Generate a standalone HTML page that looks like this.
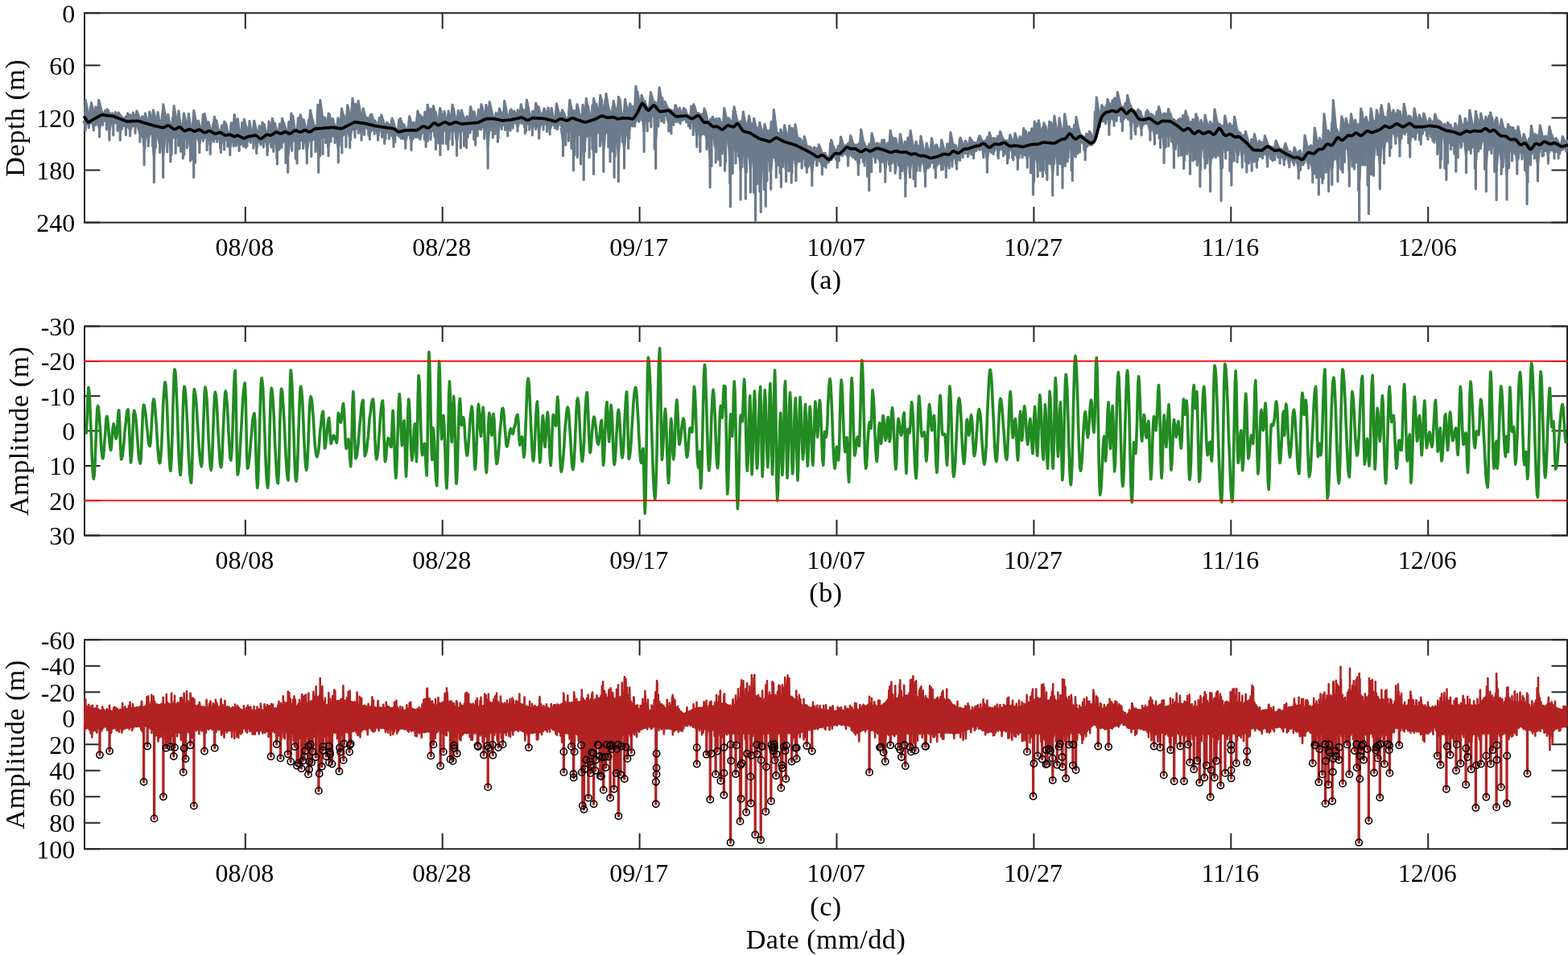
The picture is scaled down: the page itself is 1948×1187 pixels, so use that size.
<!DOCTYPE html>
<html lang="en">
<head>
<meta charset="utf-8">
<title>Depth and amplitude time series</title>
<style>
html,body{margin:0;padding:0;background:#fff;}
body{width:1948px;height:1187px;overflow:hidden;}
svg{display:block;}
svg text{font-family:"Liberation Serif","DejaVu Serif",serif;font-size:32px;fill:#000;}
svg text.L{font-size:34.2px;letter-spacing:0.5px;}
</style>
</head>
<body>
<svg width="1948" height="1187" viewBox="0 0 1948 1187">
<rect width="1948" height="1187" fill="#fff"/>
<g id="panel-a">
<rect x="105.0" y="16.2" width="1842.0" height="260.4" fill="none" stroke="#262626" stroke-width="2"/>
<path d="M304.8 276.6v-19.5M304.8 16.2v19.5M549.7 276.6v-19.5M549.7 16.2v19.5M794.6 276.6v-19.5M794.6 16.2v19.5M1039.5 276.6v-19.5M1039.5 16.2v19.5M1284.4 276.6v-19.5M1284.4 16.2v19.5M1529.3 276.6v-19.5M1529.3 16.2v19.5M1774.2 276.6v-19.5M1774.2 16.2v19.5M105.0 16.2h19.5M1947.0 16.2h-19.5M105.0 81.3h19.5M1947.0 81.3h-19.5M105.0 146.4h19.5M1947.0 146.4h-19.5M105.0 211.5h19.5M1947.0 211.5h-19.5M105.0 276.6h19.5M1947.0 276.6h-19.5" stroke="#262626" stroke-width="2" fill="none"/>
<path d="M105 142.4L106.2 143.3L107.4 145.4L108.6 147.4L109.8 147.3L111 147.6L112.2 147L113.4 145.6L114.6 144.6L115.8 144.6L117 144.8L118.2 143.7L119.4 143.7L120.6 143.3L121.8 142.1L123 141.3L124.2 140.7L125.4 140.1L126.6 138.8L127.8 139L129 140L130.2 140.2L131.4 139.7L132.6 139.7L133.8 139.7L135 141.3L136.2 140.1L137.4 140.2L138.6 141.7L139.8 140.8L141 142L142.2 141.2L143.4 142.9L144.6 143.4L145.8 142.8L147 143.6L148.2 144.6L149.4 145.1L150.6 145.6L151.8 145.9L153 145.2L154.2 146.7L155.4 147.2L156.6 146.7L157.8 148.1L159 148L160.2 147.1L161.4 147.8L162.6 148.1L163.8 147.8L165 147.6L166.2 146.7L167.4 147.2L168.6 147.8L169.8 146.6L171 147.6L172.2 146.9L173.4 148.1L174.6 147.4L175.8 148.5L177 149.4L178.2 149.5L179.4 149.8L180.6 149.7L181.8 150.6L183 151.2L184.2 150.8L185.4 151.1L186.6 151L187.8 152.7L189 152.3L190.2 153L191.4 152.6L192.6 153.1L193.8 152.4L195 153L196.2 154L197.4 154.4L198.6 153.6L199.8 154.8L201 154.3L202.2 154.7L203.4 154.9L204.6 153.4L205.8 152.9L207 152.4L208.2 152.6L209.4 151.8L210.6 153.2L211.8 153.1L213 154.1L214.2 154.9L215.4 156.3L216.6 155.6L217.8 156L219 155.6L220.2 155.6L221.4 155.7L222.6 155.4L223.8 155L225 155.5L226.2 156.5L227.4 157.8L228.6 158.6L229.8 159.1L231 157.8L232.2 158.2L233.4 158L234.6 157.9L235.8 156.9L237 157.1L238.2 158L239.4 159.1L240.6 158.5L241.8 158.9L243 159.3L244.2 158.7L245.4 158.7L246.6 157.8L247.8 158L249 157.5L250.2 159.6L251.4 159L252.6 160L253.8 161.2L255 161.5L256.2 160.6L257.4 159.7L258.6 160.4L259.8 159.4L261 159.7L262.2 160L263.4 160.8L264.6 161.6L265.8 162.9L267 162.4L268.2 163.1L269.4 162.1L270.6 162L271.8 162L273 160.9L274.2 161.1L275.4 163L276.6 163L277.8 164.1L279 163.9L280.2 164.1L281.4 164.4L282.6 164.1L283.8 164L285 164.4L286.2 163.3L287.4 164.5L288.6 165.3L289.8 165L291 166.6L292.2 165.5L293.4 165.2L294.6 164.4L295.8 164.5L297 165.7L298.2 166.5L299.4 166.4L300.6 166.4L301.8 166.8L303 167.3L304.2 168.1L305.4 167.6L306.6 166.6L307.8 165.9L309 166.5L310.2 165.6L311.4 166.4L312.6 165.1L313.8 165.6L315 165.4L316.2 165.1L317.4 164.5L318.6 165.8L319.8 166.4L321 166.9L322.2 167.9L323.4 167.8L324.6 168.8L325.8 168.3L327 166.6L328.2 166.4L329.4 166.1L330.6 164.3L331.8 163.7L333 164.7L334.2 164.3L335.4 165.1L336.6 165.3L337.8 164.7L339 163.8L340.2 162.7L341.4 162.2L342.6 161.3L343.8 161.6L345 161.4L346.2 161.6L347.4 162L348.6 162.3L349.8 161.8L351 162.2L352.2 161.9L353.4 160.4L354.6 161.1L355.8 161.4L357 161L358.2 161.5L359.4 162.5L360.6 162.9L361.8 161.2L363 160.2L364.2 160.2L365.4 159.6L366.6 159.5L367.8 159.6L369 159.3L370.2 159.6L371.4 160.5L372.6 159.8L373.8 159.5L375 160.4L376.2 159.3L377.4 159.1L378.6 158.3L379.8 158.1L381 158.4L382.2 159.6L383.4 159.2L384.6 160.1L385.8 159L387 157.8L388.2 157.4L389.4 156.8L390.6 156.2L391.8 155.1L393 156.1L394.2 155.3L395.4 155.1L396.6 154.9L397.8 155.1L399 154.9L400.2 155L401.4 155.5L402.6 155.9L403.8 154.9L405 155.5L406.2 154.8L407.4 154.8L408.6 154.9L409.8 154.2L411 154.6L412.2 154.2L413.4 154.9L414.6 155.5L415.8 156L417 155.6L418.2 155.8L419.4 155.4L420.6 154.9L421.8 154.9L423 155.2L424.2 155.4L425.4 155.8L426.6 155.1L427.8 154.5L429 153.2L430.2 152.2L431.4 152.2L432.6 151.9L433.8 150.9L435 150.9L436.2 150.4L437.4 149.9L438.6 149.5L439.8 148.7L441 147.8L442.2 147.5L443.4 149.1L444.6 148.7L445.8 148.1L447 148.9L448.2 148.9L449.4 148.7L450.6 149.5L451.8 149.7L453 150.5L454.2 150.3L455.4 150.7L456.6 151L457.8 151.1L459 151.1L460.2 151.1L461.4 151.8L462.6 153L463.8 152.3L465 153.2L466.2 153L467.4 153.3L468.6 153.2L469.8 154.2L471 153.4L472.2 154.9L473.4 154.7L474.6 154.4L475.8 154.7L477 155.6L478.2 155.1L479.4 155.5L480.6 155.9L481.8 155.3L483 156.5L484.2 155.6L485.4 155.9L486.6 156.6L487.8 156.2L489 156.6L490.2 157.8L491.4 157.9L492.6 159.1L493.8 160.3L495 161.1L496.2 160.2L497.4 159.8L498.6 159.4L499.8 160L501 160L502.2 158.8L503.4 159.3L504.6 159.1L505.8 159L507 158.5L508.2 158.1L509.4 158.1L510.6 158.2L511.8 158.9L513 158L514.2 159L515.4 158.7L516.6 158.6L517.8 158.7L519 157.2L520.2 156.4L521.4 156.7L522.6 155L523.8 155.6L525 154.1L526.2 153L527.4 153.6L528.6 154.3L529.8 155.3L531 154.6L532.2 155.7L533.4 154.8L534.6 153.1L535.8 152.8L537 151.4L538.2 150.6L539.4 149.1L540.6 150.1L541.8 150.3L543 150.6L544.2 151.2L545.4 151L546.6 150.5L547.8 149.9L549 150L550.2 149.1L551.4 149.2L552.6 148.4L553.8 149.2L555 149.9L556.2 150.2L557.4 150.9L558.6 151.2L559.8 150.1L561 150.8L562.2 149.7L563.4 150.2L564.6 149.6L565.8 149.1L567 148.8L568.2 149.7L569.4 150.1L570.6 150.2L571.8 149.7L573 150.9L574.2 149.9L575.4 150.4L576.6 150.4L577.8 151L579 149.8L580.2 150.2L581.4 150.5L582.6 149.8L583.8 150.7L585 150L586.2 149.3L587.4 150L588.6 149.6L589.8 148.7L591 148.9L592.2 149.3L593.4 149.3L594.6 149.1L595.8 147.4L597 148L598.2 146.6L599.4 146.4L600.6 145.2L601.8 144.9L603 144.5L604.2 143.9L605.4 144L606.6 144.4L607.8 145L609 144.8L610.2 145.1L611.4 144.6L612.6 144.7L613.8 145.1L615 144.7L616.2 144.4L617.4 145.9L618.6 145.1L619.8 145.5L621 146.6L622.2 145.6L623.4 146.2L624.6 146.7L625.8 146.7L627 146.5L628.2 146.6L629.4 145.7L630.6 145.3L631.8 145.5L633 145.2L634.2 146.1L635.4 145.2L636.6 145.7L637.8 144.4L639 145.3L640.2 145L641.4 144.4L642.6 143.3L643.8 143.7L645 143.1L646.2 143.4L647.4 143.2L648.6 143.3L649.8 142.9L651 143.9L652.2 145.4L653.4 145.3L654.6 146.1L655.8 145.6L657 144.7L658.2 145.3L659.4 143.7L660.6 144.1L661.8 144.1L663 142.8L664.2 143.3L665.4 144.1L666.6 143.5L667.8 144.4L669 143.7L670.2 144.1L671.4 144.1L672.6 144.5L673.8 144.6L675 144L676.2 144.1L677.4 143.9L678.6 144.3L679.8 145.6L681 145.7L682.2 146L683.4 145.4L684.6 146.1L685.8 147.2L687 146.1L688.2 146.9L689.4 147.1L690.6 147.5L691.8 146.4L693 146.7L694.2 146.2L695.4 144.9L696.6 144.7L697.8 144.8L699 144.9L700.2 145.2L701.4 145.1L702.6 146.1L703.8 146.1L705 146L706.2 145.8L707.4 144.7L708.6 144.7L709.8 143.9L711 143.5L712.2 144L713.4 144.5L714.6 144.2L715.8 144.5L717 144.8L718.2 145.3L719.4 146.3L720.6 146.1L721.8 147L723 146.6L724.2 147.3L725.4 147.7L726.6 146.9L727.8 147.2L729 147.3L730.2 147.2L731.4 146.3L732.6 146.6L733.8 146.2L735 144.6L736.2 145.3L737.4 144.8L738.6 143.5L739.8 143.7L741 142.9L742.2 143.2L743.4 142.3L744.6 140.8L745.8 141L747 140.8L748.2 139.8L749.4 140.2L750.6 141.1L751.8 140.9L753 142.3L754.2 142.5L755.4 142.7L756.6 141.6L757.8 141.3L759 141.6L760.2 141.6L761.4 141.9L762.6 142.5L763.8 142.2L765 143.4L766.2 143.2L767.4 143.9L768.6 143.1L769.8 143.9L771 142.8L772.2 143.6L773.4 143.7L774.6 143.1L775.8 143L777 142.8L778.2 143.3L779.4 143.5L780.6 142.5L781.8 143.3L783 143.4L784.2 142.2L785.4 143L786.6 143L787.8 141.7L789 140.1L790.2 138.9L791.4 136.5L792.6 135L793.8 132.7L795 130.2L796.2 128.3L797.4 126.4L798.6 126.2L799.8 127L801 129.3L802.2 130.7L803.4 131.7L804.6 132.9L805.8 133.1L807 132.8L808.2 132L809.4 130.4L810.6 129.6L811.8 128.8L813 128.2L814.2 129.1L815.4 131.4L816.6 132.8L817.8 133.2L819 135L820.2 135.8L821.4 135.6L822.6 135.5L823.8 134.4L825 135.4L826.2 134.9L827.4 133.9L828.6 134.5L829.8 133.6L831 134.5L832.2 136L833.4 135.7L834.6 137.4L835.8 138.2L837 139.8L838.2 139.6L839.4 141.3L840.6 141.3L841.8 141.4L843 141.5L844.2 140.5L845.4 141.9L846.6 140.9L847.8 141.3L849 140.4L850.2 140.3L851.4 141L852.6 141.2L853.8 141.9L855 142.5L856.2 143.1L857.4 143.5L858.6 144L859.8 143.1L861 142.9L862.2 143.1L863.4 142.1L864.6 142.2L865.8 141.8L867 140.9L868.2 140.6L869.4 142.6L870.6 143.2L871.8 144.9L873 146.1L874.2 148.4L875.4 149.6L876.6 149.1L877.8 148.7L879 148.8L880.2 150.2L881.4 150.4L882.6 151.7L883.8 152.3L885 153.1L886.2 153.9L887.4 154.7L888.6 154.3L889.8 154L891 153.6L892.2 155.1L893.4 155.9L894.6 156.9L895.8 156.8L897 156.8L898.2 157L899.4 156.7L900.6 155.1L901.8 153.8L903 153.1L904.2 152.9L905.4 153.7L906.6 153.6L907.8 153.9L909 153.9L910.2 154.5L911.4 154.6L912.6 153.9L913.8 152.9L915 150.8L916.2 150L917.4 152L918.6 154.1L919.8 155.7L921 156.5L922.2 158.4L923.4 160.1L924.6 159.3L925.8 160.6L927 161.1L928.2 160.8L929.4 161.6L930.6 161L931.8 161.9L933 162.9L934.2 163.8L935.4 163.6L936.6 164.2L937.8 166.1L939 166.5L940.2 166.2L941.4 168L942.6 168L943.8 169.6L945 169.4L946.2 169.6L947.4 169.8L948.6 170L949.8 169.7L951 170.9L952.2 171.3L953.4 171.1L954.6 171.1L955.8 172.7L957 171.8L958.2 171.5L959.4 170.3L960.6 170.5L961.8 169.7L963 168.8L964.2 169L965.4 169.2L966.6 169.8L967.8 169.3L969 170.8L970.2 170.3L971.4 171.8L972.6 171.5L973.8 172.2L975 172.7L976.2 173.6L977.4 173.2L978.6 174L979.8 174.1L981 174.3L982.2 175.8L983.4 175.4L984.6 176.5L985.8 176.3L987 176.1L988.2 176.9L989.4 177.4L990.6 177.6L991.8 179.5L993 180L994.2 180.3L995.4 179.9L996.6 181.5L997.8 181.7L999 182.6L1000.2 182.6L1001.4 183.9L1002.6 184L1003.8 184.1L1005 185.1L1006.2 185.6L1007.4 187.3L1008.6 186.9L1009.8 188.3L1011 189.2L1012.2 189.6L1013.4 190.2L1014.6 191.5L1015.8 191.8L1017 191.9L1018.2 190.3L1019.4 191.1L1020.6 190.1L1021.8 190.3L1023 190.5L1024.2 190.9L1025.4 192.8L1026.6 192.7L1027.8 194.1L1029 194L1030.2 195.1L1031.4 193.4L1032.6 193.2L1033.8 191.8L1035 190.1L1036.2 188.9L1037.4 188.5L1038.6 186.9L1039.8 187.6L1041 187.2L1042.2 187.8L1043.4 186.9L1044.6 185.8L1045.8 184.8L1047 184.1L1048.2 182.7L1049.4 182.1L1050.6 181.3L1051.8 179.9L1053 179.9L1054.2 180.6L1055.4 180.5L1056.6 182.3L1057.8 181.4L1059 181.3L1060.2 181.3L1061.4 182.1L1062.6 182.1L1063.8 183.2L1065 183.2L1066.2 183.6L1067.4 184.7L1068.6 185.1L1069.8 186.1L1071 185.1L1072.2 184.7L1073.4 183.2L1074.6 183.2L1075.8 182.1L1077 183.6L1078.2 182.8L1079.4 183.7L1080.6 184.1L1081.8 184.1L1083 183.3L1084.2 183.3L1085.4 183.4L1086.6 182L1087.8 181.5L1089 181.5L1090.2 181.1L1091.4 181.5L1092.6 181.6L1093.8 182L1095 181.8L1096.2 182.8L1097.4 182.7L1098.6 183L1099.8 183.9L1101 184.8L1102.2 184.6L1103.4 184.5L1104.6 184.7L1105.8 185.3L1107 185.3L1108.2 185.1L1109.4 185.6L1110.6 185L1111.8 184.1L1113 185L1114.2 185.6L1115.4 184.7L1116.6 185.7L1117.8 185L1119 185.6L1120.2 185.5L1121.4 186.2L1122.6 186.6L1123.8 185.1L1125 186.4L1126.2 186.4L1127.4 186.5L1128.6 187.7L1129.8 187.9L1131 187.3L1132.2 188.7L1133.4 188.4L1134.6 188.3L1135.8 187.6L1137 187.5L1138.2 188.6L1139.4 188.4L1140.6 189.8L1141.8 189.1L1143 190.2L1144.2 189.4L1145.4 189.9L1146.6 190.7L1147.8 191L1149 190.7L1150.2 191.1L1151.4 191.4L1152.6 192L1153.8 192.6L1155 192.9L1156.2 193.2L1157.4 192.5L1158.6 191.9L1159.8 191.9L1161 192.1L1162.2 191.9L1163.4 191.6L1164.6 191.5L1165.8 190.6L1167 190.5L1168.2 189.3L1169.4 189.6L1170.6 188.6L1171.8 188.5L1173 188.9L1174.2 189L1175.4 188.6L1176.6 188.2L1177.8 187.9L1179 189.3L1180.2 188.3L1181.4 187.1L1182.6 185.6L1183.8 184.1L1185 184.3L1186.2 185L1187.4 185.7L1188.6 187.1L1189.8 187.1L1191 186.8L1192.2 186.1L1193.4 185.5L1194.6 183.8L1195.8 183.9L1197 182.5L1198.2 182.4L1199.4 181.4L1200.6 182.3L1201.8 182.3L1203 180.8L1204.2 181.9L1205.4 180.7L1206.6 180.9L1207.8 180.1L1209 179.9L1210.2 179.5L1211.4 178.5L1212.6 177.9L1213.8 178.3L1215 178.4L1216.2 177.7L1217.4 176.9L1218.6 176.2L1219.8 175.4L1221 175.5L1222.2 174.6L1223.4 176.1L1224.6 177.4L1225.8 177.4L1227 179.1L1228.2 180.1L1229.4 180.1L1230.6 178.9L1231.8 179.1L1233 178.3L1234.2 177.5L1235.4 176.5L1236.6 175.6L1237.8 175.2L1239 176.1L1240.2 176.4L1241.4 175.9L1242.6 176L1243.8 175.4L1245 175L1246.2 175.1L1247.4 174.8L1248.6 174.5L1249.8 175.7L1251 176.2L1252.2 176.8L1253.4 177.2L1254.6 178.9L1255.8 177.6L1257 178.1L1258.2 178.3L1259.4 178.2L1260.6 177.7L1261.8 178.1L1263 177.9L1264.2 178.8L1265.4 178.6L1266.6 178L1267.8 178L1269 179L1270.2 179.5L1271.4 178.4L1272.6 178.9L1273.8 177.9L1275 178.6L1276.2 178.3L1277.4 177.1L1278.6 176.6L1279.8 175.8L1281 175.9L1282.2 175.5L1283.4 175.5L1284.6 175L1285.8 175.1L1287 175.1L1288.2 175.4L1289.4 175.7L1290.6 174.5L1291.8 175L1293 173.7L1294.2 174.2L1295.4 173.5L1296.6 173L1297.8 173.5L1299 173L1300.2 173.7L1301.4 173.2L1302.6 173.3L1303.8 173L1305 173.3L1306.2 173.5L1307.4 173.9L1308.6 173.8L1309.8 173.8L1311 173.4L1312.2 172.1L1313.4 171.8L1314.6 170.6L1315.8 170.4L1317 169.2L1318.2 169.2L1319.4 169.6L1320.6 169L1321.8 169.6L1323 168.9L1324.2 168.1L1325.4 166.7L1326.6 165.1L1327.8 164.4L1329 162.7L1330.2 164.4L1331.4 166L1332.6 166.4L1333.8 168L1335 168.3L1336.2 169.1L1337.4 168.4L1338.6 168.6L1339.8 167.2L1341 166.3L1342.2 165.6L1343.4 166.7L1344.6 167.1L1345.8 168.9L1347 169.1L1348.2 170.6L1349.4 170.9L1350.6 171.9L1351.8 172.6L1353 172.9L1354.2 173.4L1355.4 172.6L1356.6 171.7L1357.8 170.9L1359 169.6L1360.2 168.3L1361.4 165.1L1362.6 162.2L1363.8 157.9L1365 154.1L1366.2 149.8L1367.4 145.1L1368.6 143.1L1369.8 141.9L1371 140.4L1372.2 138L1373.4 136.5L1374.6 136.6L1375.8 135.6L1377 135.4L1378.2 135.3L1379.4 135.8L1380.6 134L1381.8 133.8L1383 134.5L1384.2 134.9L1385.4 135.3L1386.6 135.7L1387.8 135.1L1389 134.7L1390.2 133.9L1391.4 132.4L1392.6 132.8L1393.8 132.6L1395 132.8L1396.2 134L1397.4 135.3L1398.6 137.8L1399.8 137.4L1401 136.5L1402.2 135.1L1403.4 134.7L1404.6 134.4L1405.8 133.3L1407 135.5L1408.2 135.4L1409.4 137L1410.6 138.1L1411.8 140.9L1413 141.4L1414.2 143L1415.4 144.8L1416.6 145.5L1417.8 145.4L1419 145.2L1420.2 145.1L1421.4 145.8L1422.6 145.7L1423.8 145.3L1425 144.2L1426.2 144.8L1427.4 144.4L1428.6 144.6L1429.8 145.5L1431 146.2L1432.2 146.4L1433.4 147.1L1434.6 148.9L1435.8 149.2L1437 149.6L1438.2 150.2L1439.4 149.1L1440.6 149.2L1441.8 147.8L1443 147.8L1444.2 147.4L1445.4 147.1L1446.6 147.3L1447.8 148.1L1449 147.6L1450.2 146.8L1451.4 147.9L1452.6 146.8L1453.8 147.9L1455 148.8L1456.2 148.4L1457.4 150.3L1458.6 150L1459.8 150.6L1461 152.2L1462.2 153.1L1463.4 154.3L1464.6 154.8L1465.8 155.8L1467 157L1468.2 157.2L1469.4 157.8L1470.6 157.9L1471.8 158.7L1473 158L1474.2 156.6L1475.4 157.2L1476.6 156.5L1477.8 157L1479 158.6L1480.2 159.2L1481.4 161.3L1482.6 161.2L1483.8 162.1L1485 162.7L1486.2 161.8L1487.4 160.9L1488.6 160.2L1489.8 160.1L1491 160.8L1492.2 162.2L1493.4 162.8L1494.6 162.5L1495.8 162.6L1497 162.5L1498.2 161.2L1499.4 161.6L1500.6 161.1L1501.8 160L1503 160.4L1504.2 161.1L1505.4 162.3L1506.6 163.3L1507.8 163.2L1509 163L1510.2 161.2L1511.4 161.1L1512.6 159.3L1513.8 157.7L1515 156.3L1516.2 158.5L1517.4 159.7L1518.6 160.7L1519.8 163.2L1521 164.2L1522.2 164.2L1523.4 164.8L1524.6 164L1525.8 163.7L1527 164.3L1528.2 163.8L1529.4 163.9L1530.6 164.8L1531.8 165.9L1533 166.4L1534.2 167.5L1535.4 166.5L1536.6 166.2L1537.8 166.5L1539 166.4L1540.2 167.1L1541.4 168L1542.6 169.8L1543.8 171L1545 171.5L1546.2 172L1547.4 172.7L1548.6 175.2L1549.8 176.3L1551 176.3L1552.2 178.6L1553.4 178.9L1554.6 180.3L1555.8 181.3L1557 182.3L1558.2 182.7L1559.4 183.1L1560.6 183L1561.8 183.5L1563 184.1L1564.2 183L1565.4 183.2L1566.6 183.2L1567.8 183.5L1569 183L1570.2 181.5L1571.4 181.2L1572.6 179.6L1573.8 178.7L1575 178.3L1576.2 179.9L1577.4 180.3L1578.6 181.7L1579.8 181.6L1581 181.9L1582.2 183.4L1583.4 184L1584.6 184.5L1585.8 183.9L1587 182.8L1588.2 183.4L1589.4 183.7L1590.6 183.3L1591.8 184.7L1593 184.9L1594.2 185.8L1595.4 186L1596.6 187.2L1597.8 187.9L1599 188.2L1600.2 189.7L1601.4 190.1L1602.6 190L1603.8 190.5L1605 191.2L1606.2 192.2L1607.4 192.6L1608.6 192L1609.8 193.1L1611 192L1612.2 193L1613.4 192.9L1614.6 193.8L1615.8 194L1617 195.5L1618.2 195.3L1619.4 193.4L1620.6 192.5L1621.8 190.5L1623 188.3L1624.2 187.6L1625.4 186.9L1626.6 187.4L1627.8 187.4L1629 187.1L1630.2 187.3L1631.4 187.5L1632.6 186.4L1633.8 186L1635 184.8L1636.2 183.6L1637.4 183.1L1638.6 182.1L1639.8 181.1L1641 181.6L1642.2 180.3L1643.4 180.6L1644.6 178.9L1645.8 177.5L1647 176.3L1648.2 175.4L1649.4 175.3L1650.6 175.1L1651.8 175.6L1653 176.2L1654.2 175.2L1655.4 174.8L1656.6 173.7L1657.8 172.6L1659 171.4L1660.2 168.8L1661.4 168L1662.6 167.2L1663.8 167.7L1665 169.2L1666.2 169.4L1667.4 169.1L1668.6 168.7L1669.8 168.1L1671 168.1L1672.2 166.9L1673.4 166.6L1674.6 164.6L1675.8 165.1L1677 164.9L1678.2 164.7L1679.4 164.8L1680.6 164.1L1681.8 163.6L1683 163.2L1684.2 161.6L1685.4 161.5L1686.6 162.9L1687.8 163.1L1689 163.9L1690.2 164.8L1691.4 163.5L1692.6 163.6L1693.8 163L1695 161.2L1696.2 161.1L1697.4 159.7L1698.6 158.7L1699.8 159.6L1701 159.3L1702.2 159.4L1703.4 160.4L1704.6 160.5L1705.8 159.9L1707 158.9L1708.2 159.7L1709.4 159.4L1710.6 158.7L1711.8 158.1L1713 157L1714.2 157.6L1715.4 156.1L1716.6 155.1L1717.8 155.3L1719 154.5L1720.2 154.1L1721.4 154.1L1722.6 153.7L1723.8 154.7L1725 154.7L1726.2 154.6L1727.4 155.3L1728.6 154.8L1729.8 153.9L1731 152.6L1732.2 152.5L1733.4 151.9L1734.6 151.2L1735.8 151.3L1737 151.7L1738.2 152.2L1739.4 152.9L1740.6 152.6L1741.8 153.6L1743 153.5L1744.2 153.4L1745.4 152.8L1746.6 152.6L1747.8 151.9L1749 151.2L1750.2 150.2L1751.4 150.8L1752.6 151.3L1753.8 151.4L1755 153L1756.2 152.9L1757.4 153.9L1758.6 154L1759.8 154.5L1761 153.8L1762.2 153.7L1763.4 155L1764.6 153.7L1765.8 154.3L1767 153.8L1768.2 153.6L1769.4 153.4L1770.6 154.5L1771.8 153.5L1773 153.5L1774.2 153.5L1775.4 153.1L1776.6 153.7L1777.8 152.8L1779 153.9L1780.2 153.6L1781.4 153.7L1782.6 154.7L1783.8 153.8L1785 154.9L1786.2 154.7L1787.4 154.8L1788.6 155.2L1789.8 155.5L1791 156.1L1792.2 157.7L1793.4 158.1L1794.6 158.8L1795.8 158.6L1797 159.3L1798.2 158.7L1799.4 159.3L1800.6 159.1L1801.8 159.9L1803 159.7L1804.2 160.1L1805.4 160.7L1806.6 161.3L1807.8 160.7L1809 162.4L1810.2 162.6L1811.4 162.2L1812.6 162.4L1813.8 163.3L1815 162.7L1816.2 163.1L1817.4 162L1818.6 161.8L1819.8 159.8L1821 160.2L1822.2 159.3L1823.4 160.3L1824.6 160.3L1825.8 160.2L1827 160.5L1828.2 160.4L1829.4 160.2L1830.6 159.2L1831.8 158.8L1833 158.7L1834.2 159.8L1835.4 159.7L1836.6 160L1837.8 158.8L1839 160.1L1840.2 158.7L1841.4 158L1842.6 158.7L1843.8 158L1845 157.3L1846.2 157.3L1847.4 157.6L1848.6 159.1L1849.8 159.5L1851 160.2L1852.2 159.6L1853.4 159.6L1854.6 158.3L1855.8 158.5L1857 158.5L1858.2 160.4L1859.4 161.4L1860.6 161.7L1861.8 163.6L1863 164L1864.2 164.9L1865.4 166L1866.6 165.2L1867.8 166.4L1869 165.6L1870.2 166.3L1871.4 166.1L1872.6 167.4L1873.8 167.6L1875 168.9L1876.2 170.4L1877.4 170.1L1878.6 169.8L1879.8 170L1881 170.4L1882.2 170.7L1883.4 170.4L1884.6 172.6L1885.8 173.2L1887 174.2L1888.2 175.9L1889.4 177.3L1890.6 176.9L1891.8 176.1L1893 175.2L1894.2 174.6L1895.4 175.2L1896.6 176.2L1897.8 178.3L1899 179.7L1900.2 180.5L1901.4 181.2L1902.6 180.2L1903.8 179.9L1905 178.9L1906.2 177.3L1907.4 175.6L1908.6 175L1909.8 176.3L1911 176.9L1912.2 176.2L1913.4 176.3L1914.6 175.7L1915.8 174.5L1917 174.3L1918.2 173.7L1919.4 173.1L1920.6 173.5L1921.8 174.4L1923 174.5L1924.2 174.7L1925.4 175.6L1926.6 175.4L1927.8 175.6L1929 174.7L1930.2 175.3L1931.4 174.9L1932.6 175.1L1933.8 176.3L1935 176.1L1936.2 176.1L1937.4 177.8L1938.6 178L1939.8 178.8L1941 178.6L1942.2 178.4L1943.4 177.3L1944.6 177.9L1945.8 177.2L1947 177.9L1947 185.2L1945.8 185.5L1944.6 185.6L1943.4 185.7L1942.2 186.6L1941 186.9L1939.8 187.9L1938.6 187.2L1937.4 186.1L1936.2 186.4L1935 185.7L1933.8 184.2L1932.6 184.5L1931.4 184.2L1930.2 184L1929 184.3L1927.8 185.2L1926.6 186L1925.4 186L1924.2 185.2L1923 185.3L1921.8 183.9L1920.6 184.9L1919.4 183.1L1918.2 183L1917 183.6L1915.8 184.3L1914.6 185.2L1913.4 187.5L1912.2 187.5L1911 187.2L1909.8 186.5L1908.6 188.8L1907.4 188.8L1906.2 189.1L1905 189.7L1903.8 191.8L1902.6 193.5L1901.4 192.6L1900.2 192.9L1899 191.8L1897.8 190.8L1896.6 190.4L1895.4 188.7L1894.2 187.3L1893 187.1L1891.8 189.2L1890.6 188.5L1889.4 188.4L1888.2 188.8L1887 188.1L1885.8 187.1L1884.6 186.5L1883.4 186.8L1882.2 185.2L1881 185.5L1879.8 184.8L1878.6 184.4L1877.4 184.7L1876.2 185.7L1875 186.8L1873.8 186.3L1872.6 186.6L1871.4 186.6L1870.2 185.7L1869 186.1L1867.8 186.2L1866.6 185.7L1865.4 184.9L1864.2 185.8L1863 184.8L1861.8 183.1L1860.6 182.3L1859.4 182.9L1858.2 181.8L1857 179.5L1855.8 179.3L1854.6 179.1L1853.4 177.8L1852.2 178.4L1851 178.3L1849.8 178.5L1848.6 178.1L1847.4 177.1L1846.2 176L1845 176.6L1843.8 175L1842.6 175.4L1841.4 175.2L1840.2 176.7L1839 175.8L1837.8 176.4L1836.6 175.8L1835.4 176.1L1834.2 177.2L1833 176.3L1831.8 176L1830.6 175.8L1829.4 174.4L1828.2 175.8L1827 175.6L1825.8 174.9L1824.6 175.9L1823.4 175.2L1822.2 175.8L1821 174.6L1819.8 175.2L1818.6 174.8L1817.4 175.9L1816.2 176L1815 175.9L1813.8 176.1L1812.6 176.9L1811.4 177L1810.2 176.1L1809 175.5L1807.8 176.2L1806.6 175.1L1805.4 176.3L1804.2 174.6L1803 175.1L1801.8 175.2L1800.6 174.4L1799.4 175.3L1798.2 174.3L1797 174.3L1795.8 175.2L1794.6 172.7L1793.4 172.1L1792.2 172L1791 169.7L1789.8 170.6L1788.6 169.3L1787.4 168.6L1786.2 169.2L1785 167.6L1783.8 165.5L1782.6 164.6L1781.4 164.4L1780.2 163.4L1779 163.5L1777.8 163.9L1776.6 163.3L1775.4 163.4L1774.2 163.7L1773 164.1L1771.8 162.5L1770.6 163.2L1769.4 162.6L1768.2 162.8L1767 163.7L1765.8 163.4L1764.6 163.9L1763.4 163.5L1762.2 164.8L1761 165.1L1759.8 164.2L1758.6 164L1757.4 164.3L1756.2 164.2L1755 162.4L1753.8 162.7L1752.6 161L1751.4 160.6L1750.2 162.9L1749 162.8L1747.8 163.2L1746.6 163.6L1745.4 164.4L1744.2 165.5L1743 166.4L1741.8 165.1L1740.6 165.2L1739.4 164.1L1738.2 164.6L1737 163L1735.8 163.2L1734.6 163.5L1733.4 164.9L1732.2 165.4L1731 166.6L1729.8 166.6L1728.6 168.2L1727.4 168L1726.2 169.8L1725 170.2L1723.8 168.4L1722.6 169.6L1721.4 170.2L1720.2 170.4L1719 172L1717.8 173.8L1716.6 176.9L1715.4 176.8L1714.2 178L1713 179.4L1711.8 180.3L1710.6 180.1L1709.4 181.5L1708.2 181.1L1707 180.6L1705.8 182.4L1704.6 183.5L1703.4 182.5L1702.2 182L1701 182L1699.8 182.8L1698.6 182.8L1697.4 181.5L1696.2 183.1L1695 184.2L1693.8 183.6L1692.6 184.4L1691.4 186.5L1690.2 185.5L1689 185.6L1687.8 183.7L1686.6 183.7L1685.4 182.8L1684.2 183L1683 182.7L1681.8 183.9L1680.6 184.9L1679.4 185.5L1678.2 184.4L1677 183.5L1675.8 184.7L1674.6 184.7L1673.4 185.3L1672.2 185.7L1671 186.5L1669.8 188L1668.6 187.5L1667.4 188L1666.2 188.7L1665 188.6L1663.8 187.8L1662.6 187.6L1661.4 187.5L1660.2 189.2L1659 190L1657.8 192L1656.6 193.5L1655.4 193.3L1654.2 193.9L1653 194.1L1651.8 194.7L1650.6 195.1L1649.4 194.7L1648.2 195.1L1647 196.1L1645.8 197.8L1644.6 197.5L1643.4 199.1L1642.2 199.6L1641 199.9L1639.8 199.2L1638.6 199.2L1637.4 200.1L1636.2 199.9L1635 200.4L1633.8 201L1632.6 201.6L1631.4 202.2L1630.2 201.6L1629 199.4L1627.8 200L1626.6 198.6L1625.4 199.4L1624.2 199.1L1623 200.2L1621.8 199.5L1620.6 200.9L1619.4 200.8L1618.2 201.7L1617 202.7L1615.8 201.9L1614.6 201.4L1613.4 201L1612.2 199.9L1611 199.8L1609.8 199.5L1608.6 199.2L1607.4 200.9L1606.2 198.8L1605 199.1L1603.8 199L1602.6 197.9L1601.4 198.2L1600.2 197.4L1599 195.9L1597.8 195.7L1596.6 196.7L1595.4 194.7L1594.2 195.4L1593 194L1591.8 193.7L1590.6 192.1L1589.4 192.3L1588.2 192.1L1587 192.7L1585.8 192.5L1584.6 191.7L1583.4 192L1582.2 192L1581 190.7L1579.8 190.6L1578.6 190.9L1577.4 189.7L1576.2 188.8L1575 189.3L1573.8 189.3L1572.6 189.2L1571.4 191.2L1570.2 191.9L1569 192.1L1567.8 192L1566.6 192.8L1565.4 193.5L1564.2 192.4L1563 192.5L1561.8 193L1560.6 193.6L1559.4 194.6L1558.2 194.5L1557 194.1L1555.8 191.8L1554.6 191.1L1553.4 191.9L1552.2 190.4L1551 188.8L1549.8 189.2L1548.6 187.8L1547.4 186.9L1546.2 186.8L1545 185.9L1543.8 184.8L1542.6 185.1L1541.4 183.2L1540.2 182.3L1539 182.9L1537.8 182.8L1536.6 182.8L1535.4 182.5L1534.2 181.4L1533 181.2L1531.8 181.6L1530.6 180.5L1529.4 181.3L1528.2 180.3L1527 182.2L1525.8 182.2L1524.6 181.2L1523.4 181.1L1522.2 181.7L1521 181.8L1519.8 180.4L1518.6 179.8L1517.4 179.4L1516.2 178L1515 176.8L1513.8 178.7L1512.6 178.2L1511.4 179.5L1510.2 179.7L1509 180.5L1507.8 181.7L1506.6 181.5L1505.4 182.8L1504.2 180.7L1503 181.3L1501.8 179.6L1500.6 179.6L1499.4 179.8L1498.2 180L1497 179.9L1495.8 180.7L1494.6 180.3L1493.4 179.6L1492.2 179.1L1491 178.2L1489.8 178.6L1488.6 178.5L1487.4 177.3L1486.2 179.1L1485 178.4L1483.8 179.2L1482.6 177.9L1481.4 178.8L1480.2 176.9L1479 176.1L1477.8 175.9L1476.6 173.7L1475.4 173.5L1474.2 173.7L1473 174.5L1471.8 173.5L1470.6 173.8L1469.4 174.4L1468.2 173.8L1467 172.9L1465.8 171.2L1464.6 170L1463.4 169.4L1462.2 169.9L1461 167.3L1459.8 167.4L1458.6 167.3L1457.4 166.5L1456.2 164.9L1455 165L1453.8 164.7L1452.6 164.5L1451.4 164.1L1450.2 162.5L1449 161.8L1447.8 162.2L1446.6 162.5L1445.4 161.8L1444.2 160.4L1443 161.5L1441.8 161.6L1440.6 160.7L1439.4 162.8L1438.2 161.6L1437 162.3L1435.8 160.2L1434.6 160.6L1433.4 159.4L1432.2 158.8L1431 157.2L1429.8 156L1428.6 156.2L1427.4 154.4L1426.2 154.5L1425 154.1L1423.8 154.5L1422.6 154.1L1421.4 155.8L1420.2 154.9L1419 154.5L1417.8 154.8L1416.6 155L1415.4 153.9L1414.2 153.2L1413 153L1411.8 149.8L1410.6 150L1409.4 148.5L1408.2 147.9L1407 145.8L1405.8 146.9L1404.6 145.1L1403.4 146.9L1402.2 145.4L1401 147L1399.8 147.7L1398.6 146.8L1397.4 146.7L1396.2 145.8L1395 145L1393.8 143.7L1392.6 142.8L1391.4 143.9L1390.2 144.5L1389 144.1L1387.8 145.2L1386.6 145L1385.4 145L1384.2 144.4L1383 143.9L1381.8 145.1L1380.6 145.2L1379.4 145.3L1378.2 144.6L1377 144.9L1375.8 145.6L1374.6 145.6L1373.4 146L1372.2 146.9L1371 150L1369.8 151.5L1368.6 151.8L1367.4 154.1L1366.2 157.9L1365 161.4L1363.8 166.4L1362.6 170.9L1361.4 173.7L1360.2 178.2L1359 178.8L1357.8 179.9L1356.6 181.5L1355.4 180.9L1354.2 181.2L1353 180L1351.8 180.4L1350.6 179.9L1349.4 179.5L1348.2 178.7L1347 178.9L1345.8 179.6L1344.6 179L1343.4 177.8L1342.2 178.5L1341 178.3L1339.8 178.1L1338.6 179.7L1337.4 180L1336.2 180.8L1335 182.3L1333.8 180.7L1332.6 181L1331.4 181L1330.2 180.9L1329 178.9L1327.8 180.9L1326.6 182.6L1325.4 184.9L1324.2 185.5L1323 186.7L1321.8 187.3L1320.6 186.5L1319.4 188L1318.2 187.3L1317 188.4L1315.8 189.4L1314.6 189.6L1313.4 190.5L1312.2 190.9L1311 191.1L1309.8 191.4L1308.6 191.8L1307.4 192.1L1306.2 192L1305 191.3L1303.8 191.6L1302.6 190.4L1301.4 189.6L1300.2 191.5L1299 191.5L1297.8 190.9L1296.6 192.2L1295.4 192.3L1294.2 190.7L1293 191.5L1291.8 192.2L1290.6 190.7L1289.4 191.2L1288.2 191.3L1287 191.1L1285.8 191.2L1284.6 190.4L1283.4 192.2L1282.2 191.1L1281 190.4L1279.8 192.1L1278.6 190.5L1277.4 191.3L1276.2 190.1L1275 190.3L1273.8 190L1272.6 190.4L1271.4 189.3L1270.2 190.5L1269 189.3L1267.8 188.6L1266.6 188.4L1265.4 187.8L1264.2 187.2L1263 188.3L1261.8 187.7L1260.6 187.9L1259.4 187.3L1258.2 187.9L1257 188.6L1255.8 186.8L1254.6 187.5L1253.4 187.2L1252.2 186L1251 185.5L1249.8 184.4L1248.6 184.1L1247.4 183.7L1246.2 184.6L1245 184.1L1243.8 184.3L1242.6 184.8L1241.4 184.7L1240.2 184.8L1239 185.9L1237.8 185.1L1236.6 185.7L1235.4 185.2L1234.2 186.5L1233 185.6L1231.8 186.5L1230.6 187.8L1229.4 188.6L1228.2 186.6L1227 186.7L1225.8 186.3L1224.6 185.7L1223.4 183.5L1222.2 184.9L1221 184.7L1219.8 185L1218.6 184.8L1217.4 185.1L1216.2 186.1L1215 186.1L1213.8 185.4L1212.6 185.9L1211.4 186.2L1210.2 186L1209 187.3L1207.8 187.6L1206.6 188.5L1205.4 188.3L1204.2 188.3L1203 189.7L1201.8 189.7L1200.6 189L1199.4 189.8L1198.2 190L1197 190.4L1195.8 191L1194.6 190.9L1193.4 192.6L1192.2 193.7L1191 196.1L1189.8 196.2L1188.6 195.6L1187.4 196.4L1186.2 195.5L1185 194.7L1183.8 195.8L1182.6 196L1181.4 196.4L1180.2 197.7L1179 198.7L1177.8 199.4L1176.6 198.4L1175.4 199.2L1174.2 198.6L1173 199.7L1171.8 199.2L1170.6 200.2L1169.4 199.5L1168.2 199.7L1167 199.9L1165.8 200.6L1164.6 201.9L1163.4 202.7L1162.2 201.6L1161 201.4L1159.8 202.6L1158.6 202.4L1157.4 202.6L1156.2 203.5L1155 203.4L1153.8 202.8L1152.6 202.9L1151.4 203.2L1150.2 201.9L1149 202.7L1147.8 202.3L1146.6 202L1145.4 201.9L1144.2 202.6L1143 201.8L1141.8 202.6L1140.6 201.5L1139.4 201.9L1138.2 201L1137 201.9L1135.8 201.3L1134.6 201.6L1133.4 201.1L1132.2 202.4L1131 202.2L1129.8 201.6L1128.6 202L1127.4 201.5L1126.2 201.1L1125 199.4L1123.8 200.6L1122.6 199.3L1121.4 198.7L1120.2 198.6L1119 199.5L1117.8 199L1116.6 198.7L1115.4 198L1114.2 197.9L1113 198L1111.8 197L1110.6 197.9L1109.4 198.5L1108.2 198.4L1107 197.4L1105.8 197.7L1104.6 197.9L1103.4 197.1L1102.2 195.8L1101 196.9L1099.8 196.2L1098.6 196.1L1097.4 194.5L1096.2 195.6L1095 193.8L1093.8 194.9L1092.6 194.6L1091.4 193.8L1090.2 194.7L1089 194.1L1087.8 194.6L1086.6 194.8L1085.4 195.6L1084.2 195L1083 195.4L1081.8 196.3L1080.6 194.9L1079.4 195L1078.2 194.2L1077 194.3L1075.8 194L1074.6 194.8L1073.4 194.3L1072.2 195.3L1071 196.9L1069.8 197L1068.6 195.8L1067.4 195.5L1066.2 195L1065 192.8L1063.8 192.4L1062.6 191.7L1061.4 190.7L1060.2 190.5L1059 191.1L1057.8 190.4L1056.6 190.4L1055.4 189.9L1054.2 189.3L1053 189.5L1051.8 190.2L1050.6 190.1L1049.4 190.5L1048.2 190.8L1047 192L1045.8 193.1L1044.6 193.3L1043.4 195.3L1042.2 195.6L1041 195.5L1039.8 195.6L1038.6 194L1037.4 194.5L1036.2 196L1035 197.7L1033.8 197.6L1032.6 199L1031.4 200.3L1030.2 202.9L1029 202.8L1027.8 201.9L1026.6 200.6L1025.4 200.1L1024.2 199.2L1023 198.8L1021.8 199.5L1020.6 200.1L1019.4 199.1L1018.2 199.9L1017 199.8L1015.8 200.5L1014.6 200.7L1013.4 199.7L1012.2 198.9L1011 198.1L1009.8 197.8L1008.6 197.5L1007.4 196.7L1006.2 196.3L1005 196.6L1003.8 196L1002.6 196.7L1001.4 195.7L1000.2 196.5L999 195.2L997.8 195.5L996.6 194.4L995.4 194.1L994.2 194.9L993 193.1L991.8 194L990.6 194.2L989.4 193.1L988.2 193.1L987 192.4L985.8 193.8L984.6 191.7L983.4 191.9L982.2 192L981 192.6L979.8 191.9L978.6 191.2L977.4 191.8L976.2 191.4L975 190.2L973.8 189.7L972.6 189.7L971.4 189.5L970.2 188.3L969 189.6L967.8 188.5L966.6 188.1L965.4 188.5L964.2 187.1L963 187.7L961.8 188.5L960.6 189.3L959.4 190.5L958.2 191L957 193L955.8 194.5L954.6 195.7L953.4 196.2L952.2 197L951 198L949.8 196.9L948.6 197.6L947.4 197L946.2 196.8L945 195.7L943.8 196L942.6 194.9L941.4 194.4L940.2 193.7L939 193.6L937.8 193.4L936.6 192L935.4 191.4L934.2 190.2L933 188.5L931.8 188.4L930.6 188.3L929.4 187.6L928.2 188.1L927 186.8L925.8 186.6L924.6 185.7L923.4 184.7L922.2 183.6L921 182.9L919.8 181.7L918.6 180.1L917.4 178.8L916.2 177L915 178.4L913.8 178.8L912.6 178.4L911.4 177.7L910.2 177.6L909 176.6L907.8 175L906.6 174.5L905.4 173.5L904.2 172.6L903 171.4L901.8 172.2L900.6 174.5L899.4 174.8L898.2 176.7L897 175.8L895.8 176.3L894.6 175.1L893.4 172.9L892.2 172.8L891 171.7L889.8 171.5L888.6 172.2L887.4 171.2L886.2 171.8L885 170.2L883.8 169L882.6 168.6L881.4 167L880.2 166.4L879 164.3L877.8 161.9L876.6 163.3L875.4 163.5L874.2 161.8L873 160L871.8 160.2L870.6 158.3L869.4 156.7L868.2 155.8L867 156.7L865.8 155.2L864.6 154.4L863.4 154.7L862.2 153.8L861 153.7L859.8 154.2L858.6 152.8L857.4 151.6L856.2 149.9L855 150.1L853.8 149.2L852.6 149.8L851.4 149.8L850.2 149.1L849 149.4L847.8 149.6L846.6 148.4L845.4 149.1L844.2 149.6L843 149.1L841.8 150.3L840.6 148.9L839.4 148.6L838.2 148.8L837 148.7L835.8 146.1L834.6 145.9L833.4 145.1L832.2 144.8L831 145.4L829.8 144.2L828.6 145.8L827.4 144.6L826.2 145.2L825 145.9L823.8 146.8L822.6 146.7L821.4 145.9L820.2 147.1L819 145.9L817.8 144.9L816.6 143.6L815.4 142.9L814.2 142.6L813 143.5L811.8 144.4L810.6 145.6L809.4 146.4L808.2 147.3L807 147.4L805.8 149.5L804.6 149.1L803.4 146.3L802.2 145.7L801 144.1L799.8 143.4L798.6 142L797.4 140.9L796.2 142.3L795 144L793.8 147L792.6 149.6L791.4 150.6L790.2 152.9L789 154.7L787.8 155.1L786.6 157.6L785.4 157.3L784.2 155.8L783 157.5L781.8 157L780.6 157.6L779.4 159.1L778.2 161.6L777 162.1L775.8 163L774.6 164.7L773.4 165.6L772.2 165L771 165.2L769.8 164.6L768.6 165.3L767.4 165.6L766.2 165.6L765 164.4L763.8 164.2L762.6 164.2L761.4 163.8L760.2 165.6L759 164.2L757.8 165.7L756.6 164.6L755.4 164.2L754.2 165.8L753 165.1L751.8 165.6L750.6 163.6L749.4 163.7L748.2 163.1L747 164.7L745.8 163.7L744.6 165.7L743.4 165.3L742.2 166.6L741 165.3L739.8 166.4L738.6 167.8L737.4 166.8L736.2 167.7L735 167.6L733.8 169.1L732.6 169.9L731.4 170.4L730.2 170.3L729 170.7L727.8 171.1L726.6 171.3L725.4 169.2L724.2 169.6L723 169L721.8 169.7L720.6 168.8L719.4 168.6L718.2 167.3L717 167.2L715.8 167.2L714.6 167.2L713.4 165L712.2 166L711 164.6L709.8 165.2L708.6 164.3L707.4 165.1L706.2 165.4L705 164.9L703.8 164.4L702.6 163.1L701.4 162.9L700.2 161.3L699 160L697.8 159L696.6 157.3L695.4 155.9L694.2 155.3L693 155.7L691.8 155.2L690.6 156.8L689.4 157.1L688.2 156L687 157.1L685.8 155.3L684.6 154.9L683.4 154.9L682.2 155.5L681 155.9L679.8 155.6L678.6 154.9L677.4 155.6L676.2 153.9L675 154.4L673.8 155L672.6 155.1L671.4 154.1L670.2 155L669 154.5L667.8 153.5L666.6 153.4L665.4 154.9L664.2 154.6L663 153.9L661.8 154.1L660.6 153.8L659.4 154.3L658.2 155L657 155L655.8 155.6L654.6 154.7L653.4 154.8L652.2 153.6L651 153.8L649.8 153.7L648.6 153.2L647.4 151.7L646.2 152.5L645 153.7L643.8 153.5L642.6 153.3L641.4 152.7L640.2 153L639 153.4L637.8 154.3L636.6 154.2L635.4 155.1L634.2 154.2L633 154.4L631.8 155.1L630.6 155.8L629.4 155.6L628.2 155.7L627 156.9L625.8 156.4L624.6 157L623.4 156.4L622.2 156.1L621 157.6L619.8 156.5L618.6 156L617.4 156.2L616.2 156.7L615 157.2L613.8 156L612.6 156.6L611.4 156.6L610.2 155.8L609 155.8L607.8 156.9L606.6 156.3L605.4 155.8L604.2 155.6L603 156.8L601.8 157.5L600.6 158.6L599.4 158.9L598.2 158.8L597 159.6L595.8 161.1L594.6 161.5L593.4 161.7L592.2 161.4L591 162.4L589.8 161.5L588.6 161.1L587.4 161L586.2 162L585 162.6L583.8 162.1L582.6 161.8L581.4 163.4L580.2 162.6L579 162.5L577.8 164L576.6 162.8L575.4 164.6L574.2 163.7L573 164.8L571.8 163.7L570.6 163.6L569.4 163.8L568.2 162.6L567 162.2L565.8 163.2L564.6 162.6L563.4 162.7L562.2 164.7L561 164.2L559.8 164L558.6 165.1L557.4 164.1L556.2 165L555 163.5L553.8 162.5L552.6 163.9L551.4 162.4L550.2 163.2L549 164.1L547.8 164.4L546.6 165.1L545.4 165.3L544.2 165.1L543 164.1L541.8 164.2L540.6 163.2L539.4 163.1L538.2 162.9L537 164.4L535.8 165.1L534.6 164.8L533.4 166.4L532.2 166.8L531 167.1L529.8 165.1L528.6 166.1L527.4 164.4L526.2 165.3L525 165.5L523.8 165.9L522.6 165.9L521.4 167.4L520.2 167.5L519 168L517.8 168.5L516.6 168.1L515.4 167.9L514.2 167.8L513 168.8L511.8 167.8L510.6 167.7L509.4 168L508.2 169L507 168.3L505.8 167.4L504.6 168.6L503.4 167.7L502.2 169.1L501 168.5L499.8 169.4L498.6 168.3L497.4 168.9L496.2 169.3L495 168.5L493.8 169.5L492.6 167.9L491.4 168.4L490.2 167L489 167.3L487.8 165.9L486.6 165.4L485.4 165.2L484.2 165.9L483 164.7L481.8 166L480.6 164.9L479.4 165L478.2 165.2L477 165L475.8 163.5L474.6 163.3L473.4 163.6L472.2 162.6L471 163.9L469.8 163.8L468.6 162.1L467.4 162.8L466.2 162.5L465 161.7L463.8 162.2L462.6 162.5L461.4 161L460.2 162.2L459 161.1L457.8 160.7L456.6 160.2L455.4 160.7L454.2 159.4L453 159.1L451.8 159.8L450.6 159L449.4 160.4L448.2 159.7L447 160.8L445.8 159.5L444.6 160L443.4 161L442.2 161.2L441 159.5L439.8 161.7L438.6 162.1L437.4 161.3L436.2 161.8L435 163.9L433.8 164.3L432.6 164.6L431.4 166L430.2 166.5L429 166.6L427.8 168.3L426.6 169.1L425.4 170.8L424.2 170.8L423 169.4L421.8 170.5L420.6 170.2L419.4 170.1L418.2 171L417 169.4L415.8 169.5L414.6 170L413.4 170.7L412.2 169.3L411 170.9L409.8 170.9L408.6 170.6L407.4 171.1L406.2 170.7L405 172L403.8 171.5L402.6 171.6L401.4 172.4L400.2 172.1L399 172.9L397.8 173.7L396.6 174L395.4 173.1L394.2 173.9L393 174.3L391.8 174.2L390.6 173.9L389.4 174.2L388.2 175.7L387 176.1L385.8 175L384.6 175.4L383.4 175.5L382.2 175L381 175.3L379.8 173.3L378.6 174.1L377.4 174.5L376.2 175.5L375 176.2L373.8 174.8L372.6 176.7L371.4 174.8L370.2 174.4L369 174.9L367.8 173.7L366.6 174L365.4 176L364.2 177L363 176.3L361.8 178.4L360.6 177.5L359.4 178.6L358.2 177.1L357 177.3L355.8 176.2L354.6 177.2L353.4 176.2L352.2 178.3L351 178.5L349.8 177.6L348.6 178.7L347.4 177.1L346.2 177.3L345 176.6L343.8 176.2L342.6 175.1L341.4 175.8L340.2 176.1L339 175.8L337.8 176.7L336.6 177.3L335.4 176.9L334.2 175.8L333 175.1L331.8 174.4L330.6 175.1L329.4 176.6L328.2 176.5L327 178.1L325.8 177.7L324.6 178.3L323.4 179.2L322.2 177.6L321 176.3L319.8 176.5L318.6 176.5L317.4 175.4L316.2 174.3L315 175.2L313.8 174.6L312.6 175.2L311.4 176L310.2 176.2L309 175.3L307.8 175.8L306.6 176.1L305.4 176.9L304.2 177L303 176.3L301.8 176.7L300.6 176.7L299.4 176.4L298.2 174.9L297 175.9L295.8 174.4L294.6 174.2L293.4 174.6L292.2 176.5L291 176.3L289.8 175.7L288.6 176.4L287.4 175.7L286.2 175.7L285 175.5L283.8 175.3L282.6 175.6L281.4 174.6L280.2 175.3L279 175.8L277.8 174.8L276.6 175L275.4 173.5L274.2 173.6L273 172.1L271.8 173.7L270.6 173.9L269.4 173.6L268.2 173.5L267 173.2L265.8 173.3L264.6 172.3L263.4 171.9L262.2 173L261 171.9L259.8 171.3L258.6 170.9L257.4 171.6L256.2 171.5L255 172L253.8 173.5L252.6 172.5L251.4 171L250.2 170.4L249 170.8L247.8 171.2L246.6 171.5L245.4 172.4L244.2 172.5L243 172.6L241.8 174.4L240.6 173.9L239.4 172.9L238.2 172.2L237 171.9L235.8 172.8L234.6 171.9L233.4 172.7L232.2 173.5L231 173.4L229.8 172.7L228.6 173.4L227.4 171.4L226.2 172.6L225 171L223.8 169.9L222.6 170.4L221.4 171.1L220.2 171.7L219 171.5L217.8 171.6L216.6 172.7L215.4 171.8L214.2 171.3L213 170.4L211.8 170.3L210.6 170.2L209.4 169.9L208.2 169.6L207 170.9L205.8 171L204.6 172.4L203.4 172.5L202.2 173.7L201 173L199.8 172.6L198.6 173.1L197.4 172.8L196.2 170.8L195 171.7L193.8 171.5L192.6 171.2L191.4 169.1L190.2 168.7L189 167.7L187.8 167.5L186.6 166.9L185.4 166.4L184.2 167.1L183 165.6L181.8 165.6L180.6 164.2L179.4 164.2L178.2 163.1L177 163.2L175.8 160.1L174.6 160.3L173.4 159.7L172.2 159.2L171 157.4L169.8 158.5L168.6 157L167.4 158.4L166.2 157.6L165 157.6L163.8 157.9L162.6 157.9L161.4 156.9L160.2 157.4L159 157.3L157.8 158.8L156.6 157.9L155.4 157.1L154.2 157.7L153 157.2L151.8 155.9L150.6 156L149.4 156.2L148.2 156.1L147 155.2L145.8 154.3L144.6 153.7L143.4 153.8L142.2 154.4L141 153.3L139.8 153L138.6 153.6L137.4 153L136.2 153L135 152.4L133.8 153.4L132.6 152.3L131.4 152.1L130.2 151.2L129 151.3L127.8 152L126.6 152.5L125.4 151.3L124.2 152.5L123 152.6L121.8 153.2L120.6 152.5L119.4 152.2L118.2 151.9L117 152L115.8 153.5L114.6 154.6L113.4 153.3L112.2 155.3L111 154.7L109.8 156.1L108.6 155.1L107.4 154L106.2 152.5L105 151.4Z" fill="#6c7b8b" stroke="#6c7b8b" stroke-width="1" stroke-linejoin="round"/>
<path d="M105 144.1L105.8 124.1L106.8 124.1L111.2 148.6ZM111.2 148.6L112.9 127.2L113.9 127.2L118.3 145.5ZM120.5 144.4L122.2 124.1L123.2 124.1L127.6 141.3ZM130.8 141.7L132.5 135.4L133.5 135.4L137.9 142.7ZM145.1 144.7L146.8 139.5L147.8 139.5L152.2 147.4ZM156.4 148.9L158.1 140.5L159.1 140.5L163.5 149.2ZM167.7 149L169.4 137.5L170.4 137.5L174.8 149.8ZM188.2 153.8L189.9 136.4L190.9 136.4L195.3 155.1ZM200.6 155.9L202.3 129.3L203.3 129.3L207.7 154.3ZM213.9 156.6L215.6 131.3L216.6 131.3L221 157ZM226.2 158.4L227.9 140.5L228.9 140.5L233.3 159.5ZM238.6 160L240.3 136.9L241.3 136.9L245.7 160ZM251.9 161.6L253.6 141L254.6 141L259 161.5ZM264.2 163.2L265.9 144.7L266.9 144.7L271.3 163.7ZM276.5 164.9L278.2 150.8L279.2 150.8L283.6 166ZM288.9 166.9L290.6 142L291.6 142L296 166.8ZM301.2 168.9L302.9 147.7L303.9 147.7L308.3 168.1ZM313.5 167.5L315.2 149.8L316.2 149.8L320.6 168.7ZM323.8 170.4L325.5 151.8L326.5 151.8L330.9 166.5ZM336.1 166.7L337.8 146.7L338.8 146.7L343.2 162.9ZM348.4 164.5L350.1 146.7L351.1 146.7L355.5 162.7ZM359.7 164.2L361.4 140.5L362.4 140.5L366.8 160.7ZM371 161.6L372.7 142.2L373.7 142.2L378.1 160.3ZM383.3 161.3L385 136.4L386 136.4L390.4 158.2ZM395.6 157.3L397.3 124.1L398.3 124.1L402.7 156.9ZM405.9 156.8L407.6 140.5L408.6 140.5L413 156.8ZM422.3 157.4L424 134.4L425 134.4L429.4 154.9ZM429.5 154.9L431.2 130.3L432.2 130.3L436.6 151.6ZM435.7 152L437.4 122.1L438.4 122.1L442.8 150.1ZM442.9 150.1L444.6 125.1L445.6 125.1L450 151.3ZM449 151.1L450.7 134.4L451.7 134.4L456.1 152.5ZM459.3 153.3L461 141.6L462 141.6L466.4 155ZM471.6 155.8L473.3 142.6L474.3 142.6L478.7 157ZM478.7 157L480.4 151.8L481.4 151.8L485.8 158.1ZM484.9 157.9L486.6 146.7L487.6 146.7L492 160.4ZM495.1 162.2L496.8 146.7L497.8 146.7L502.2 160.9ZM506.4 160.5L508.1 144.2L509.1 144.2L513.5 160.3ZM516.7 160.2L518.4 137.5L519.4 137.5L523.8 156.6ZM521.8 157.7L523.5 144.7L524.5 144.7L528.9 156.2ZM529 156.2L530.7 129.7L531.7 129.7L536.1 153.9ZM536.2 153.8L537.9 131.3L538.9 131.3L543.3 153.1ZM544.4 153.4L546.1 134L547.1 134L551.5 150.8ZM559.8 152.3L561.5 129.7L562.5 129.7L566.9 150.6ZM571.1 151.8L572.8 136.4L573.8 136.4L578.2 152.1ZM582.4 151.8L584.1 131.9L585.1 131.9L589.5 151ZM595.7 149.6L597.4 129.3L598.4 129.3L602.8 146.8ZM606 146.3L607.7 126.2L608.7 126.2L613.1 146.3ZM618.3 147.1L620 134.4L621 134.4L625.4 148.2ZM624.5 148.2L626.2 125.1L627.2 125.1L631.6 147.6ZM632.7 147.5L634.4 135.4L635.4 135.4L639.8 146.3ZM645 145.2L646.7 129.3L647.7 129.3L652.1 146.4ZM652.2 146.4L653.9 123.7L654.9 123.7L659.3 146.1ZM663.5 145.3L665.2 127.8L666.2 127.8L670.6 145.6ZM673.8 145.8L675.5 134.4L676.5 134.4L680.9 147.1ZM689.2 149.1L690.9 128.6L691.9 128.6L696.3 146.5ZM696.4 146.4L698.1 136.4L699.1 136.4L703.5 148ZM705.6 147.8L707.3 123.7L708.3 123.7L712.7 145.8ZM714.8 146.3L716.5 129.3L717.5 129.3L721.9 148.2ZM726.1 149.2L727.8 122.1L728.8 122.1L733.2 147.6ZM735.4 146.9L737.1 122.1L738.1 122.1L742.5 144.1ZM743.6 143.7L745.3 118L746.3 118L750.7 142.9ZM750.8 142.9L752.5 115.9L753.5 115.9L757.9 143.7ZM760 143.6L761.7 125.1L762.7 125.1L767.1 145.5ZM766.2 145.2L767.9 120L768.9 120L773.3 144.8ZM774.4 144.8L776.1 123.1L777.1 123.1L781.5 144.7ZM780.5 144.7L782.2 128.2L783.2 128.2L787.6 143.6ZM787.7 143.5L789.4 106.7L790.4 106.7L794.8 132.9ZM794.9 132.8L796.6 118L797.6 118L802 131.8ZM806.2 134.7L807.9 114.3L808.9 114.3L813.3 130.4ZM811.3 130.3L813 127.2L814 127.2L818.4 135.8ZM816.9 134.2L818.6 108.3L819.6 108.3L824 136.6ZM823.6 136.7L825.3 125.8L826.3 125.8L830.7 136.1ZM830.8 136.1L832.5 136.4L833.5 136.4L837.9 141.5ZM836.9 140.7L838.6 130.3L839.6 130.3L844 143ZM847.2 142.8L848.9 134L849.9 134L854.3 143.4ZM859.5 145.6L861.2 129.3L862.2 129.3L866.6 142.7ZM865.7 143.1L867.4 140.5L868.4 140.5L872.8 148.2ZM872.8 148.3L874.5 134.4L875.5 134.4L879.9 151.1ZM883.1 153.6L884.8 144.7L885.8 144.7L890.2 155.6ZM891.3 156.1L893 146.7L894 146.7L898.4 158.9ZM897.5 159.3L899.2 134L900.2 134L904.6 154.7ZM903.6 154.7L905.3 146.7L906.3 146.7L910.7 155.9ZM909.8 155.7L911.5 132.3L912.5 132.3L916.9 153ZM916 151.9L917.7 150.8L918.7 150.8L923.1 161ZM921.1 158.5L922.8 138.5L923.8 138.5L928.2 162.8ZM928.3 162.8L930 143.6L931 143.6L935.4 165.9ZM934.5 165.3L936.2 146.7L937.2 146.7L941.6 169.4ZM941.6 169.5L943.3 151.8L944.3 151.8L948.7 171.9ZM947.8 171.7L949.5 153.9L950.5 153.9L954.9 173.6ZM956 174L957.7 150.8L958.7 150.8L963.1 170.5ZM959.1 172.6L960.8 136L961.8 136L966.2 170.8ZM962.2 171L963.9 163.1L964.9 163.1L969.3 172.2ZM972.4 173.6L974.1 155.3L975.1 155.3L979.5 176.1ZM978.6 175.8L980.3 155.9L981.3 155.9L985.7 178.1ZM985.8 178.1L987.5 154.3L988.5 154.3L992.9 181.1ZM990.9 180.1L992.6 171.3L993.6 171.3L998 183.7ZM997.1 183.2L998.8 169.3L999.8 169.3L1004.2 186.7ZM1003.2 186.3L1004.9 181.6L1005.9 181.6L1010.3 190.3ZM1009.4 189.8L1011.1 182.6L1012.1 182.6L1016.5 193.2ZM1015.1 193.2L1016.8 179.2L1017.8 179.2L1022.2 191.8ZM1021.7 191.6L1023.4 189.8L1024.4 189.8L1028.8 196.2ZM1030.5 196.4L1032.2 173.4L1033.2 173.4L1037.6 189.4ZM1036.1 190.5L1037.8 185.7L1038.8 185.7L1043.2 189.3ZM1042.3 189.4L1044 169.7L1045 169.7L1049.4 184ZM1049.4 183.9L1051.1 179.6L1052.1 179.6L1056.5 183.4ZM1054.6 182.4L1056.3 168.3L1057.3 168.3L1061.7 183.3ZM1061.8 183.3L1063.5 179.6L1064.5 179.6L1068.9 186.7ZM1067.5 186.1L1069.2 160.5L1070.2 160.5L1074.6 184.6ZM1074.1 184.9L1075.8 181.6L1076.8 181.6L1081.2 186.2ZM1080.9 186.2L1082.6 165.2L1083.6 165.2L1088 183.5ZM1087.4 183.7L1089.1 177.5L1090.1 177.5L1094.5 184.1ZM1093.6 183.8L1095.3 173.8L1096.3 173.8L1100.7 185.8ZM1103.9 186.9L1105.6 161.7L1106.6 161.7L1111 186.6ZM1110 186.9L1111.7 171.3L1112.7 171.3L1117.1 187.2ZM1116.2 187L1117.9 166.2L1118.9 166.2L1123.3 187.5ZM1122.3 187.7L1124 175.5L1125 175.5L1129.4 189.1ZM1128.9 188.9L1130.6 162.1L1131.6 162.1L1136 189.5ZM1135.7 189.5L1137.4 175.5L1138.4 175.5L1142.8 191.7ZM1141.8 191.5L1143.5 168.7L1144.5 168.7L1148.9 192.4ZM1149 192.4L1150.7 177.5L1151.7 177.5L1156.1 194.6ZM1155.2 194.4L1156.9 171.3L1157.9 171.3L1162.3 193.5ZM1161.3 193.7L1163 179.6L1164 179.6L1168.4 191.6ZM1167.5 192L1169.2 173.4L1170.2 173.4L1174.6 190.1ZM1178.7 190.3L1180.4 164.2L1181.4 164.2L1185.8 187.1ZM1183.8 186.5L1185.5 179.6L1186.5 179.6L1190.9 188.2ZM1191 188.2L1192.7 170.7L1193.7 170.7L1198.1 183.8ZM1197.2 184.3L1198.9 174.4L1199.9 174.4L1204.3 182.9ZM1202.9 183.3L1204.6 170.7L1205.6 170.7L1210 180.7ZM1208.5 181.3L1210.2 176.5L1211.2 176.5L1215.6 179.7ZM1214.6 179.8L1216.3 168.3L1217.3 168.3L1221.7 176.8ZM1221.8 176.8L1223.5 174.4L1224.5 174.4L1228.9 181.7ZM1227 180.3L1228.7 164.2L1229.7 164.2L1234.1 178.8ZM1233.1 179.3L1234.8 171.3L1235.8 171.3L1240.2 178ZM1240.3 178L1242 163.1L1243 163.1L1247.4 175.9ZM1246.5 176.1L1248.2 174.4L1249.2 174.4L1253.6 179.4ZM1252.6 178.8L1254.3 167.2L1255.3 167.2L1259.7 179.7ZM1258.8 179.8L1260.5 165.2L1261.5 165.2L1265.9 180.1ZM1264.9 179.9L1266.6 169.3L1267.6 169.3L1272 180.5ZM1269.5 180.5L1271.2 159L1272.2 159L1276.6 179.2ZM1276.2 179.3L1277.9 164.2L1278.9 164.2L1283.3 177.5ZM1283 177.5L1284.7 150.4L1285.7 150.4L1290.1 176.8ZM1288.1 177.1L1289.8 149.2L1290.8 149.2L1295.2 175ZM1294.7 175.2L1296.4 152.3L1297.4 152.3L1301.8 174.9ZM1301.5 174.9L1303.2 150.8L1304.2 150.8L1308.6 175.1ZM1307.7 175.1L1309.4 143.6L1310.4 143.6L1314.8 172.8ZM1313.8 173.2L1315.5 146.3L1316.5 146.3L1320.9 170.8ZM1320.4 170.9L1322.1 141.2L1323.1 141.2L1327.5 166.5ZM1328.6 165.3L1330.3 160.1L1331.3 160.1L1335.7 171.2ZM1334.8 170.4L1336.5 145.1L1337.5 145.1L1341.9 167.9ZM1340.9 168.5L1342.6 167.2L1343.6 167.2L1348 171.8ZM1351.2 173.6L1352.9 163.1L1353.9 163.1L1358.3 172.4ZM1360 170.7L1361.7 120.6L1362.7 120.6L1367.1 148.3ZM1366.6 150L1368.3 130.3L1369.3 130.3L1373.7 138.8ZM1373.8 138.7L1375.5 123.1L1376.5 123.1L1380.9 136.4ZM1379.9 136.7L1381.6 124.1L1382.6 124.1L1387 137.6ZM1386.1 137.3L1387.8 113.9L1388.8 113.9L1393.2 133.8ZM1392.3 134.2L1394 132.3L1395 132.3L1399.4 139.2ZM1398.4 138.6L1400.1 118L1401.1 118L1405.5 135.4ZM1404.6 135.5L1406.3 136.3L1407.3 136.3L1411.7 141.8ZM1411.8 141.9L1413.5 135.4L1414.5 135.4L1418.9 146.9ZM1423.1 146.8L1424.8 136.4L1425.8 136.4L1430.2 147ZM1430.2 147.1L1431.9 142.6L1432.9 142.6L1437.3 151.4ZM1437.4 151.5L1439.1 132.3L1440.1 132.3L1444.5 149ZM1443.6 149.1L1445.3 140.5L1446.3 140.5L1450.7 149.2ZM1449.3 149.2L1451 135L1452 135L1456.4 150.9ZM1455.9 150.6L1457.6 147.7L1458.6 147.7L1463 155.1ZM1464.1 156L1465.8 146.7L1466.8 146.7L1471.2 160.2ZM1470.7 160.4L1472.4 137.5L1473.4 137.5L1477.8 159.2ZM1477.5 158.9L1479.2 150.8L1480.2 150.8L1484.6 164ZM1483.6 164.2L1485.3 141.2L1486.3 141.2L1490.7 162.3ZM1489.8 161.8L1491.5 148.8L1492.5 148.8L1496.9 164ZM1494.9 164.6L1496.6 142.6L1497.6 142.6L1502 162.3ZM1501.1 162.6L1502.8 150.8L1503.8 150.8L1508.2 165.3ZM1506.8 164.8L1508.5 135.4L1509.5 135.4L1513.9 159.3ZM1513.4 159.9L1515.1 153.9L1516.1 153.9L1520.5 165.2ZM1519.6 164L1521.3 143.6L1522.3 143.6L1526.7 165.8ZM1525.7 166L1527.4 152.9L1528.4 152.9L1532.8 168.1ZM1531.5 167.1L1533.2 144.7L1534.2 144.7L1538.6 168.5ZM1538 168.5L1539.7 164.2L1540.7 164.2L1545.1 173.1ZM1545.2 173.2L1546.9 163.1L1547.9 163.1L1552.3 180ZM1556.2 183.8L1557.9 166.2L1558.9 166.2L1563.3 185.1ZM1562.3 185.1L1564 174.4L1565 174.4L1569.4 184ZM1569.1 184.2L1570.8 168.3L1571.8 168.3L1576.2 181.4ZM1576.7 181.7L1578.4 182.6L1579.4 182.6L1583.8 185.6ZM1582.9 185.1L1584.6 174.4L1585.6 174.4L1590 185.4ZM1589 184.9L1590.7 185.7L1591.7 185.7L1596.1 188.8ZM1594.6 187.9L1596.3 177.9L1597.3 177.9L1601.7 191.6ZM1600.3 191L1602 187.8L1603 187.8L1607.4 194.3ZM1605.9 193.7L1607.6 183.1L1608.6 183.1L1613 194.6ZM1611.6 194L1613.3 187.8L1614.3 187.8L1618.7 195.9ZM1618.8 195.8L1620.5 167.9L1621.5 167.9L1625.9 188.5ZM1625 188.4L1626.7 181.6L1627.7 181.6L1632.1 188.9ZM1631.1 188.9L1632.8 158.4L1633.8 158.4L1638.2 184ZM1637.3 184.7L1639 171.3L1640 171.3L1644.4 181.3ZM1642.8 182.6L1644.5 141.2L1645.5 141.2L1649.9 176.8ZM1648 177.2L1649.7 162.1L1650.7 162.1L1655.1 177.2ZM1654.1 177.4L1655.8 124.1L1656.8 124.1L1661.2 169.8ZM1658.8 172.7L1660.5 161.1L1661.5 161.1L1665.9 171.1ZM1664.6 170.3L1666.3 144.2L1667.3 144.2L1671.7 169.1ZM1670.1 170L1671.8 146.7L1672.8 146.7L1677.2 166.6ZM1676.3 166.5L1678 141.2L1679 141.2L1683.4 164.1ZM1681.4 165.4L1683.1 148.8L1684.1 148.8L1688.5 165.3ZM1688.6 165.3L1690.3 134.4L1691.3 134.4L1695.7 162.9ZM1694.8 163.5L1696.5 144.7L1697.5 144.7L1701.9 161.6ZM1700.9 161.3L1702.6 134.4L1703.6 134.4L1708 161.1ZM1708.1 161L1709.8 136.4L1710.8 136.4L1715.2 158.3ZM1713.9 159L1715.6 130.3L1716.6 130.3L1721 155ZM1718.4 156.2L1720.1 144.7L1721.1 144.7L1725.5 156.4ZM1723.1 155.7L1724.8 128.8L1725.8 128.8L1730.2 155ZM1728.7 155.8L1730.4 136.4L1731.4 136.4L1735.8 152.6ZM1734.4 152.8L1736.1 136.4L1737.1 136.4L1741.5 155.2ZM1742 155.4L1743.7 128.8L1744.7 128.8L1749.1 153ZM1748.2 153.4L1749.9 143.6L1750.9 143.6L1755.3 154.6ZM1754.9 154.4L1756.6 134.4L1757.6 134.4L1762 156.1ZM1761.1 156.1L1762.8 142.6L1763.8 142.6L1768.2 156ZM1766.6 156.1L1768.3 140.5L1769.3 140.5L1773.7 155.2ZM1773.8 155.2L1775.5 146.7L1776.5 146.7L1780.9 155.5ZM1780.6 155.4L1782.3 141.6L1783.3 141.6L1787.7 156.8ZM1787.2 156.5L1788.9 150.8L1789.9 150.8L1794.3 159.7ZM1796.4 160.6L1798.1 151.8L1799.1 151.8L1803.5 162ZM1805.7 162.5L1807.4 152.9L1808.4 152.9L1812.8 164.9ZM1811.4 164.4L1813.1 143.6L1814.1 143.6L1818.5 163ZM1818 163.2L1819.7 146.7L1820.7 146.7L1825.1 162.2ZM1823.7 161.7L1825.4 136.4L1826.4 136.4L1830.8 160.9ZM1831.3 160.8L1833 137.9L1834 137.9L1838.4 161.2ZM1837.5 161.1L1839.2 140.5L1840.2 140.5L1844.6 158.8ZM1843.6 159.3L1845.3 144.7L1846.3 144.7L1850.7 161.8ZM1849.4 160.9L1851.1 139.5L1852.1 139.5L1856.5 160.4ZM1857 160.9L1858.7 145.7L1859.7 145.7L1864.1 167ZM1863.1 166.2L1864.8 148.1L1865.8 148.1L1870.2 167.9ZM1871.4 168.5L1873.1 153.9L1874.1 153.9L1878.5 171.9ZM1877.5 171.9L1879.2 158L1880.2 158L1884.6 174ZM1883.7 173L1885.4 157L1886.4 157L1890.8 177.9ZM1890.9 177.8L1892.6 166.2L1893.6 166.2L1898 180.1ZM1900.1 182.5L1901.8 155.9L1902.8 155.9L1907.2 177.9ZM1905.2 179.9L1906.9 166.2L1907.9 166.2L1912.3 178.4ZM1911 178L1912.7 155.3L1913.7 155.3L1918.1 175ZM1917.2 175.6L1918.9 169.3L1919.9 169.3L1924.3 177ZM1922.7 176.3L1924.4 157L1925.4 157L1929.8 176.4ZM1930.9 176.1L1932.6 171.3L1933.6 171.3L1938 179.5ZM1939.1 180L1940.8 169.3L1941.8 169.3L1946.2 179.1ZM105.5 144.7L106.6 136L107.6 136L110.2 149.1ZM110.7 148.9L111.8 132.5L112.8 132.5L115.4 146.7ZM117.2 145.9L118.3 132.5L119.3 132.5L121.9 143.6ZM121.9 143.7L123 132.1L124 132.1L126.6 141.3ZM129 141.5L130.1 137.1L131.1 137.1L133.7 142.1ZM132.5 142L133.6 136.5L134.6 136.5L137.2 142.6ZM138 142.7L139.1 140.3L140.1 140.3L142.7 143.8ZM142 143.5L143.1 139.1L144.1 139.1L146.7 145.3ZM148.5 146L149.6 143.6L150.6 143.6L153.2 147.7ZM154.7 148.3L155.8 144.4L156.8 144.4L159.4 149.3ZM160 149.3L161.1 142.3L162.1 142.3L164.7 149.1ZM163.7 149.2L164.8 139.6L165.8 139.6L168.4 149ZM168.5 149L169.6 143.5L170.6 143.5L173.2 149.3ZM175.1 149.9L176.2 144.3L177.2 144.3L179.8 151.3ZM178.8 151L179.9 140.4L180.9 140.4L183.5 152.4ZM184.2 152.6L185.3 138.4L186.3 138.4L188.9 154ZM190.8 154.4L191.9 144.7L192.9 144.7L195.5 155.1ZM194.5 155L195.6 139L196.6 139L199.2 155.7ZM199.9 155.8L201 141.3L202 141.3L204.6 155.5ZM207.1 154.5L208.2 141.8L209.2 141.8L211.8 155.4ZM213.1 156.2L214.2 145.6L215.2 145.6L217.8 158.1ZM220.3 157.2L221.4 137.3L222.4 137.3L225 157.6ZM226.3 158.5L227.4 148.4L228.4 148.4L231 160.2ZM232.7 159.7L233.8 140.9L234.8 140.9L237.4 159.6ZM239.4 160.3L240.5 150.7L241.5 150.7L244.1 160.4ZM244.9 160.2L246 149.7L247 149.7L249.6 160.4ZM250.6 160.9L251.7 142L252.7 142L255.3 162.5ZM257.5 161.9L258.6 151.3L259.6 151.3L262.2 162.2ZM263.3 162.7L264.4 152.4L265.4 152.4L268 164.5ZM267.4 164.5L268.5 149.5L269.5 149.5L272.1 163.5ZM274 163.4L275.1 155.5L276.1 155.5L278.7 166.1ZM279.1 166.3L280.2 153.1L281.2 153.1L283.8 165.9ZM285.6 165.7L286.7 152.2L287.7 152.2L290.3 167.4ZM289.5 167.1L290.6 156.1L291.6 156.1L294.2 166.7ZM293.7 166.9L294.8 147.2L295.8 147.2L298.4 167.8ZM299.2 168.1L300.3 152L301.3 152L303.9 169.6ZM304.2 169.5L305.3 156.4L306.3 156.4L308.9 168ZM308.4 168.1L309.5 150.1L310.5 150.1L313.1 167.5ZM314.3 167.3L315.4 159L316.4 159L319 167.7ZM320.6 168.7L321.7 156.1L322.7 156.1L325.3 169.8ZM326.5 169.1L327.6 154L328.6 154L331.2 166.3ZM332.5 165.9L333.6 150.6L334.6 150.6L337.2 166.2ZM339.9 164.7L341 153.1L342 153.1L344.6 163.2ZM345.9 163.7L347 153.6L348 153.6L350.6 163.8ZM351.1 163.6L352.2 152.5L353.2 152.5L355.8 162.8ZM357.2 163.3L358.3 151L359.3 151L361.9 163.2ZM362.1 163.1L363.2 143.7L364.2 143.7L366.8 160.7ZM368.8 161L369.9 146.3L370.9 146.3L373.5 162ZM375.7 161.2L376.8 148.2L377.8 148.2L380.4 160.2ZM381.7 160.7L382.8 148.4L383.8 148.4L386.4 160.4ZM386.5 160.4L387.6 147.9L388.6 147.9L391.2 157.8ZM393.2 157.4L394.3 130L395.3 130L397.9 157.2ZM397.9 157.2L399 138.6L400 138.6L402.6 156.9ZM401.9 157L403 145.5L404 145.5L406.6 156.8ZM407.9 156.8L409 141.8L410 141.8L412.6 156.7ZM411.8 156.7L412.9 147L413.9 147L416.5 157.1ZM418.3 157.2L419.4 146.2L420.4 146.2L423 157.4ZM425.3 157L426.4 142.4L427.4 142.4L430 154.7ZM430.7 154.3L431.8 141.3L432.8 141.3L435.4 152.2ZM435.4 152.2L436.5 133.6L437.5 133.6L440.1 150.2ZM440 150.2L441.1 128.9L442.1 128.9L444.7 150.4ZM443.6 150.2L444.7 131.6L445.7 131.6L448.3 151ZM450.3 151.3L451.4 141.9L452.4 141.9L455 152.3ZM454.6 152.2L455.7 145.7L456.7 145.7L459.3 153.3ZM458.4 153.1L459.5 142.6L460.5 142.6L463.1 154.3ZM464.3 154.6L465.4 149.6L466.4 149.6L469 155.4ZM469.6 155.5L470.7 146L471.7 146L474.3 156.3ZM474.4 156.3L475.5 151.9L476.5 151.9L479.1 157ZM479.6 157.1L480.7 153.9L481.7 153.9L484.3 157.8ZM487 158.3L488.1 151.4L489.1 151.4L491.7 160.2ZM494.1 161.7L495.2 148.6L496.2 148.6L498.8 161.5ZM499.9 161.3L501 153.9L502 153.9L504.6 160.6ZM506.7 160.5L507.8 153.2L508.8 153.2L511.4 160.4ZM512.4 160.4L513.5 151.4L514.5 151.4L517.1 160.1ZM516.3 160.2L517.4 146.3L518.4 146.3L521 158.2ZM520.4 158.6L521.5 142.7L522.5 142.7L525.1 155.9ZM526.2 155.5L527.3 138.8L528.3 138.8L530.9 156.7ZM533.5 155.9L534.6 135L535.6 135L538.2 152.2ZM539.6 151.6L540.7 139L541.7 139L544.3 153.4ZM546.2 152.9L547.3 138L548.3 138L550.9 151.1ZM550.4 151.3L551.5 138.1L552.5 138.1L555.1 151.2ZM555.5 151.4L556.6 137.6L557.6 137.6L560.2 152.1ZM561.9 151.7L563 135.1L564 135.1L566.6 150.5ZM567.6 150.8L568.7 136.9L569.7 136.9L572.3 152.1ZM574.4 152.3L575.5 144.6L576.5 144.6L579.1 152ZM578.5 152.1L579.6 144.2L580.6 144.2L583.2 151.7ZM582.7 151.8L583.8 133.5L584.8 133.5L587.4 151.3ZM587.4 151.2L588.5 138.2L589.5 138.2L592.1 150.7ZM592.8 150.6L593.9 135.8L594.9 135.8L597.5 148.9ZM597.4 149L598.5 132.3L599.5 132.3L602.1 147.1ZM602.2 147L603.3 130L604.3 130L606.9 146.3ZM608.9 146.3L610 138.8L611 138.8L613.6 146.3ZM614.6 146.4L615.7 139.8L616.7 139.8L619.3 147.3ZM621.7 147.7L622.8 140.3L623.8 140.3L626.4 148.1ZM626.2 148.1L627.3 130.4L628.3 130.4L630.9 147.7ZM632.1 147.6L633.2 137L634.2 137L636.8 146.9ZM637.2 146.8L638.3 137.5L639.3 137.5L641.9 145.9ZM641.6 145.9L642.7 136.3L643.7 136.3L646.3 145ZM646.1 145L647.2 132.5L648.2 132.5L650.8 145.8ZM650 145.5L651.1 136.5L652.1 136.5L654.7 147.3ZM654.3 147.2L655.4 131.3L656.4 131.3L659 146.2ZM660.1 145.8L661.2 137.7L662.2 137.7L664.8 145.4ZM667.6 145.5L668.7 132.2L669.7 132.2L672.3 145.7ZM672.6 145.7L673.7 139.7L674.7 139.7L677.3 146.2ZM679.4 146.7L680.5 133.4L681.5 133.4L684.1 147.8ZM683.6 147.7L684.7 134.1L685.7 134.1L688.3 148.9ZM690.4 149.2L691.5 130.9L692.5 130.9L695.1 146.9ZM694.7 147.1L695.8 140.6L696.8 140.6L699.4 147ZM698.9 146.9L700 140.2L701 140.2L703.6 148ZM706 147.6L707.1 126.3L708.1 126.3L710.7 145.4ZM711.4 145.4L712.5 136.9L713.5 136.9L716.1 146.6ZM716.3 146.7L717.4 137.3L718.4 137.3L721 147.9ZM722.4 148.3L723.5 129.7L724.5 129.7L727.1 149.4ZM729 148.9L730.1 131.5L731.1 131.5L733.7 147.5ZM734.3 147.3L735.4 130.5L736.4 130.5L739 145.6ZM739.3 145.5L740.4 129L741.4 129L744 143.5ZM745.5 142.9L746.6 122.7L747.6 122.7L750.2 142.7ZM750.3 142.7L751.4 124L752.4 124L755 143.8ZM754.4 143.8L755.5 133.2L756.5 133.2L759.1 143.6ZM759.5 143.6L760.6 131.9L761.6 131.9L764.2 144.4ZM763.1 144L764.2 135L765.2 135L767.8 145.5ZM768.3 145.5L769.4 122.6L770.4 122.6L773 144.9ZM775.1 144.8L776.2 135.8L777.2 135.8L779.8 144.7ZM779.9 144.7L781 134.1L782 134.1L784.6 144.7ZM784.7 144.7L785.8 131.9L786.8 131.9L789.4 141.5ZM790.5 140L791.6 113.9L792.6 113.9L795.2 132.3ZM795.5 131.7L796.6 123.5L797.6 123.5L800.2 129.7ZM799.5 128.8L800.6 124.9L801.6 124.9L804.2 134.3ZM806 134.9L807.1 123.6L808.1 123.6L810.7 130.9ZM812.4 129.9L813.5 126.5L814.5 126.5L817.1 134.4ZM816.3 133.5L817.4 123.7L818.4 123.7L821 136.9ZM821 136.9L822.1 120.9L823.1 120.9L825.7 136.5ZM827.5 136.3L828.6 133L829.6 133L832.2 137.1ZM832.8 137.5L833.9 136.5L834.9 136.5L837.5 141.2ZM838.2 141.7L839.3 132.5L840.3 132.5L842.9 143ZM842.7 143L843.8 133.8L844.8 133.8L847.4 142.8ZM849.9 142.7L851 135.7L852 135.7L854.6 143.6ZM857.2 144.8L858.3 131.6L859.3 131.6L861.9 144.8ZM861.4 145L862.5 132.3L863.5 132.3L866.1 142.9ZM865.7 143.1L866.8 140L867.8 140L870.4 145.3ZM869.7 144.5L870.8 141.4L871.8 141.4L874.4 150.1ZM875 150.7L876.1 137.9L877.1 137.9L879.7 150.9ZM881.2 152.1L882.3 147.6L883.3 147.6L885.9 155.8ZM888.3 155.8L889.4 147L890.4 147L893 157ZM893.8 157.5L894.9 151.7L895.9 151.7L898.5 158.8ZM898.5 158.8L899.6 144.8L900.6 144.8L903.2 155ZM903.6 154.7L904.7 146.2L905.7 146.2L908.3 155.4ZM909.5 155.6L910.6 137.6L911.6 137.6L914.2 153.7ZM913.3 154.7L914.4 146.6L915.4 146.6L918 154.4ZM919.7 156.7L920.8 149.6L921.8 149.6L924.4 161.6ZM924.1 161.5L925.2 152.5L926.2 152.5L928.8 162.9ZM927.8 162.6L928.9 150.4L929.9 150.4L932.5 164.3ZM933.5 164.8L934.6 153.4L935.6 153.4L938.2 167.5ZM939.3 168.1L940.4 158.2L941.4 158.2L944 170.7ZM942.8 170.1L943.9 156.3L944.9 156.3L947.5 171.6ZM947.7 171.7L948.8 159.7L949.8 159.7L952.4 172.9ZM952.7 173L953.8 161.8L954.8 161.8L957.4 173.4ZM956.4 173.8L957.5 160.6L958.5 160.6L961.1 171.6ZM961.1 171.6L962.2 160.4L963.2 160.4L965.8 170.6ZM964.7 170.2L965.8 164.7L966.8 164.7L969.4 172.2ZM968.3 171.7L969.4 160.5L970.4 160.5L973 173.9ZM973.2 174L974.3 162.2L975.3 162.2L977.9 175.6ZM978.8 175.9L979.9 167.9L980.9 167.9L983.5 177.4ZM982.7 177.1L983.8 158.9L984.8 158.9L987.4 178.7ZM988.5 179L989.6 167.3L990.6 167.3L993.2 181.2ZM993.3 181.3L994.4 172.9L995.4 172.9L998 183.7ZM998.9 184.1L1000 173.8L1001 173.8L1003.6 186.4ZM1005.7 187.6L1006.8 182.6L1007.8 182.6L1010.4 190.4ZM1012.1 191.4L1013.2 183.9L1014.2 183.9L1016.8 193.1ZM1017.5 192.9L1018.6 185.1L1019.6 185.1L1022.2 191.7ZM1023.3 192.5L1024.4 189.7L1025.4 189.7L1028 195.6ZM1030 196.9L1031.1 178L1032.1 178L1034.7 191.9ZM1033.8 193L1034.9 181.5L1035.9 181.5L1038.5 189.4ZM1039.7 189.4L1040.8 181L1041.8 181L1044.4 188.4ZM1046.9 186.2L1048 180.8L1049 180.8L1051.6 182.1ZM1052.3 181.6L1053.4 177.5L1054.4 177.5L1057 183.6ZM1059.5 183.4L1060.6 179.3L1061.6 179.3L1064.2 184.4ZM1065.3 185L1066.4 178.1L1067.4 178.1L1070 187.3ZM1071.8 186.3L1072.9 176.7L1073.9 176.7L1076.5 184.7ZM1078.3 185.3L1079.4 178.5L1080.4 178.5L1083 185.6ZM1085.3 184.6L1086.4 179.3L1087.4 179.3L1090 182.9ZM1089.7 183L1090.8 177.8L1091.8 177.8L1094.4 184ZM1096.7 184.6L1097.8 173.3L1098.8 173.3L1101.4 186.1ZM1101.3 186.1L1102.4 177.2L1103.4 177.2L1106 187.5ZM1107.6 187.5L1108.7 170.7L1109.7 170.7L1112.3 186.4ZM1111.4 186.5L1112.5 172.1L1113.5 172.1L1116.1 187ZM1117 187.2L1118.1 178.7L1119.1 178.7L1121.7 187.8ZM1122.4 187.7L1123.5 180L1124.5 180L1127.1 188.3ZM1126.3 188L1127.4 170.8L1128.4 170.8L1131 189.6ZM1133.6 190L1134.7 180.5L1135.7 180.5L1138.3 189.9ZM1138.9 190.2L1140 180.8L1141 180.8L1143.6 191.8ZM1145 192L1146.1 182.8L1147.1 182.8L1149.7 192.6ZM1149.9 192.6L1151 183.2L1152 183.2L1154.6 194.2ZM1155.3 194.4L1156.4 180.1L1157.4 180.1L1160 194ZM1161.1 193.8L1162.2 179.7L1163.2 179.7L1165.8 192.6ZM1168.4 191.6L1169.5 175L1170.5 175L1173.1 190ZM1175.2 190.1L1176.3 178.3L1177.3 178.3L1179.9 190.2ZM1179.7 190.2L1180.8 173.5L1181.8 173.5L1184.4 186.5ZM1185.7 187L1186.8 180.5L1187.8 180.5L1190.4 188.5ZM1190.6 188.4L1191.7 172.8L1192.7 172.8L1195.3 185.5ZM1195.4 185.4L1196.5 179.8L1197.5 179.8L1200.1 183.5ZM1199.3 183.6L1200.4 178.3L1201.4 178.3L1204 183ZM1205.7 182.4L1206.8 174.2L1207.8 174.2L1210.4 180.6ZM1209.3 181L1210.4 178.1L1211.4 178.1L1214 179.8ZM1213.8 179.9L1214.9 171.8L1215.9 171.8L1218.5 178.5ZM1220.9 177.2L1222 174.9L1223 174.9L1225.6 179.3ZM1224.8 178.8L1225.9 170.3L1226.9 170.3L1229.5 181.5ZM1232.2 179.9L1233.3 171.5L1234.3 171.5L1236.9 177.6ZM1237.6 177.6L1238.7 169L1239.7 169L1242.3 177.7ZM1244.2 177L1245.3 171.4L1246.3 171.4L1248.9 176.5ZM1248.7 176.4L1249.8 174L1250.8 174L1253.4 179.3ZM1254.9 180.1L1256 172.3L1257 172.3L1259.6 179.7ZM1261 179.6L1262.1 173.2L1263.1 173.2L1265.7 180ZM1268.3 180.4L1269.4 171.5L1270.4 171.5L1273 180.3ZM1272.7 180.3L1273.8 162.4L1274.8 162.4L1277.4 178.9ZM1280 178.1L1281.1 159.5L1282.1 159.5L1284.7 177.4ZM1286.9 177.2L1288 153.3L1289 153.3L1291.6 176.2ZM1293.7 175.5L1294.8 158.3L1295.8 158.3L1298.4 174.8ZM1297.5 174.8L1298.6 156.3L1299.6 156.3L1302.2 174.9ZM1304.3 175L1305.4 151.9L1306.4 151.9L1309 175.1ZM1308 175.1L1309.1 161.6L1310.1 161.6L1312.7 173.8ZM1314.4 172.9L1315.5 154.9L1316.5 154.9L1319.1 171ZM1321.5 170.7L1322.6 143.9L1323.6 143.9L1326.2 167.8ZM1326.8 167.2L1327.9 157L1328.9 157L1331.5 167.2ZM1332.9 168.6L1334 155.1L1335 155.1L1337.6 170.4ZM1337.9 170.3L1339 158L1340 158L1342.6 168.2ZM1341.7 168L1342.8 167.3L1343.8 167.3L1346.4 170.8ZM1348.1 171.9L1349.2 165.9L1350.2 165.9L1352.8 174.2ZM1353.4 174.5L1354.5 164.9L1355.5 164.9L1358.1 172.5ZM1358.7 172L1359.8 138.8L1360.8 138.8L1363.4 160.6ZM1364.4 157.3L1365.5 140.3L1366.5 140.3L1369.1 144.2ZM1367.9 145.9L1369 135L1370 135L1372.6 139.4ZM1372.4 139.7L1373.5 131.5L1374.5 131.5L1377.1 137.6ZM1376.8 137.7L1377.9 128.6L1378.9 128.6L1381.5 136.2ZM1383.1 136.3L1384.2 121.5L1385.2 121.5L1387.8 137.2ZM1389.3 136.2L1390.4 129.6L1391.4 129.6L1394 134.2ZM1396.3 136.5L1397.4 128L1398.4 128L1401 138.5ZM1402.7 137.1L1403.8 130.7L1404.8 130.7L1407.4 136.9ZM1407.6 137.1L1408.7 137L1409.7 137L1412.3 142.7ZM1411.4 141.4L1412.5 137.4L1413.5 137.4L1416.1 146.5ZM1415.1 146.3L1416.2 138.1L1417.2 138.1L1419.8 147.1ZM1422.3 147L1423.4 138.7L1424.4 138.7L1427 145.9ZM1428.2 145.8L1429.3 141.3L1430.3 141.3L1432.9 149ZM1435.5 150.5L1436.6 138.3L1437.6 138.3L1440.2 151ZM1443 149.3L1444.1 142.4L1445.1 142.4L1447.7 149.1ZM1446.5 149L1447.6 141.1L1448.6 141.1L1451.2 149.2ZM1452.6 149.3L1453.7 141.3L1454.7 141.3L1457.3 151.5ZM1458.5 152.2L1459.6 149.8L1460.6 149.8L1463.2 155.3ZM1462.1 154.4L1463.2 148.3L1464.2 148.3L1466.8 158ZM1468.1 158.9L1469.2 143.1L1470.2 143.1L1472.8 159.6ZM1473.9 159.1L1475 144.7L1476 144.7L1478.6 160ZM1480.5 161.8L1481.6 147.9L1482.6 147.9L1485.2 163.6ZM1485.9 163.2L1487 145.2L1488 145.2L1490.6 162.3ZM1491 162.5L1492.1 157.1L1493.1 157.1L1495.7 164.4ZM1495.8 164.4L1496.9 151.4L1497.9 151.4L1500.5 162.9ZM1503.2 162.9L1504.3 153.2L1505.3 153.2L1507.9 165.4ZM1507.8 165.3L1508.9 142.7L1509.9 142.7L1512.5 160.9ZM1511.7 161.8L1512.8 152.9L1513.8 152.9L1516.4 159.8ZM1516.8 160.3L1517.9 156.2L1518.9 156.2L1521.5 166.3ZM1522.7 166.6L1523.8 154.4L1524.8 154.4L1527.4 165.6ZM1529.4 165.7L1530.5 156L1531.5 156L1534.1 168.8ZM1536.8 168.6L1537.9 163.5L1538.9 163.5L1541.5 170.3ZM1542.4 171L1543.5 167.7L1544.5 167.7L1547.1 174.8ZM1546 173.7L1547.1 168.4L1548.1 168.4L1550.7 178.3ZM1553.1 180.7L1554.2 172.7L1555.2 172.7L1557.8 184.8ZM1558.5 184.9L1559.6 173.7L1560.6 173.7L1563.2 185.1ZM1563.1 185.1L1564.2 177.6L1565.2 177.6L1567.8 185ZM1566.9 185.2L1568 176.5L1569 176.5L1571.6 182.6ZM1571.5 182.7L1572.6 173.2L1573.6 173.2L1576.2 181.4ZM1578.1 182.4L1579.2 182L1580.2 182L1582.8 185ZM1583.9 185.7L1585 176.6L1586 176.6L1588.6 184.9ZM1590.4 185.6L1591.5 185.7L1592.5 185.7L1595.1 188.2ZM1594.4 187.8L1595.5 180.8L1596.5 180.8L1599.1 190.4ZM1601.3 191.5L1602.4 187.7L1603.4 187.7L1606 193.8ZM1607.9 194.4L1609 189.4L1610 189.4L1612.6 194.4ZM1613.7 194.9L1614.8 186.8L1615.8 186.8L1618.4 196.3ZM1619.6 194.9L1620.7 181.3L1621.7 181.3L1624.3 189.2ZM1627 188.6L1628.1 180.3L1629.1 180.3L1631.7 188.9ZM1631.5 188.9L1632.6 160.9L1633.6 160.9L1636.2 185.5ZM1636.6 185.2L1637.7 177.3L1638.7 177.3L1641.3 183ZM1642.7 182.6L1643.8 161.6L1644.8 161.6L1647.4 177.8ZM1647.1 178.1L1648.2 165.2L1649.2 165.2L1651.8 177.1ZM1653 177.2L1654.1 152.6L1655.1 152.6L1657.7 174ZM1659.2 172.3L1660.3 160.4L1661.3 160.4L1663.9 169.9ZM1666.7 171.5L1667.8 147.8L1668.8 147.8L1671.4 169.3ZM1673.9 167.5L1675 154.4L1676 154.4L1678.6 166.7ZM1680.7 165.9L1681.8 156.7L1682.8 156.7L1685.4 163.7ZM1686.5 164.3L1687.6 153.9L1688.6 153.9L1691.2 166ZM1690.4 166L1691.5 138.6L1692.5 138.6L1695.1 163.3ZM1694.4 163.8L1695.5 147.1L1696.5 147.1L1699.1 160.7ZM1700 161L1701.1 151.7L1702.1 151.7L1704.7 162.1ZM1706.7 161.5L1707.8 150.1L1708.8 150.1L1711.4 159.9ZM1713.7 159.1L1714.8 135.2L1715.8 135.2L1718.4 156.2ZM1719.2 155.7L1720.3 147.9L1721.3 147.9L1723.9 155.9ZM1722.8 155.6L1723.9 137.1L1724.9 137.1L1727.5 156.3ZM1726.5 156.5L1727.6 139.9L1728.6 139.9L1731.2 154.5ZM1733.7 153.2L1734.8 140.1L1735.8 140.1L1738.4 153.8ZM1737.6 153.4L1738.7 137.9L1739.7 137.9L1742.3 155.6ZM1743.9 155.5L1745 141.6L1746 141.6L1748.6 153.2ZM1750.5 152.2L1751.6 144.3L1752.6 144.3L1755.2 154.6ZM1755.7 154.9L1756.8 141.2L1757.8 141.2L1760.4 156.1ZM1760.3 156.1L1761.4 147.5L1762.4 147.5L1765 156.1ZM1767.3 156.1L1768.4 146.9L1769.4 146.9L1772 155.5ZM1773.9 155.2L1775 149.7L1776 149.7L1778.6 155.2ZM1778.2 155.2L1779.3 150.7L1780.3 150.7L1782.9 155.7ZM1785.5 156L1786.6 149.3L1787.6 149.3L1790.2 157.9ZM1793 159.1L1794.1 153.7L1795.1 153.7L1797.7 160.9ZM1796.7 160.7L1797.8 156.5L1798.8 156.5L1801.4 161.6ZM1800.4 161.4L1801.5 154.7L1802.5 154.7L1805.1 162.4ZM1806.4 162.6L1807.5 153.4L1808.5 153.4L1811.1 164.3ZM1811.1 164.3L1812.2 154.4L1813.2 154.4L1815.8 164.4ZM1815.5 164.5L1816.6 154.9L1817.6 154.9L1820.2 162.1ZM1819.1 162.7L1820.2 151.1L1821.2 151.1L1823.8 161.7ZM1824.3 161.9L1825.4 146.7L1826.4 146.7L1829 161.3ZM1831.6 160.8L1832.7 147.6L1833.7 147.6L1836.3 161ZM1838.4 161.2L1839.5 147L1840.5 147L1843.1 159.6ZM1842.3 160L1843.4 152.6L1844.4 152.6L1847 159.1ZM1848.2 160.1L1849.3 143.5L1850.3 143.5L1852.9 161.3ZM1851.9 161.6L1853 145.4L1854 145.4L1856.6 160.6ZM1856.4 160.3L1857.5 148.4L1858.5 148.4L1861.1 164.4ZM1863.2 166.2L1864.3 151.8L1865.3 151.8L1867.9 167.6ZM1867.7 167.6L1868.8 159.5L1869.8 159.5L1872.4 169.1ZM1875 170.9L1876.1 157.5L1877.1 157.5L1879.7 171.9ZM1882.2 172L1883.3 162.1L1884.3 162.1L1886.9 176.4ZM1885.9 175.4L1887 166.2L1888 166.2L1890.6 177.9ZM1893.1 177.1L1894.2 171.3L1895.2 171.3L1897.8 179.9ZM1897.8 179.9L1898.9 172.1L1899.9 172.1L1902.5 182.5ZM1904.8 180.3L1905.9 170.1L1906.9 170.1L1909.5 177.2ZM1908.6 177L1909.7 167.7L1910.7 167.7L1913.3 178.2ZM1912.9 178.4L1914 165.2L1915 165.2L1917.6 175.3ZM1918.9 174.8L1920 168.8L1921 168.8L1923.6 176.7ZM1922.8 176.4L1923.9 163.9L1924.9 163.9L1927.5 177.2ZM1926.5 177.5L1927.6 167.7L1928.6 167.7L1931.2 176.2ZM1933.2 177.1L1934.3 174.1L1935.3 174.1L1937.9 179.4ZM1940 180.5L1941.1 174.5L1942.1 174.5L1944.7 179.5ZM1945.1 179.4L1946.2 174.6L1947.2 174.6L1947 178.9Z" fill="#6c7b8b" stroke="#6c7b8b" stroke-width="2" stroke-linejoin="round"/>
<path d="M103 150.5L105.2 156.7L107.2 156.7L109.4 150.5ZM113.2 151.1L115.4 157.1L117.4 157.1L119.6 151.1ZM120.4 150.3L122.6 160.3L124.6 160.3L126.8 150.3ZM132.7 151.1L134.9 162.6L136.9 162.6L139.1 151.1ZM146.1 153.9L148.3 164.2L150.3 164.2L152.5 153.9ZM158.4 155.8L160.6 162.9L162.6 162.9L164.8 155.8ZM170.7 157L172.9 166.8L174.9 166.8L177.1 157ZM175.9 161.2L178.1 182L180.1 182L182.3 161.2ZM181 164.4L183.2 173.2L185.2 173.2L187.4 164.4ZM188.2 167.8L190.4 195.4L192.4 195.4L194.6 167.8ZM195.4 170.1L197.6 180L199.6 180L201.8 170.1ZM199.5 170.7L201.7 194.2L203.7 194.2L205.9 170.7ZM208.7 168.2L210.9 184L212.9 184L215.1 168.2ZM224.1 170.3L226.3 183.4L228.3 183.4L230.5 170.3ZM233.4 170.1L235.6 184.6L237.6 184.6L239.8 170.1ZM237.5 171.3L239.7 194.5L241.7 194.5L243.9 171.3ZM244.6 168.5L246.8 179.1L248.8 179.1L251 168.5ZM258 169.7L260.2 180.7L262.2 180.7L264.4 169.7ZM271.3 171.3L273.5 180.6L275.5 180.6L277.7 171.3ZM282.6 172.7L284.8 182.8L286.8 182.8L289 172.7ZM293.9 173.3L296.1 180.8L298.1 180.8L300.3 173.3ZM302.1 174.5L304.3 179.6L306.3 179.6L308.5 174.5ZM315.5 173.9L317.7 182.6L319.7 182.6L321.9 173.9ZM328.8 173.2L331 183.1L333 183.1L335.2 173.2ZM341.2 174.2L343.4 188.7L345.4 188.7L347.6 174.2ZM354.5 175.7L356.7 194.2L358.7 194.2L360.9 175.7ZM365.8 172.8L368 187.5L370 187.5L372.2 172.8ZM378.1 172.8L380.3 187.5L382.3 187.5L384.5 172.8ZM392.5 171.3L394.7 191.7L396.7 191.7L398.9 171.3ZM404.8 168.9L407 181.2L409 181.2L411.2 168.9ZM417.1 168.1L419.3 184.4L421.3 184.4L423.5 168.1ZM431.5 161.6L433.7 172.6L435.7 172.6L437.9 161.6ZM445.9 157.7L448.1 166.3L450.1 166.3L452.3 157.7ZM456.1 159.1L458.3 166.6L460.3 166.6L462.5 159.1ZM466.4 160.9L468.6 168L470.6 168L472.8 160.9ZM474.5 162.8L476.7 170.9L478.7 170.9L480.9 162.8ZM485.8 164.4L488 173.6L490 173.6L492.2 164.4ZM500.6 166.3L502.8 175.6L504.8 175.6L507 166.3ZM507.8 166L510 176.4L512 176.4L514.2 166ZM518.7 164.7L520.9 169.6L522.9 169.6L525.1 164.7ZM525.9 163.7L528.1 173.2L530.1 173.2L532.3 163.7ZM538.2 161.5L540.4 173.4L542.4 173.4L544.6 161.5ZM543.7 162.3L545.9 177.1L547.9 177.1L550.1 162.3ZM553.6 162.3L555.8 173.9L557.8 173.9L560 162.3ZM564.3 160.9L566.5 176.6L568.5 176.6L570.7 160.9ZM576.2 160.7L578.4 172.1L580.4 172.1L582.6 160.7ZM587.5 159.4L589.7 170L591.7 170L593.9 159.4ZM602.9 154.3L605.1 180.1L607.1 180.1L609.3 154.3ZM609 154.2L611.2 162.9L613.2 162.9L615.4 154.2ZM615.2 154.5L617.4 165.4L619.4 165.4L621.6 154.5ZM627.5 153.7L629.7 161.7L631.7 161.7L633.9 153.7ZM639.8 151.4L642 157.7L644 157.7L646.2 151.4ZM649.1 152L651.3 159.4L653.3 159.4L655.5 152ZM658.3 151.7L660.5 160.2L662.5 160.2L664.7 151.7ZM666.5 152.1L668.7 162.3L670.7 162.3L672.9 152.1ZM679.9 153.5L682.1 160.7L684.1 160.7L686.3 153.5ZM696.3 159.4L698.5 176L700.5 176L702.7 159.4ZM709.2 163.3L711.4 186.3L713.4 186.3L715.6 163.3ZM722 168L724.2 194.1L726.2 194.1L728.4 168ZM734.3 165.7L736.5 189.6L738.5 189.6L740.7 165.7ZM746.6 162.1L748.8 186.2L750.8 186.2L753 162.1ZM754.8 162.9L757 181.1L759 181.1L761.2 162.9ZM759.9 162.7L762.1 189.8L764.1 189.8L766.3 162.7ZM765.1 163.2L767.3 192.4L769.3 192.4L771.5 163.2ZM772.3 162.2L774.5 184.4L776.5 184.4L778.7 162.2ZM777.4 156.1L779.6 170L781.6 170L783.8 156.1ZM796.9 141.1L799.1 163.6L801.1 163.6L803.3 141.1ZM811.5 141.1L813.7 173L815.7 173L817.9 141.1ZM827.6 142.9L829.8 153L831.8 153L834 142.9ZM830.7 144L832.9 155L834.9 155L837.1 144ZM852.2 148.1L854.4 153.1L856.4 153.1L858.6 148.1ZM862.5 153.7L864.7 167.7L866.7 167.7L868.9 153.7ZM866.6 155.8L868.8 171.7L870.8 171.7L873 155.8ZM874.8 160.9L877 173.1L879 173.1L881.2 160.9ZM878.9 166.4L881.1 197.4L883.1 197.4L885.3 166.4ZM886.1 169.8L888.3 185.4L890.3 185.4L892.5 169.8ZM891.7 173.2L893.9 189.1L895.9 189.1L898.1 173.2ZM897.4 171.5L899.6 191L901.6 191L903.8 171.5ZM904.2 173.2L906.4 212L908.4 212L910.6 173.2ZM910.8 176.7L913 189.6L915 189.6L917.2 176.7ZM916.9 180.1L919.1 211.8L921.1 211.8L923.3 180.1ZM923.1 184.5L925.3 213.8L927.3 213.8L929.5 184.5ZM929.2 186.5L931.4 211.2L933.4 211.2L935.6 186.5ZM935.4 191.7L937.6 229.8L939.6 229.8L941.8 191.7ZM942 194.3L944.2 226.6L946.2 226.6L948.4 194.3ZM948.1 195L950.3 223.7L952.3 223.7L954.5 195ZM954.5 190L956.7 211.5L958.7 211.5L960.9 190ZM961.1 186L963.3 202.6L965.3 202.6L967.5 186ZM967.2 187.2L969.4 208.6L971.4 208.6L973.6 187.2ZM973.4 188.9L975.6 206.5L977.6 206.5L979.8 188.9ZM980 190.4L982.2 208L984.2 208L986.4 190.4ZM985.7 191.3L987.9 207.4L989.9 207.4L992.1 191.3ZM992.9 193.1L995.1 201.4L997.1 201.4L999.3 193.1ZM999.1 194.1L1001.3 204.3L1003.3 204.3L1005.5 194.1ZM1005.6 196.1L1007.8 212.8L1009.8 212.8L1012 196.1ZM1018.2 196.8L1020.4 206.9L1022.4 206.9L1024.6 196.8ZM1022.7 198.2L1024.9 203.8L1026.9 203.8L1029.1 198.2ZM1037 193L1039.2 200.9L1041.2 200.9L1043.4 193ZM1050.4 187.5L1052.6 197L1054.6 197L1056.8 187.5ZM1063.1 192.1L1065.3 204.6L1067.3 204.6L1069.5 192.1ZM1070.9 192.6L1073.1 199.8L1075.1 199.8L1077.3 192.6ZM1076.5 193.3L1078.7 214L1080.7 214L1082.9 193.3ZM1084.3 192.8L1086.5 198L1088.5 198L1090.7 192.8ZM1090.4 192.7L1092.6 203.1L1094.6 203.1L1096.8 192.7ZM1096.6 193.5L1098.8 209.3L1100.8 209.3L1103 193.5ZM1102.8 195.7L1105 204.3L1107 204.3L1109.2 195.7ZM1108.9 195.6L1111.1 205.6L1113.1 205.6L1115.3 195.6ZM1115.1 196.6L1117.3 208.9L1119.3 208.9L1121.5 196.6ZM1121.6 198L1123.8 219.9L1125.8 219.9L1128 198ZM1127.4 199.6L1129.6 210.1L1131.6 210.1L1133.8 199.6ZM1134 199.5L1136.2 215.1L1138.2 215.1L1140.4 199.5ZM1139.7 200.4L1141.9 206.8L1143.9 206.8L1146.1 200.4ZM1146.3 200L1148.5 215.4L1150.5 215.4L1152.7 200ZM1159.2 200L1161.4 210.5L1163.4 210.5L1165.6 200ZM1166.4 197.8L1168.6 204.9L1170.6 204.9L1172.8 197.8ZM1172.1 196.7L1174.3 208.5L1176.3 208.5L1178.5 196.7ZM1179.7 193.5L1181.9 200.7L1183.9 200.7L1186.1 193.5ZM1185.4 193.7L1187.6 202.2L1189.6 202.2L1191.8 193.7ZM1199.2 186.9L1201.4 191.6L1203.4 191.6L1205.6 186.9ZM1206.3 185.1L1208.5 191.5L1210.5 191.5L1212.7 185.1ZM1218.7 182L1220.9 189.3L1222.9 189.3L1225.1 182ZM1223.2 184.2L1225.4 198.9L1227.4 198.9L1229.6 184.2ZM1231 183.7L1233.2 188.4L1235.2 188.4L1237.4 183.7ZM1237.1 183.2L1239.3 190.5L1241.3 190.5L1243.5 183.2ZM1243.3 181.8L1245.5 188.3L1247.5 188.3L1249.7 181.8ZM1248.4 184.2L1250.6 193.8L1252.6 193.8L1254.8 184.2ZM1255.6 185.7L1257.8 192.8L1259.8 192.8L1262 185.7ZM1261.2 186L1263.4 198.2L1265.4 198.2L1267.6 186ZM1266.9 187.5L1269.1 192.4L1271.1 192.4L1273.3 187.5ZM1273.1 187.9L1275.3 198.1L1277.3 198.1L1279.5 187.9ZM1280.3 189.2L1282.5 214.1L1284.5 214.1L1286.7 189.2ZM1286 189.5L1288.2 204.1L1290.2 204.1L1292.4 189.5ZM1292.2 189.4L1294.4 204L1296.4 204L1298.6 189.4ZM1297.7 188.6L1299.9 205.4L1301.9 205.4L1304.1 188.6ZM1304.5 189.6L1306.7 214.7L1308.7 214.7L1310.9 189.6ZM1310.7 188.2L1312.9 202.4L1314.9 202.4L1317.1 188.2ZM1316.8 185.4L1319 208.3L1321 208.3L1323.2 185.4ZM1323 181.2L1325.2 191.2L1327.2 191.2L1329.4 181.2ZM1329.1 178.8L1331.3 200.5L1333.3 200.5L1335.5 178.8ZM1335.7 177.5L1337.9 184.5L1339.9 184.5L1342.1 177.5ZM1345 177.7L1347.2 188.3L1349.2 188.3L1351.4 177.7ZM1374.7 143.5L1376.9 155.4L1378.9 155.4L1381.1 143.5ZM1380.9 143L1383.1 150.1L1385.1 150.1L1387.3 143ZM1391.2 141.6L1393.4 152.1L1395.4 152.1L1397.6 141.6ZM1402 143.7L1404.2 157.8L1406.2 157.8L1408.4 143.7ZM1407.6 147.6L1409.8 157.5L1411.8 157.5L1414 147.6ZM1414.8 152.6L1417 160.7L1419 160.7L1421.2 152.6ZM1425.7 153.8L1427.9 164.1L1429.9 164.1L1432.1 153.8ZM1431.2 158L1433.4 168.7L1435.4 168.7L1437.6 158ZM1438.4 159.1L1440.6 171.2L1442.6 171.2L1444.8 159.1ZM1442.9 159.7L1445.1 180.1L1447.1 180.1L1449.3 159.7ZM1448.6 161.4L1450.8 171.5L1452.8 171.5L1455 161.4ZM1455.2 164.7L1457.4 185.6L1459.4 185.6L1461.6 164.7ZM1461 168.6L1463.2 181L1465.2 181L1467.4 168.6ZM1467.5 172.6L1469.7 190.4L1471.7 190.4L1473.9 172.6ZM1475.3 173.5L1477.5 193.9L1479.5 193.9L1481.7 173.5ZM1481.5 177.2L1483.7 187.6L1485.7 187.6L1487.9 177.2ZM1487.7 176.8L1489.9 202.6L1491.9 202.6L1494.1 176.8ZM1493.8 178.2L1496 193.2L1498 193.2L1500.2 178.2ZM1500.4 179L1502.6 206.6L1504.6 206.6L1506.8 179ZM1507.2 178L1509.4 187.1L1511.4 187.1L1513.6 178ZM1513.9 177L1516.1 210.8L1518.1 210.8L1520.3 177ZM1519.5 180L1521.7 188.7L1523.7 188.7L1525.9 180ZM1526.7 178.5L1528.9 202.9L1530.9 202.9L1533.1 178.5ZM1533.9 180.1L1536.1 190.8L1538.1 190.8L1540.3 180.1ZM1540 182.5L1542.2 195.2L1544.2 195.2L1546.4 182.5ZM1545.6 185.6L1547.8 199.4L1549.8 199.4L1552 185.6ZM1552 190.2L1554.2 201.2L1556.2 201.2L1558.4 190.2ZM1558.1 191.4L1560.3 200L1562.3 200L1564.5 191.4ZM1571.5 186.8L1573.7 197L1575.7 197L1577.9 186.8ZM1577.7 189.2L1579.9 195.1L1581.9 195.1L1584.1 189.2ZM1586.9 190.6L1589.1 197.3L1591.1 197.3L1593.3 190.6ZM1592 193.1L1594.2 199.6L1596.2 199.6L1598.4 193.1ZM1598.6 195.9L1600.8 202.3L1602.8 202.3L1605 195.9ZM1610.1 198.5L1612.3 210.1L1614.3 210.1L1616.5 198.5ZM1622.4 196.5L1624.6 203.3L1626.6 203.3L1628.8 196.5ZM1627.6 199.3L1629.8 212.7L1631.8 212.7L1634 199.3ZM1635.1 197.3L1637.3 218.5L1639.3 218.5L1641.5 197.3ZM1639.7 197L1641.9 211.9L1643.9 211.9L1646.1 197ZM1647.5 192.2L1649.7 213.8L1651.7 213.8L1653.9 192.2ZM1651.6 192.3L1653.8 210.2L1655.8 210.2L1658 192.3ZM1658.8 184.8L1661 204.3L1663 204.3L1665.2 184.8ZM1664.9 186.2L1667.1 199.9L1669.1 199.9L1671.3 186.2ZM1673.1 182.1L1675.3 205.4L1677.3 205.4L1679.5 182.1ZM1679.3 181.2L1681.5 195.3L1683.5 195.3L1685.7 181.2ZM1685.5 183.1L1687.7 225.1L1689.7 225.1L1691.9 183.1ZM1691 182.2L1693.2 191.7L1695.2 191.7L1697.4 182.2ZM1697.2 180.4L1699.4 219.8L1701.4 219.8L1703.6 180.4ZM1703.3 179.6L1705.5 198.1L1707.5 198.1L1709.7 179.6ZM1711.1 176.2L1713.3 203.7L1715.3 203.7L1717.5 176.2ZM1716.3 168.9L1718.5 185.3L1720.5 185.3L1722.7 168.9ZM1723.4 167.1L1725.6 180.2L1727.6 180.2L1729.8 167.1ZM1730.6 162.4L1732.8 170.7L1734.8 170.7L1737 162.4ZM1735.8 162.7L1738 178L1740 178L1742.2 162.7ZM1748.5 159.7L1750.7 176.8L1752.7 176.8L1754.9 159.7ZM1755.3 162.1L1757.5 168.2L1759.5 168.2L1761.7 162.1ZM1762 161.8L1764.2 170.8L1766.2 170.8L1768.4 161.8ZM1770.7 161.2L1772.9 167.7L1774.9 167.7L1777.1 161.2ZM1776.8 161.7L1779 168.9L1781 168.9L1783.2 161.7ZM1782.6 165.9L1784.8 178.6L1786.8 178.6L1789 165.9ZM1786.1 168L1788.3 187.3L1790.3 187.3L1792.5 168ZM1793.7 172.7L1795.9 196.7L1797.9 196.7L1800.1 172.7ZM1799.4 173.6L1801.6 180.1L1803.6 180.1L1805.8 173.6ZM1805.6 174.1L1807.8 192.8L1809.8 192.8L1812 174.1ZM1811.7 173.9L1813.9 179.3L1815.9 179.3L1818.1 173.9ZM1818.3 173.1L1820.5 192.9L1822.5 192.9L1824.7 173.1ZM1824.1 173.2L1826.3 182.1L1828.3 182.1L1830.5 173.2ZM1830.2 174.1L1832.4 202.5L1834.4 202.5L1836.6 174.1ZM1836.4 174.6L1838.6 180.2L1840.6 180.2L1842.8 174.6ZM1843.2 174.7L1845.4 204.3L1847.4 204.3L1849.6 174.7ZM1849.7 176.8L1851.9 184.2L1853.9 184.2L1856.1 176.8ZM1855.9 180.2L1858.1 212.1L1860.1 212.1L1862.3 180.2ZM1862 183.1L1864.2 199.2L1866.2 199.2L1868.4 183.1ZM1868.8 183.8L1871 213.9L1873 213.9L1875.2 183.8ZM1875.4 183.3L1877.6 191.9L1879.6 191.9L1881.8 183.3ZM1881.6 184.9L1883.8 200L1885.8 200L1888 184.9ZM1887.7 186.6L1889.9 192.8L1891.9 192.8L1894.1 186.6ZM1893.9 188.2L1896.1 218.8L1898.1 218.8L1900.3 188.2ZM1907.2 185.2L1909.4 204.2L1911.4 204.2L1913.6 185.2ZM1914.4 182.2L1916.6 188L1918.6 188L1920.8 182.2ZM1920.2 182.9L1922.4 193L1924.4 193L1926.6 182.9ZM1927.8 181.9L1930 189.7L1932 189.7L1934.2 181.9ZM1932.9 183.7L1935.1 190.7L1937.1 190.7L1939.3 183.7Z" fill="#6c7b8b" stroke="#6c7b8b" stroke-width="1.2" stroke-linejoin="round"/>
<path d="M106.2 149.5V161.9M116.4 150.1V161.9M123.6 149.3V170.1M135.9 150.1V174.2M149.3 152.9V174.2M161.6 154.8V169M173.9 156V176.2M179.1 160.2V205M184.2 163.4V181.4M191.4 166.8V226.5M198.6 169.1V189.6M202.7 169.7V220.4M211.9 167.2V200.9M227.3 169.3V196.8M236.6 169.1V199.8M240.7 170.3V220.4M247.8 167.5V189.6M261.2 168.7V191.6M274.5 170.3V189.6M285.8 171.7V192.7M297.1 172.3V187.5M305.3 173.5V183.4M318.7 172.9V190.6M332 172.2V192.7M344.4 173.2V204M357.7 174.7V214.2M369 171.8V202.9M381.3 171.8V202.9M395.7 170.3V214.2M408 167.9V193.7M420.3 167.1V201.9M434.7 160.6V183.4M449.1 156.7V174.2M459.3 158.1V173.2M469.6 159.9V174.2M477.7 161.8V178.3M489 163.4V182.4M498.3 166.2V172.1M503.8 165.3V184.4M511 165V186.5M521.9 163.7V173.2M529.1 162.7V182.4M541.4 160.5V185.5M546.9 161.3V192.7M556.8 161.3V185.5M567.5 159.9V193.3M579.4 159.7V183.4M590.7 158.4V180.3M597.8 156.7V160.8M606.1 153.3V209.1M612.2 153.2V171.1M618.4 153.5V176.2M630.7 152.7V169M643 150.4V162.9M652.3 151V166M661.5 150.7V168M669.7 151.1V172.1M683.1 152.5V167M692.3 153V160.8M699.5 158.4V193.7M712.4 162.3V211.8M725.2 167V223.5M737.5 164.7V216.3M749.8 161.1V213.2M758 161.9V200.9M763.1 161.7V220.4M768.3 162.2V225.5M775.5 161.2V209.1M780.6 155.1V184.4M786.8 153.7V156.7M800.1 140.1V188.6M807.3 144.9V150.6M814.7 140.1V209.5M821.7 143.4V150.6M830.8 141.9V162.9M833.9 143V166M845.2 146.3V153.6M855.4 147.1V156.7M865.7 152.7V182.4M869.8 154.8V188.6M878 159.9V185.5M882.1 165.4V232.7M889.3 168.8V201.9M894.9 172.2V206M900.6 170.5V212.2M907.4 172.2V256.9M914 175.7V202.9M920.1 179.1V248.1M926.3 183.5V247.1M932.4 185.5V238.9M938.6 190.7V273.8M945.2 193.3V263.5M951.3 194V256.3M957.7 189V235.2M964.3 185V220.4M970.4 186.2V232.3M976.6 187.9V225.5M983.2 189.4V227M988.9 190.3V224.5M996.1 192.1V209.1M1002.3 193.1V214.2M1008.8 195.1V230.7M1014.6 197.7V206M1021.4 195.8V216.7M1025.9 197.2V208.1M1040.2 192V208.1M1046.4 189.9V193.7M1053.6 186.5V206M1059.8 188.1V195.7M1066.3 191.1V217.3M1074.1 191.6V206M1079.7 192.3V236.8M1087.5 191.8V201.9M1093.6 191.7V213.2M1099.8 192.5V226.1M1106 194.7V212.2M1112.1 194.6V215.3M1118.3 195.6V221.4M1124.8 197V244M1130.6 198.6V220.4M1137.2 198.5V231.7M1142.9 199.4V212.2M1149.5 199V231.7M1155.2 199.7V207M1162.4 199V220.8M1169.6 196.8V211.1M1175.3 195.7V220.4M1182.9 192.5V207M1188.6 192.7V210.1M1196.2 187.4V195.7M1202.4 185.9V194.7M1209.5 184.1V196.8M1221.9 181V195.7M1226.4 183.2V214.2M1234.2 182.7V191.6M1240.3 182.2V196.8M1246.5 180.8V193.7M1251.6 183.2V202.9M1258.8 184.7V198.8M1264.4 185V210.5M1270.1 186.5V195.7M1276.3 186.9V208.1M1283.5 188.2V241.9M1289.2 188.5V219.4M1295.4 188.4V219.4M1300.9 187.6V223.5M1307.7 188.6V243M1313.9 187.2V217.3M1320 184.4V233.7M1326.2 180.2V200.9M1332.3 177.8V224.5M1338.9 176.5V190.6M1348.2 176.7V198.8M1370.7 146.4V150.6M1377.9 142.5V167.4M1384.1 142V156.3M1394.4 140.6V162.5M1405.2 142.7V172.5M1410.8 146.6V167M1418 151.6V168M1428.9 152.8V174.2M1434.4 157V179.3M1441.6 158.1V183.4M1446.1 158.7V202.5M1451.8 160.4V181.4M1458.4 163.7V208.5M1464.2 167.6V193.7M1470.7 171.6V209.5M1478.5 172.5V216.3M1484.7 176.2V197.8M1490.9 175.8V231.7M1497 177.2V209.1M1503.6 178V237.8M1510.4 177V195.7M1517.1 176V249.5M1522.7 179V196.8M1529.9 177.5V230.2M1537.1 179.1V201.5M1543.2 181.5V208.1M1548.8 184.6V213.8M1555.2 189.2V212.2M1561.3 190.4V208.1M1568.5 189.1V196.8M1574.7 185.8V207M1580.9 188.2V199.8M1590.1 189.6V202.9M1595.2 192.1V205M1601.8 194.9V207.7M1607.5 197V205M1613.3 197.5V221.8M1618.8 199V205M1625.6 195.5V209.1M1630.8 198.3V226.5M1638.3 196.3V241.9M1642.9 196V227.6M1650.7 191.2V237.8M1654.8 191.3V229.6M1662 183.8V225.5M1668.1 185.2V214.2M1676.3 181.1V231.3M1682.5 180.2V210.1M1688.7 182.1V273.8M1694.2 181.2V200.9M1700.4 179.4V265.6M1706.5 178.6V218.3M1714.3 175.2V234.8M1719.5 167.9V202.9M1726.6 166.1V193.7M1733.8 161.4V178.3M1739 161.7V194.1M1745.1 161.5V167M1751.7 158.7V195.1M1758.5 161.1V173.2M1765.2 160.8V179.3M1773.9 160.2V173.2M1780 160.7V175.2M1785.8 164.9V191.6M1789.3 167V208.5M1796.9 171.7V223.5M1802.6 172.6V185.5M1808.8 173.1V213.2M1814.9 172.9V183.4M1821.5 172.1V214.6M1827.3 172.2V190.6M1833.4 173.1V234.8M1839.6 173.6V184.4M1846.4 173.7V237.8M1852.9 175.8V190.6M1859.1 179.2V248.5M1865.2 182.1V216.3M1872 182.8V248.1M1878.6 182.3V199.8M1884.8 183.9V215.9M1890.9 185.6V197.8M1897.1 187.2V253.6M1910.4 184.2V224.9M1917.6 181.2V192.7M1923.4 181.9V202.9M1931 180.9V196.8M1936.1 182.7V196.8M106 149.3V156.6M110.3 152.4V158.8M115.8 150.3V157.9M119.2 149.7V155.4M123.3 149.3V157.7M127.7 148.6V155.3M132.4 149.5V160.9M135.4 150V157.5M140.8 150.6V168M146 152V162.4M151.6 153.4V160.2M156.4 154.6V167.8M159.8 154.8V158.7M163 154.7V159.3M168 154.7V165.5M172.2 155.3V161.5M176.8 159V169.5M179.9 161.2V184.4M184.5 163.4V177.7M189.7 165.7V181.3M193.3 167.8V183.3M197.5 168.9V175.7M202.7 169.7V201.8M207.8 166.4V188.9M213.1 167.7V191.6M218.2 168.7V190.3M221.7 167.5V181.1M224.6 167.8V188.2M228.7 170.2V192.3M232.3 169.7V183.8M237.6 169.3V198M242.5 170.4V202.1M247.9 167.5V176.4M252.4 169.3V175.2M257.1 169.2V186.6M261.3 168.7V176.3M265.7 170.3V176.2M269.8 170.5V176.3M273.8 170V184.2M278.6 172V185.9M282.7 172V182M285.7 171.7V186.4M290.1 173.1V181.7M293.3 172.6V181.2M296.3 172.1V177.2M299.3 172.9V179.7M302.5 174V182M307 172.9V181.5M311.3 172.3V177.3M314.9 172.2V184.2M319.3 173.3V184.1M323.9 175.6V180M327.3 174.2V183.1M332.4 172.4V188.8M336.9 173.8V183M339.8 173.3V188.3M343.8 172.9V196.8M347.1 174.5V185.8M350 175V183.4M355 173.7V202.5M358.3 174.9V184.3M362.7 174.2V187.5M367.2 171.6V197.2M372.1 172.6V184.8M376.6 171.8V184.5M381.5 171.8V184M386.8 172.6V194.5M392 170.5V188.4M397.5 170.2V193.8M401 169.6V191.6M404.7 168.1V177.6M407.6 167.9V183.7M411.1 167.4V175.8M416.1 167.1V177.4M421 167.1V180.6M424.8 167.2V189.9M429.9 163.9V182.6M435.5 160.2V173.7M440.9 157.4V170.8M445.3 157V165.5M449.2 156.7V166.8M452.7 157V167.4M457.9 157.9V168.2M461.3 158.5V162.6M465.1 159.2V166.6M470.3 160V168.3M474.6 161.1V170.5M478.9 162V172.7M483.3 162.5V172.6M486.7 162.9V168.9M490.8 164.2V176.6M496.2 166.3V170M500.6 166V172.4M504.7 165.2V172M509.7 165.1V171.3M513.2 165V172.7M516.5 165.4V170.6M519.5 164.7V171M522.8 163.3V170.3M527.3 162.3V173.2M531.5 163.4V175.2M535.1 162V173.3M539.8 159.9V169.1M544.7 161.7V178M550.2 160.4V178.3M554.5 160.4V178.8M558.1 161.7V173.1M562.1 160.9V180M567 159.8V171.2M572.4 160.9V183.9M576.6 160.4V181.2M581.2 159.5V170.4M584.2 159.1V164.9M588.7 158.5V173.3M593.2 158.2V169M597.2 157V160.9M601.7 154.9V172.3M606 153.3V188M610.4 153.2V161.7M615.1 153.3V166.5M619.1 153.5V171.5M623.2 153.8V160.6M627.5 153.4V161.4M630.7 152.7V165.2M634 152V162.2M637.3 151.2V159.2M642.9 150.4V154.3M648.1 149.6V153.5M653.6 151.6V163M657.7 151.6V161.3M661.8 150.7V156.7M665.6 151V160.6M670.8 151.1V157.6M675.1 151.3V161.1M679.5 151.8V163.6M683.9 152.7V158.8M689.4 153.6V159.2M693 152.8V159.2M698.2 156.8V165M702.8 160.4V180.2M706.4 161.4V175.1M709.9 161.4V184.3M713.9 163.1V192.4M717.4 164.8V195.6M721.5 166.2V204M726.6 167.3V187.8M732.1 166.4V195.7M735.9 165.3V185.1M740.7 163.4V188.9M745.4 161.5V181.6M750.6 161.3V180.9M755.8 162V182.7M759.7 161.8V188M764 161.9V194.8M768.4 162.2V212.2M773.3 161.6V176.6M778.8 157.3V166M781.8 153.9V172.1M785.3 153.8V156.6M788.6 151.8V157M793.8 143.9V151.3M797.1 138.9V149.1M800 140V160.2M804.2 145.3V162.8M808.8 143.9V157.8M813.2 140.4V184.8M817.9 141.9V157M821.8 143.4V147.5M824.9 143V152.4M829 142.2V148.9M833.2 142.8V158.8M836.8 144.5V155.3M839.8 146.3V151.6M843.2 146.4V151.7M847.9 146.2V149.6M852.6 146.2V152M857.5 148.8V159.6M861.2 151.3V167.7M865.3 152.6V168.1M868.6 153.7V163.2M873.2 158.1V166.8M876.1 159.8V167.4M880.4 164.3V181.3M884 166.8V206.5M888 168.7V181.2M892.7 170.4V198.3M897.3 173.1V190.8M901.6 169.9V201.4M906.7 171.6V227.8M910.2 174.3V215.3M913.3 175.5V185.7M917.5 176.2V194.2M921.9 180.8V207.4M927.4 184V213.9M932.4 185.4V227.6M936.5 189.8V239.1M940.7 191.6V228.3M943.8 193V237.9M949.2 194.1V235.3M952.9 193.1V224.5M956.7 190.2V212.6M961.7 186.2V195.8M965.8 185.1V205.6M969 185.9V214.9M972.5 186.9V207.2M976 187.8V210.3M980 188.7V212.6M984 189.6V215.3M988.4 190.3V200.5M992.5 190.8V200.9M996.2 192.2V205.7M1000.3 192.8V206.2M1003.6 193.3V208M1006.7 194.2V205.6M1009.8 195.6V203.3M1015.2 197.9V205.3M1019 196.8V201M1023.9 196.3V206.2M1026.8 197.4V203.8M1033.2 196V198.3M1038.2 192V197.3M1042.4 192V199.9M1046.9 189.6V192.6M1050.2 187.6V191.4M1053.5 186.5V197.2M1058 188.1V193.7M1062.6 188.8V198.2M1067.2 191.6V203.4M1072.4 192.4V201.4M1077.6 191.8V219.2M1082.7 192.2V213.5M1087.5 191.8V197.7M1091 191.7V196.9M1095.6 191.6V201.5M1100.1 192.6V210.9M1104.6 194.2V204.6M1108.1 195V202.8M1112.9 194.7V210.9M1116.5 195.1V205.6M1120.6 196.4V212.5M1125.2 197.1V228M1130.1 198.5V215.5M1135 198.9V222.3M1139 198.9V212.2M1143.6 199.3V205.9M1148.8 199V213.8M1153.1 199.6V208.7M1156.9 199.8V202.7M1160.5 199.3V208.7M1166 198.1V204M1171.3 196.3V210.6M1176.3 195.7V205M1179.2 195.4V209.1M1182.2 193.1V199.6M1187.6 192.5V203.4M1192.7 190.5V199.3M1196 187.5V192.4M1199.1 186.3V190.7M1203.2 185.8V192.5M1206.9 184.8V192M1210.1 183.9V188.8M1213 183.4V187.3M1217.5 182.9V186.2M1221.4 181.2V192.1M1226.3 183.2V200.6M1231.5 183.7V189.4M1235.1 182.3V188.2M1239.6 182.2V193.4M1244.3 181.4V185.3M1249.7 182.2V191.2M1253.1 184V196.5M1257.7 184.7V195.7M1262 184.7V192.9M1266.1 185.4V196.1M1269.9 186.5V192.3M1273.1 186.8V192.8M1276.3 186.9V192.4M1280.5 188.4V215M1284.5 188.2V226.3M1289 188.5V208.3M1292.6 188.4V212.1M1296.4 188.3V211.6M1299.8 187.8V215.5M1304.5 187.9V203.4M1309.4 188.7V203.9M1313.3 187.4V202.3M1317 185.7V203.6M1320.3 184.2V206.8M1323.3 183V206.3M1327.1 179.1V195.8M1331.1 177.6V211.7M1336.4 178.5V194.9M1341.5 174.9V188.9M1346.9 176.4V186.7M1351.4 177.5V181.3M1366.3 154.1V157.5M1369.3 148.2V151M1373.5 143.7V153.5M1378 142.5V150.6M1382.7 141.7V148.3M1387.2 142.6V150.3M1392.7 140.1V150.9M1396.3 142V147.7M1401.7 143.4V148.5M1405.2 142.7V159.2M1409.9 145.7V163.2M1412.9 149V157M1417.8 151.6V160.4M1427.2 151.2V156.1M1430.1 153.8V161.3M1433.8 156.6V164.3M1437.4 158.6V165.5M1440.2 158.5V171.8M1445.2 158.2V171.4M1448.2 159.4V182.8M1451.3 160.4V167.9M1455.4 161.9V176M1460.4 164.8V185.3M1464.7 167.9V180.3M1467.6 170.3V193M1471.5 171.5V199.4M1474.6 170.8V191.3M1478.9 172.7V186.5M1481.9 175.3V199.7M1487.3 175.3V205.6M1491.6 176.2V211.2M1496.1 177.4V195.5M1499.4 176.7V202.8M1503.4 177.9V215.3M1506.3 179.1V196M1509.5 177.8V194M1513.6 174.8V193.5M1518.6 176.8V208.5M1522.2 179.1V189.6M1525 178.7V186.6M1527.9 177.6V212.4M1533.2 178.6V199.9M1538.6 179.3V192.6M1543.3 181.6V189.6M1547.3 183.6V200.7M1551.3 186.4V203M1555 189.1V203.5M1558.4 190.8V201M1562.4 190.2V199.2M1565.4 189.9V194.7M1570.2 188V192.2M1574.3 185.9V202.8M1578.8 187.3V197.4M1583.8 189.5V198.7M1587.7 189.4V195.6M1592.6 190.7V194.4M1596.7 192.8V198.1M1601.1 194.6V203.3M1606.3 196.7V201.7M1611 196.9V202.3M1615.6 198.6V211.3M1620.2 198.3V202.5M1624.4 195.7V202M1627.7 196.2V203.4M1632.7 198.7V215.9M1635.6 197.4V220.7M1640.8 196.2V219.7M1644.1 195.4V222.2M1647.4 192.5V214.3M1651.5 191.2V206.1M1655 191.3V204.4M1658.3 187.7V198M1662.9 184.2V209M1666.4 185.7V210.9M1670.4 183.8V201.5M1675.8 181.1V211.2M1679.9 181.4V206.8M1684.8 179.6V201.8M1687.7 181.6V236.4M1692.6 182V205.1M1695.8 180.3V205.2M1699.1 179.1V230.2M1703.6 179.9V216.8M1706.6 178.5V196.5M1711.5 176.8V192.2M1714.4 175.2V203.3M1719.6 167.7V189M1723 166.4V175.5M1728.1 165.2V183.7M1732.9 162.1V168.8M1737.8 161.3V168.4M1741.1 162.4V172M1746.6 160.8V164.3M1749.8 159.4V177.9M1754.8 159.9V170M1757.8 161V171.8M1763.3 161V173.8M1767.7 160.7V165.8M1772.5 160.2V169M1777.7 160.5V170.1M1781.9 161.5V176.9M1786 165V178.8M1790.6 167.4V197.8M1795 170.6V209.3M1798.6 172V202.7M1803.8 172.2V180.6M1806.7 172.6V191M1811.2 173.6V195.8M1815.6 173V182.1M1820.5 172.3V184.9M1825.2 172.5V185.8M1828.6 172V183.3M1832.4 172.7V209.2M1836.8 173.7V188M1839.7 173.6V182.1M1844.6 173.1V210.2M1849.6 175.6V186.1M1853.2 175.8V184.9M1856.8 177.1V213.3M1860.2 180.1V194.9M1864.3 181.9V192.3M1867.2 182.2V207.6M1871.7 182.8V217.8M1874.7 182.7V208.7M1878.9 182.3V190.1M1882.3 182.4V191.4M1886.5 185.3V196.9M1890.9 185.6V193.6M1894.5 184.8V211.7M1898 188.4V226.5M1901.4 190.3V204.9M1906.3 186.7V197M1910.6 184.2V215.2M1916.1 182.1V194.3M1919.9 181.1V187.5M1924.5 182.1V188.5M1927.8 181.6V187M1932.4 181.4V188.7M1937.8 183.3V190.8M1945.8 183.2V188.2" fill="none" stroke="#6c7b8b" stroke-width="3.2" stroke-linecap="round"/>
<path d="M105 145.7L106.5 147.7L108 150.4L109.5 151.9L111 151.6L112.5 150.5L114 149.5L115.5 148.6L117 147.8L118.5 147L120 146.2L121.5 145.3L123 144.5L124.5 143.6L126 142.8L127.5 142.6L129 142.8L130.5 143.1L132 143.4L133.5 143.6L135 143.8L136.5 144L138 144.2L139.5 144.4L141 144.6L142.5 145.1L144 145.7L145.5 146.3L147 146.9L148.5 147.5L150 148L151.5 148.6L153 149.2L154.5 149.8L156 150.4L157.5 150.9L159 150.9L160.5 150.8L162 150.7L163.5 150.7L165 150.6L166.5 150.6L168 150.5L169.5 150.4L171 150.4L172.5 150.6L174 151L175.5 151.5L177 152L178.5 152.4L180 152.9L181.5 153.3L183 153.8L184.5 154.2L186 154.7L187.5 155.1L189 155.6L190.5 156L192 156.4L193.5 156.7L195 157L196.5 157.3L198 157.7L199.5 158.1L201 158.5L202.5 158.7L204 158.2L205.5 157.4L207 156.5L208.5 156L210 156.3L211.5 157.3L213 158.4L214.5 159.5L216 160.4L217.5 160.6L219 160L220.5 159.1L222 158.2L223.5 158.1L225 159.1L226.5 160.6L228 162L229.5 162.8L231 162.5L232.5 161.8L234 161L235.5 160.7L237 161.1L238.5 161.9L240 162.7L241.5 163.2L243 162.9L244.5 162.2L246 161.5L247.5 161.1L249 161.6L250.5 162.6L252 163.8L253.5 164.6L255 164.7L256.5 164.1L258 163.3L259.5 162.8L261 163L262.5 163.7L264 164.6L265.5 165.6L267 166.2L268.5 166.1L270 165.6L271.5 164.9L273 164.6L274.5 165L276 166L277.5 167.1L279 168L280.5 168.3L282 168L283.5 167.6L285 167.3L286.5 167.5L288 168.3L289.5 169.2L291 169.7L292.5 169.3L294 168.6L295.5 168.4L297 168.9L298.5 169.8L300 170.6L301.5 171.5L303 172L304.5 171.6L306 170.7L307.5 170L309 169.6L310.5 169.4L312 169.2L313.5 168.9L315 168.5L316.5 168.2L318 168.4L319.5 169.4L321 170.7L322.5 171.9L324 172.4L325.5 171.8L327 170.6L328.5 169.4L330 168.3L331.5 167.5L333 167.4L334.5 168L336 168.3L337.5 167.7L339 166.7L340.5 165.7L342 164.6L343.5 164.2L345 164.6L346.5 165.5L348 166.1L349.5 166L351 165.3L352.5 164.5L354 163.9L355.5 164.1L357 164.9L358.5 165.9L360 166.2L361.5 165.6L363 164.5L364.5 163.4L366 162.5L367.5 162.2L369 162.6L370.5 163.4L372 164L373.5 164.1L375 163.6L376.5 162.8L378 162L379.5 161.8L381 162.4L382.5 163.5L384 164.1L385.5 163.8L387 162.9L388.5 161.9L390 160.8L391.5 160.1L393 159.8L394.5 159.8L396 159.7L397.5 159.6L399 159.5L400.5 159.4L402 159.2L403.5 159.1L405 159L406.5 158.9L408 158.8L409.5 158.6L411 158.5L412.5 158.4L414 158.6L415.5 158.7L417 158.9L418.5 159.1L420 159.3L421.5 159.5L423 159.7L424.5 159.7L426 159.1L427.5 158.3L429 157.5L430.5 156.8L432 156.1L433.5 155.4L435 154.6L436.5 153.9L438 153.1L439.5 152.3L441 151.8L442.5 151.9L444 152.1L445.5 152.4L447 152.6L448.5 152.8L450 152.9L451.5 153.1L453 153.3L454.5 153.6L456 154L457.5 154.4L459 154.8L460.5 155.1L462 155.5L463.5 155.9L465 156.3L466.5 156.6L468 156.8L469.5 157L471 157.3L472.5 157.5L474 157.7L475.5 158L477 158.2L478.5 158.4L480 158.7L481.5 158.9L483 159.1L484.5 159.3L486 159.5L487.5 159.7L489 160L490.5 160.9L492 161.9L493.5 163L495 163.8L496.5 163.8L498 163.4L499.5 163L501 162.6L502.5 162.3L504 162.1L505.5 162L507 162L508.5 162L510 161.9L511.5 161.9L513 161.9L514.5 161.9L516 162L517.5 161.8L519 161.2L520.5 160.2L522 159.2L523.5 158.2L525 157.3L526.5 157L528 157.5L529.5 158.3L531 159L532.5 158.9L534 157.8L535.5 156.2L537 154.6L538.5 153.3L540 153L541.5 153.8L543 155L544.5 155.6L546 155.2L547.5 154.3L549 153.5L550.5 152.6L552 152L553.5 152L555 152.7L556.5 153.5L558 154.1L559.5 154.2L561 153.8L562.5 153.1L564 152.4L565.5 151.9L567 152L568.5 152.4L570 153L571.5 153.5L573 153.9L574.5 154L576 153.8L577.5 153.7L579 153.6L580.5 153.5L582 153.4L583.5 153.3L585 153.2L586.5 153L588 152.9L589.5 152.7L591 152.6L592.5 152.5L594 152.2L595.5 151.6L597 150.9L598.5 150.2L600 149.5L601.5 148.8L603 148.1L604.5 147.7L606 147.6L607.5 147.7L609 147.7L610.5 147.7L612 147.7L613.5 147.7L615 147.9L616.5 148.2L618 148.5L619.5 148.8L621 149.2L622.5 149.5L624 149.8L625.5 149.8L627 149.6L628.5 149.5L630 149.3L631.5 149.1L633 149L634.5 148.8L636 148.6L637.5 148.3L639 148L640.5 147.7L642 147.3L643.5 147L645 146.6L646.5 146.2L648 146.1L649.5 146.5L651 147.4L652.5 148.2L654 149.1L655.5 149.4L657 149L658.5 148.1L660 147.3L661.5 146.7L663 146.6L664.5 146.8L666 146.9L667.5 147L669 147.1L670.5 147.1L672 147.2L673.5 147.2L675 147.3L676.5 147.5L678 147.8L679.5 148.2L681 148.6L682.5 149L684 149.3L685.5 149.7L687 150.2L688.5 150.7L690 150.9L691.5 150.4L693 149.5L694.5 148.5L696 147.9L697.5 147.8L699 148.3L700.5 148.8L702 149.3L703.5 149.8L705 149.7L706.5 149L708 148.1L709.5 147.2L711 146.7L712.5 147L714 147.6L715.5 148.2L717 148.8L718.5 149.2L720 149.7L721.5 150.2L723 150.7L724.5 151.2L726 151.7L727.5 151.9L729 151.5L730.5 151L732 150.5L733.5 150L735 149.6L736.5 149.1L738 148.6L739.5 147.9L741 147.2L742.5 146.5L744 145.7L745.5 144.9L747 144.2L748.5 144.2L750 144.6L751.5 145.3L753 145.9L754.5 146.2L756 146.1L757.5 146L759 145.8L760.5 145.6L762 145.7L763.5 146.2L765 146.9L766.5 147.6L768 147.7L769.5 147.5L771 147.2L772.5 146.9L774 146.7L775.5 146.8L777 146.9L778.5 147L780 147L781.5 147.2L783 147.4L784.5 147.7L786 147.7L787.5 146.7L789 144.7L790.5 142.4L792 139.7L793.5 136.7L795 133.6L796.5 130.4L798 128.5L799.5 129.4L801 131.7L802.5 134.1L804 136.2L805.5 137.1L807 136.2L808.5 134.4L810 132.6L811.5 131.2L813 131.2L814.5 132.6L816 134.6L817.5 136.5L819 138.1L820.5 138.7L822 138.6L823.5 138.3L825 138.1L826.5 137.8L828 137.6L829.5 137.3L831 137.5L832.5 138.5L834 139.8L835.5 141.2L837 142.5L838.5 143.8L840 144.7L841.5 144.9L843 144.7L844.5 144.5L846 144.4L847.5 144.3L849 144.2L850.5 144L852 144L853.5 144.4L855 145.2L856.5 146.1L858 147L859.5 147.4L861 147L862.5 146.1L864 145.2L865.5 144.2L867 143.6L868.5 144.2L870 146L871.5 148.1L873 150.3L874.5 151.9L876 152.4L877.5 152L879 151.9L880.5 152.8L882 154.1L883.5 155.6L885 156.9L886.5 157.6L888 157.5L889.5 157.1L891 157.3L892.5 158.1L894 159.2L895.5 160.3L897 161.1L898.5 160.6L900 159.3L901.5 157.7L903 156.4L904.5 155.9L906 156.2L907.5 156.7L909 157.2L910.5 157.7L912 157.4L913.5 155.8L915 153.9L916.5 153.6L918 155.2L919.5 157.7L921 160L922.5 162L924 163.2L925.5 163.7L927 164L928.5 164.3L930 164.7L931.5 165.2L933 166L934.5 167L936 167.9L937.5 168.8L939 169.7L940.5 170.6L942 171.5L943.5 172.3L945 172.9L946.5 173.3L948 173.6L949.5 174.1L951 174.5L952.5 175L954 175.6L955.5 175.9L957 175.6L958.5 174.7L960 173.7L961.5 172.7L963 171.8L964.5 171.3L966 171.8L967.5 172.7L969 173.5L970.5 174.2L972 175L973.5 175.7L975 176.3L976.5 176.8L978 177.2L979.5 177.7L981 178.1L982.5 178.6L984 179.1L985.5 179.5L987 180L988.5 180.5L990 181.1L991.5 181.9L993 182.6L994.5 183.4L996 184.2L997.5 184.9L999 185.7L1000.5 186.4L1002 187.1L1003.5 187.9L1005 188.6L1006.5 189.5L1008 190.4L1009.5 191.3L1011 192.3L1012.5 193.3L1014 194.4L1015.5 195L1017 194.8L1018.5 194L1020 193.3L1021.5 192.9L1023 193.5L1024.5 194.6L1026 195.9L1027.5 197.2L1029 198.3L1030.5 198.2L1032 196.8L1033.5 194.9L1035 193L1036.5 191.4L1038 190.7L1039.5 190.7L1041 191L1042.5 191.1L1044 190.5L1045.5 189.2L1047 187.7L1048.5 186.2L1050 184.6L1051.5 183.2L1053 182.8L1054.5 183.6L1056 184.6L1057.5 185.1L1059 185L1060.5 184.7L1062 184.8L1063.5 185.4L1065 186.3L1066.5 187.2L1068 188.1L1069.5 188.7L1071 188.4L1072.5 187.4L1074 186.3L1075.5 185.8L1077 186.1L1078.5 186.9L1080 187.6L1081.5 187.8L1083 187.3L1084.5 186.5L1086 185.8L1087.5 185L1089 184.4L1090.5 184.4L1092 184.8L1093.5 185.2L1095 185.6L1096.5 186L1098 186.4L1099.5 186.9L1101 187.4L1102.5 188L1104 188.6L1105.5 189.2L1107 189.5L1108.5 189.1L1110 188.5L1111.5 187.9L1113 187.8L1114.5 188.1L1116 188.4L1117.5 188.8L1119 189.1L1120.5 189.3L1122 189.2L1123.5 189L1125 189L1126.5 189.5L1128 190.1L1129.5 190.8L1131 191.5L1132.5 191.9L1134 191.6L1135.5 191.1L1137 191L1138.5 191.6L1140 192.4L1141.5 193.2L1143 193.5L1144.5 193.6L1146 193.7L1147.5 193.7L1149 193.9L1150.5 194.4L1152 195L1153.5 195.6L1155 196.2L1156.5 196.5L1158 196.2L1159.5 195.8L1161 195.4L1162.5 195.1L1164 194.8L1165.5 194.4L1167 193.8L1168.5 193.2L1170 192.5L1171.5 191.8L1173 191.5L1174.5 191.5L1176 191.8L1177.5 192L1179 192L1180.5 191.2L1182 189.5L1183.5 188.1L1185 187.9L1186.5 188.7L1188 189.6L1189.5 190.2L1191 189.9L1192.5 189L1194 187.9L1195.5 186.8L1197 185.8L1198.5 185.1L1200 184.9L1201.5 184.9L1203 184.8L1204.5 184.4L1206 183.8L1207.5 183.2L1209 182.6L1210.5 182L1212 181.6L1213.5 181.4L1215 181.3L1216.5 181L1218 180.3L1219.5 179.2L1221 178.4L1222.5 178.4L1224 179.4L1225.5 180.8L1227 182.1L1228.5 183.1L1230 183.1L1231.5 182.1L1233 180.9L1234.5 179.8L1236 179L1237.5 179L1239 179.3L1240.5 179.5L1242 179.4L1243.5 178.8L1245 178L1246.5 177.3L1248 177.2L1249.5 178.1L1251 179.2L1252.5 180.4L1254 181.3L1255.5 181.7L1257 181.6L1258.5 181.4L1260 181.2L1261.5 181L1263 181.1L1264.5 181.3L1266 181.6L1267.5 181.8L1269 182.1L1270.5 182.3L1272 182.1L1273.5 181.8L1275 181.3L1276.5 180.9L1278 180.4L1279.5 180L1281 179.7L1282.5 179.5L1284 179.4L1285.5 179.4L1287 179.4L1288.5 179.3L1290 179.1L1291.5 178.6L1293 178L1294.5 177.4L1296 177.1L1297.5 177.1L1299 177.2L1300.5 177.4L1302 177.5L1303.5 177.6L1305 177.7L1306.5 177.8L1308 178L1309.5 178L1311 177.6L1312.5 176.8L1314 175.9L1315.5 175L1317 174.1L1318.5 173.4L1320 173.1L1321.5 173L1323 172.6L1324.5 171.4L1326 169.5L1327.5 167.3L1329 166.1L1330.5 167L1332 169L1333.5 171L1335 172.5L1336.5 172.9L1338 172L1339.5 170.7L1341 169.6L1342.5 169.4L1344 170.3L1345.5 171.5L1347 172.6L1348.5 173.7L1350 174.7L1351.5 175.7L1353 176.9L1354.5 177.8L1356 177.9L1357.5 177L1359 175.9L1360.5 173.7L1362 169L1363.5 163.1L1365 157.2L1366.5 151.4L1368 146.9L1369.5 144.3L1371 142.4L1372.5 140.7L1374 139.8L1375.5 139.4L1377 139L1378.5 138.5L1380 138L1381.5 137.6L1383 137.7L1384.5 138.3L1386 139L1387.5 139L1389 138.1L1390.5 136.7L1392 135.4L1393.5 135L1395 136.3L1396.5 138.3L1398 140.2L1399.5 141.3L1401 140.4L1402.5 138.7L1404 137.1L1405.5 136.4L1407 137.4L1408.5 139L1410 140.8L1411.5 143L1413 145.4L1414.5 147.4L1416 148.3L1417.5 148.5L1419 148.7L1420.5 148.8L1422 148.7L1423.5 148.3L1425 147.8L1426.5 147.2L1428 147.1L1429.5 147.8L1431 149L1432.5 150.2L1434 151.3L1435.5 152.2L1437 153.2L1438.5 153.6L1440 152.9L1441.5 151.7L1443 150.8L1444.5 150.3L1446 150.4L1447.5 150.5L1449 150.6L1450.5 150.6L1452 150.6L1453.5 150.7L1455 151.4L1456.5 152.3L1458 153.3L1459.5 154.3L1461 155.2L1462.5 156.2L1464 157.4L1465.5 158.6L1467 159.8L1468.5 161.1L1470 162.1L1471.5 161.9L1473 161L1474.5 160L1476 159.5L1477.5 160.1L1479 161.6L1480.5 163.4L1482 165.2L1483.5 166.2L1485 165.7L1486.5 164.3L1488 163.1L1489.5 162.9L1491 163.7L1492.5 164.9L1494 165.9L1495.5 166.2L1497 165.8L1498.5 165L1500 164.3L1501.5 163.8L1503 164.1L1504.5 165.1L1506 166.3L1507.5 167.2L1509 166.8L1510.5 165.1L1512 162.8L1513.5 160.5L1515 159.3L1516.5 160.6L1518 163.1L1519.5 165.6L1521 167.7L1522.5 168.5L1524 168.2L1525.5 167.6L1527 167L1528.5 166.8L1530 167.5L1531.5 168.6L1533 169.8L1534.5 170.4L1536 170.3L1537.5 169.9L1539 169.9L1540.5 170.7L1542 172L1543.5 173.2L1545 174.4L1546.5 175.6L1548 177.1L1549.5 178.6L1551 180.2L1552.5 181.7L1554 183.3L1555.5 185L1557 186.3L1558.5 186.7L1560 186.7L1561.5 186.6L1563 186.7L1564.5 186.8L1566 187L1567.5 186.8L1569 186L1570.5 184.8L1572 183.6L1573.5 182.5L1575 182L1576.5 182.7L1578 183.7L1579.5 184.7L1581 185.7L1582.5 186.6L1584 187.2L1585.5 187.1L1587 186.6L1588.5 186.4L1590 186.7L1591.5 187.5L1593 188.5L1594.5 189.4L1596 190.2L1597.5 191.1L1599 191.9L1600.5 192.6L1602 193.3L1603.5 194.1L1605 194.9L1606.5 195.7L1608 196L1609.5 195.7L1611 195.5L1612.5 195.8L1614 196.6L1615.5 197.7L1617 198.5L1618.5 198L1620 196.3L1621.5 194.1L1623 191.9L1624.5 190.2L1626 189.6L1627.5 189.9L1629 190.4L1630.5 190.9L1632 191L1633.5 190.1L1635 188.6L1636.5 187.2L1638 186L1639.5 185.5L1641 185.5L1642.5 185.5L1644 184.6L1645.5 182.8L1647 180.6L1648.5 179L1650 178.9L1651.5 179.7L1653 180.6L1654.5 180.7L1656 179.4L1657.5 177.2L1659 174.7L1660.5 172.3L1662 170.9L1663.5 171.5L1665 173.1L1666.5 174.2L1668 174.1L1669.5 173L1671 171.6L1672.5 170.3L1674 169L1675.5 168.3L1677 168.5L1678.5 168.8L1680 168.5L1681.5 167.4L1683 166L1684.5 165.2L1686 165.7L1687.5 166.9L1689 168.1L1690.5 168.7L1692 168.2L1693.5 166.9L1695 165.6L1696.5 164.2L1698 163.1L1699.5 162.8L1701 163.4L1702.5 164.3L1704 164.8L1705.5 164.5L1707 163.9L1708.5 163.3L1710 162.7L1711.5 162.2L1713 161.7L1714.5 161L1716 159.9L1717.5 158.6L1719 157.3L1720.5 156.5L1722 156.8L1723.5 157.6L1725 158.3L1726.5 158.7L1728 158.2L1729.5 157.2L1731 156.2L1732.5 155.2L1734 154.3L1735.5 153.9L1737 154.4L1738.5 155.3L1740 156.3L1741.5 157.2L1743 157.7L1744.5 157.2L1746 156.2L1747.5 155.2L1749 154.2L1750.5 153.4L1752 153.6L1753.5 154.6L1755 155.9L1756.5 157.1L1758 157.7L1759.5 157.8L1761 157.7L1762.5 157.7L1764 157.6L1765.5 157.7L1767 157.7L1768.5 157.5L1770 157.3L1771.5 157L1773 156.8L1774.5 156.5L1776 156.4L1777.5 156.5L1779 156.7L1780.5 156.9L1782 157.1L1783.5 157.2L1785 157.4L1786.5 157.7L1788 158.3L1789.5 159L1791 159.7L1792.5 160.4L1794 161.1L1795.5 161.8L1797 162.3L1798.5 162.6L1800 162.9L1801.5 163.1L1803 163.4L1804.5 163.7L1806 164L1807.5 164.4L1809 165L1810.5 165.7L1812 166.4L1813.5 166.8L1815 166.6L1816.5 165.7L1818 164.8L1819.5 163.9L1821 163.1L1822.5 162.9L1824 163.5L1825.5 164.1L1827 163.9L1828.5 163.4L1830 162.8L1831.5 162.5L1833 162.6L1834.5 162.8L1836 163L1837.5 163.2L1839 163.2L1840.5 162.7L1842 161.8L1843.5 160.6L1845 159.8L1846.5 160L1848 161.3L1849.5 162.7L1851 163.5L1852.5 163.1L1854 162.1L1855.5 161.6L1857 162.1L1858.5 163.4L1860 164.9L1861.5 166.5L1863 167.9L1864.5 168.8L1866 169.1L1867.5 169L1869 169L1870.5 169.4L1872 170.2L1873.5 171.4L1875 172.6L1876.5 173.4L1878 173.6L1879.5 173.4L1881 173.1L1882.5 173.3L1884 174.5L1885.5 176.4L1887 178.4L1888.5 179.8L1890 180L1891.5 179.2L1893 178.3L1894.5 177.9L1896 178.9L1897.5 181L1899 183.5L1900.5 185.3L1902 185.4L1903.5 183.8L1905 181.8L1906.5 179.7L1908 178.4L1909.5 178.5L1911 179.5L1912.5 180.1L1914 179.5L1915.5 178.2L1917 176.9L1918.5 176.1L1920 176.3L1921.5 177.2L1923 178L1924.5 178.8L1926 179.2L1927.5 178.8L1929 178L1930.5 177.6L1932 177.8L1933.5 178.6L1935 179.5L1936.5 180.3L1938 181.2L1939.5 181.9L1941 182L1942.5 181.7L1944 181.2L1945.5 180.7L1947 180.4" fill="none" stroke="#000" stroke-width="3.7" stroke-linejoin="round" stroke-linecap="round"/>
<text x="93.3" y="27.6" text-anchor="end">0</text>
<text x="93.3" y="92.7" text-anchor="end">60</text>
<text x="93.3" y="157.8" text-anchor="end">120</text>
<text x="93.3" y="222.9" text-anchor="end">180</text>
<text x="93.3" y="288" text-anchor="end">240</text>
<text x="303.9" y="318.2" text-anchor="middle">08/08</text>
<text x="548.8" y="318.2" text-anchor="middle">08/28</text>
<text x="793.7" y="318.2" text-anchor="middle">09/17</text>
<text x="1038.6" y="318.2" text-anchor="middle">10/07</text>
<text x="1283.5" y="318.2" text-anchor="middle">10/27</text>
<text x="1528.4" y="318.2" text-anchor="middle">11/16</text>
<text x="1773.3" y="318.2" text-anchor="middle">12/06</text>
<text class="L" x="1026" y="359" text-anchor="middle">(a)</text>
<text class="L" transform="translate(29.6 146.7) rotate(-90)" text-anchor="middle">Depth (m)</text>
</g>
<g id="panel-b">
<rect x="105.0" y="405.5" width="1842.0" height="260.1" fill="none" stroke="#262626" stroke-width="2"/>
<path d="M304.8 665.6v-19.5M304.8 405.5v19.5M549.7 665.6v-19.5M549.7 405.5v19.5M794.6 665.6v-19.5M794.6 405.5v19.5M1039.5 665.6v-19.5M1039.5 405.5v19.5M1284.4 665.6v-19.5M1284.4 405.5v19.5M1529.3 665.6v-19.5M1529.3 405.5v19.5M1774.2 665.6v-19.5M1774.2 405.5v19.5M105.0 405.5h19.5M1947.0 405.5h-19.5M105.0 448.9h19.5M1947.0 448.9h-19.5M105.0 492.2h19.5M1947.0 492.2h-19.5M105.0 535.5h19.5M1947.0 535.5h-19.5M105.0 578.9h19.5M1947.0 578.9h-19.5M105.0 622.2h19.5M1947.0 622.2h-19.5M105.0 665.6h19.5M1947.0 665.6h-19.5" stroke="#262626" stroke-width="2" fill="none"/>
<path d="M107.2 538.1L108.1 522.1L109 494.9L109.9 481.6L110.6 485.3L111.3 494.5L112 510.1L112.8 528.5L113.5 547L114.2 566.4L115 583.3L115.7 592.2L116.4 595.2L117.2 589.8L117.9 578.8L118.6 561L119.4 539.3L120.1 521.3L120.8 508.8L121.6 504.2L122.3 506.4L123.1 515.4L123.9 525.3L124.6 534.9L125.4 549.1L126.2 561.3L127 567.4L127.7 569.9L128.5 567.5L129.2 558.9L129.9 548.8L130.7 540L131.4 528L132.1 519.1L132.9 517.5L133.6 521L134.4 527.9L135.2 539L136 549L136.8 555.9L137.6 559.6L138.4 556L139.3 541L140.2 531.6L141.1 526.8L141.8 529.1L142.6 535.8L143.4 542.6L144.1 545.3L144.9 542.2L145.6 534.7L146.4 521.3L147.1 511.9L147.8 509.9L148.7 526.9L149.6 554.2L150.5 570.9L151.2 570.3L152 567.1L152.7 561.4L153.4 555.4L154.1 548L154.8 539.2L155.5 531.8L156.3 525.8L157 518.5L157.7 512L158.4 509.5L159.1 508.9L160 519.7L160.9 540.2L161.8 564.9L162.6 575L163.4 568.8L164.3 553.2L165.1 533.2L165.9 515.3L166.7 510.3L167.5 512.8L168.3 517.1L169 522.6L169.8 532.8L170.5 543.4L171.3 552.7L172.1 563.5L172.8 570.8L173.6 573.9L174.3 576.1L175.2 569.8L176 551L176.8 528.8L177.6 510.8L178.4 503.2L179.1 503.8L179.9 508.2L180.6 512.8L181.3 517.7L182 525.6L182.7 532.3L183.4 537.7L184.1 545.6L184.8 551.8L185.5 553.6L186.2 554.5L187 550.5L187.7 539.9L188.5 524.5L189.3 511.6L190 500.8L190.8 496L191.5 496.9L192.2 502.7L192.9 511.2L193.6 519.3L194.3 529.3L195 541.5L195.7 552.2L196.4 561.3L197.1 569.6L197.9 574.6L198.6 575.6L199.3 571.7L200 563.6L200.8 552.5L201.5 535L202.2 514.7L202.9 499.2L203.7 487.7L204.4 478.4L205.1 475L205.9 478.3L206.6 488L207.4 502.1L208.1 520.8L208.9 541.1L209.7 557.3L210.4 571L211.2 582.2L211.9 585.3L212.6 578.7L213.4 559.8L214.1 536.8L214.8 509.4L215.6 482.5L216.3 465.2L217 459L217.8 461.8L218.5 471.7L219.2 487.8L219.9 504L220.6 522.4L221.4 545.5L222.1 564.9L222.8 577.6L223.5 587L224.2 590.4L225 582.5L225.8 563.2L226.6 537.3L227.4 506.6L228.2 486.5L229 480.2L229.7 482.5L230.4 487.9L231.1 497.8L231.8 510.1L232.5 523.2L233.3 540.3L234 557.9L234.7 570.4L235.4 580.9L236.1 591.6L236.9 598.4L237.6 600.1L238.3 588.8L239.1 560.4L239.8 523.7L240.5 493.6L241.3 483.7L242 486L242.8 490.7L243.5 496.4L244.3 506.6L245 520.1L245.8 532.2L246.5 544L247.3 556.5L248 566L248.8 572.3L249.6 577.7L250.3 579.8L251.1 574L251.9 554L252.7 529.4L253.5 506L254.2 487.4L255 481L255.7 484.2L256.5 490.9L257.2 500.3L257.9 516L258.6 534.4L259.3 549.2L260.1 562.6L260.8 574.7L261.5 581.6L262.2 584.3L263 579.9L263.7 567.9L264.4 545.9L265.2 523.4L265.9 505.9L266.6 492.2L267.4 487.4L268.1 490.1L268.8 496.3L269.5 504.7L270.2 519.6L270.9 536.3L271.7 548.5L272.4 560.4L273.1 571.9L273.8 578.5L274.5 580.8L275.3 577.7L276 567.5L276.7 549.7L277.4 532.4L278.1 517.3L278.9 500.9L279.6 489L280.3 486.1L281 489.1L281.7 496.5L282.5 507.2L283.2 521.7L283.9 536.4L284.7 549.7L285.4 562.1L286.1 570L286.9 572L287.6 565.4L288.4 551.1L289.1 530.9L289.9 503.8L290.7 479.5L291.4 465.9L292.2 460.5L292.9 479.7L293.6 523.9L294.4 570.8L295.1 590L295.8 588.3L296.5 583.5L297.2 576.4L297.9 565.2L298.6 551.5L299.3 539.8L300 528.5L300.8 513.5L301.5 498.9L302.2 489.8L302.9 483.2L303.6 477.8L304.3 476.1L305.1 492.3L305.9 528.3L306.6 565.3L307.4 582.2L308.1 581.6L308.8 577.2L309.5 571.5L310.3 565.3L311 556L311.7 547.9L312.4 541.3L313.1 531.4L313.9 522.3L314.6 518.1L315.3 515.2L316 513.8L316.8 523.1L317.5 547.3L318.2 573.3L319 596.3L319.7 606.4L320.5 600.3L321.2 580.5L322 553.8L322.8 523.1L323.5 494L324.3 476.5L325.1 469.9L325.8 473.5L326.6 481.9L327.3 497.6L328.1 517.4L328.9 537.7L329.6 559.5L330.4 579.4L331.1 592.9L331.9 602.1L332.6 606.2L333.4 599.2L334.2 575.7L334.9 542.6L335.7 512.7L336.4 490.9L337.2 482.2L337.9 484.6L338.7 492.1L339.4 502.4L340.2 515.2L340.9 533.4L341.6 552.2L342.4 566L343.1 578.4L343.9 591.3L344.6 598.9L345.4 600.7L346.2 589L347 560.3L347.8 523.2L348.7 494.7L349.5 483.2L350.2 484.8L350.9 489.8L351.6 500.9L352.4 513.3L353.1 524.4L353.8 539L354.5 555.4L355.2 568.5L356 580.5L356.7 590L357.4 594.8L358.1 597L358.9 578.1L359.7 530.2L360.4 478.8L361.2 460L361.9 464.6L362.7 476.2L363.4 494.8L364.2 517.7L365 539.7L365.7 562.9L366.5 583.5L367.2 594.4L368 598.2L368.7 593.4L369.4 582L370.1 562.4L370.8 538.7L371.6 516.7L372.3 497.4L373 484.1L373.7 480.2L374.5 484.1L375.3 492.5L376 504.1L376.8 522.6L377.6 543.2L378.4 558.8L379.1 571.4L379.9 581.1L380.7 584.3L381.5 579.4L382.2 567.5L383 550.6L383.7 528.1L384.5 508.1L385.3 497.3L386 492.9L386.8 494.9L387.6 499.6L388.3 508.6L389.1 518.2L389.8 528.9L390.6 543L391.4 554.2L392.1 560.2L392.9 565.4L393.6 567.8L394.3 566.7L395.1 563.2L395.8 559.3L396.5 552.3L397.2 541.7L397.9 534.1L398.6 529L399.3 521.8L400 515.7L400.7 512.8L401.4 511.4L402.1 520.9L402.8 545.5L403.5 557.2L404.2 555.6L405 549.1L405.7 542.5L406.4 533.9L407.2 526L407.9 522.2L408.6 519.6L409.4 525.7L410.3 542.7L411.1 551.4L411.8 550.7L412.5 547.1L413.2 544.8L414 542L414.7 541.2L415.4 542.6L416.1 545.9L416.8 546.4L417.6 548.1L418.3 550.4L419 543.3L419.6 523L420.3 513.4L421.1 514.7L421.9 520.9L422.6 523.8L423.4 525.2L424.2 521.6L424.9 513.6L425.7 504.8L426.5 501.5L427.2 507.4L428 520L428.7 537L429.4 553L430.2 557.6L431.1 552.9L432 548.3L433 545.9L433.9 553.6L434.8 570.5L435.7 579.8L436.5 566L437.3 533.8L438 500.8L438.8 486.7L439.6 498.4L440.3 530.7L441.1 558L441.9 569.9L442.6 568.8L443.3 566L444 560.6L444.7 555.1L445.4 547.5L446.2 536.2L446.9 527.8L447.6 522.3L448.3 514.1L449 506L449.7 501.5L450.4 498.4L451.1 497.4L451.8 514.8L452.5 551.5L453.2 566.8L453.9 565.4L454.6 563L455.4 559.5L456.1 553.2L456.8 547.2L457.6 540.9L458.3 530.9L459 521.2L459.8 515.9L460.5 510.9L461.2 504L462 499.2L462.7 496.9L463.4 496L464.3 502.2L465.1 522.5L465.9 547.1L466.7 563.3L467.6 570.9L468.3 569.5L469 566L469.7 558.5L470.4 549.4L471.1 540.1L471.8 529.1L472.5 517.9L473.2 510.3L473.9 505.1L474.6 500L475.4 498L476.1 507.9L476.9 536.9L477.7 563.1L478.4 573.6L479.2 571.1L480 563.3L480.7 553.1L481.5 547.8L482.2 544.5L483 545L483.8 546.5L484.5 552.6L485.3 555.1L486 555.5L486.7 544.6L487.4 521.5L488.1 510.3L488.8 518.6L489.6 541.4L490.3 564.4L491 584.8L491.8 594.1L492.5 587.7L493.3 567.6L494 542.2L494.8 515.5L495.6 496.2L496.3 489.8L497.1 500.2L497.8 519.6L498.6 543.4L499.4 553.5L500.3 545.7L501.2 529.4L502.1 522.7L502.9 539.8L503.7 575.1L504.5 592.1L505.3 577L506.1 542.7L506.8 511.4L507.6 496L508.3 500.2L509 513.3L509.8 535L510.5 554.5L511.2 566.7L511.9 572L512.8 565.5L513.7 549.2L514.5 533.4L515.4 526.8L516.1 538.3L516.8 560.1L517.5 573.6L518.3 549L519.2 493.6L520.1 466.8L520.9 473.5L521.6 492.1L522.4 516.1L523.1 541.8L523.9 559.7L524.6 565.8L525.6 561.4L526.5 556.8L527.4 551.2L528.3 560.9L529.3 580.8L530.2 591L531.1 554.5L532 476.3L532.9 437.5L533.7 450.4L534.5 483.3L535.3 525.4L536.1 560.1L537 571.5L537.3 559.8L537.6 539.9L538 531.9L538.8 537.3L539.6 549.8L540.3 568.4L541.1 586.7L541.9 597.9L542.7 603.8L543.4 582.4L544.1 527.5L544.9 470.8L545.6 448.7L546.4 463L547.1 496.2L547.9 532L548.7 545.9L549.4 538.1L550.2 521.7L550.9 516.5L551.7 526.4L552.6 547.4L553.4 574.8L554.2 598.4L555 606.9L555.9 587.5L556.8 541.6L557.6 492.8L558.5 474L559.4 494.5L560.3 531.3L561.2 549.4L562 535.1L562.8 508.6L563.7 492.5L564.5 507.4L565.3 547.3L566.1 585.4L566.9 601.1L567.7 594.4L568.4 574.4L569.1 546.9L569.8 522.4L570.5 503.8L571.3 495.6L572 501.7L572.7 520.7L573.4 528.5L574.1 525.7L574.8 520.3L575.6 518.6L576.3 521.4L577.1 530.5L577.8 544.2L578.6 553.7L579.3 561.8L580.1 566.2L580.9 564.6L581.6 556.6L582.4 547.1L583.2 535.6L583.9 523.1L584.7 515.1L585.5 508.2L586.2 505.2L587.1 511.9L587.9 533.7L588.7 556.5L589.5 575.7L590.3 583.2L591.2 574.6L592 555L592.8 532.7L593.6 510.4L594.5 502.5L595.2 508.2L596 523.3L596.8 536.3L597.5 542.2L598.4 533.9L599.3 513.7L600.2 506.2L601 515.4L601.8 535.1L602.7 557.8L603.5 579.3L604.3 587.4L605.2 576.2L606.1 551.3L606.9 525L607.8 513.4L608.6 516.5L609.3 529.1L610.1 538.1L610.9 541.1L611.6 534L612.3 521.3L612.9 514.5L613.8 520.2L614.6 537.9L615.4 555L616.2 569.1L617 576.5L617.8 575.2L618.6 569.7L619.3 562.7L620.1 552.5L620.8 539.9L621.6 531.6L622.4 523.5L623.1 513.5L623.9 508.4L624.6 507.3L625.4 509.6L626.1 516.3L626.8 527.3L627.6 536L628.3 544.3L629 553.1L629.8 555.1L630.6 553.1L631.3 548.6L632.1 544.6L632.9 538.4L633.7 534.6L634.5 532.9L635.2 533.5L635.9 536.1L636.6 539.1L637.3 539.2L638 535.6L638.7 531.3L639.5 530.1L640.2 527L640.9 521L641.7 517.4L642.4 516.3L643.1 515.5L644 524.7L644.9 544.2L645.8 553.1L646.6 549.4L647.5 546.6L648.4 542.9L649.2 547.5L650.1 561.2L650.9 568.3L651.7 563.7L652.4 548.4L653.1 529.4L653.9 509.3L654.6 489L655.3 475.1L656.1 470.3L656.8 473.3L657.5 481.1L658.2 496.3L659 515.1L659.7 530.5L660.4 545.5L661.2 560.9L661.9 570.2L662.6 573L663.4 568.5L664.2 555.2L665 533.9L665.8 516.9L666.6 505.1L667.4 499.1L668.2 510L669.1 537.1L670 562.5L670.8 575L671.6 570.7L672.3 554L673.1 535.8L673.8 522.2L674.5 516.5L675.4 526.4L676.2 547.8L677 555.5L677.8 547.8L678.6 534.6L679.5 518.9L680.3 512.4L681.1 519.6L681.8 534.8L682.6 553.5L683.4 572.4L684.2 578.5L685 569.2L685.7 545.8L686.5 524.7L687.3 515.5L688.1 517.2L688.9 523.7L689.7 528L690.6 529.4L691.2 519.1L691.9 503.6L692.6 493.3L693.4 499.2L694.1 515L694.9 540.1L695.6 563.9L696.4 580L697.1 586.3L697.9 584.8L698.6 579.4L699.4 571.9L700.1 564.5L700.9 553.1L701.6 538.6L702.4 528.5L703.1 521.6L703.8 513.2L704.6 507.4L705.3 506.2L706.1 508.8L706.8 515.1L707.5 526.2L708.3 539.1L709 550.1L709.7 563.2L710.4 576L711.2 581.7L711.9 583.7L712.6 580L713.3 571.5L714.1 556.3L714.8 539.5L715.5 522.9L716.2 506.9L716.9 497.9L717.7 494.9L718.4 498.4L719.1 505L719.8 518.3L720.5 535.6L721.3 549.7L722 561.9L722.7 570.8L723.4 573.6L724.1 569.7L724.8 561.7L725.6 549.1L726.3 530L727 512.1L727.7 500.4L728.4 491.8L729.2 487.8L729.9 494.5L730.7 513.9L731.5 536.3L732.3 555L733.1 562.7L733.8 560.6L734.6 550.2L735.4 538.5L736.2 530.3L737 522L737.8 518.2L738.6 519.6L739.4 524.8L740.2 530.5L741 538.8L741.7 547.7L742.5 551.1L743.3 552.4L744.1 549.1L745 543.3L745.8 532.8L746.6 525.3L747.4 522.3L748.1 535L748.8 562.5L749.5 578.1L750.2 574L751 558L751.7 538L752.5 519.5L753.3 504.4L754 499.7L754.9 514L755.8 535.6L756.7 549L757.5 538.3L758.3 514.4L759.1 503.2L760 510.7L760.8 526.7L761.6 551.7L762.4 571.7L763.2 577.5L764 573.8L764.7 564.8L765.4 550.1L766.2 535.7L766.9 523.8L767.6 512.8L768.4 509.3L769.2 513.3L770 526L770.7 538.9L771.5 553L772.3 565L773.1 568.9L773.9 564.8L774.7 554.3L775.5 536.9L776.3 517.2L777.1 503L777.9 492.2L778.6 487.1L779.5 506.2L780.4 551.2L781.3 570.5L782.1 568.2L782.8 562.9L783.6 556.1L784.3 545.1L785 531.8L785.8 519.7L786.5 507.6L787.3 496.4L788 488.9L788.8 483.9L789.5 481.6L790.2 483.1L791 490.9L791.7 502.9L792.4 513.9L793.1 526.6L793.8 543L794.6 556.9L795.3 566.4L796 573.3L796.7 575.4L797.5 569.5L798.2 561.1L799 557.5L799.7 578.4L800.5 616.4L801.2 638.1L802.1 619.6L802.9 570.8L803.7 512.9L804.5 462.6L805.3 444.2L806 447.3L806.7 456.8L807.4 469.9L808.1 488.4L808.8 510.1L809.5 530.9L810.2 553.3L811 577.3L811.7 596L812.4 608.2L813.1 616.9L813.8 620.2L814.5 612.9L815.2 592.1L816 563.7L816.7 528.2L817.5 489.4L818.2 458.7L819 440.1L819.7 432.7L820.6 467.2L821.5 537.3L822.4 571.5L823.2 564.3L824 550L824.8 532.4L825.7 514.2L826.5 508.3L827.3 517.2L828.1 541L829 568.3L829.8 591.8L830.6 600.3L831.4 587.4L832.1 560L832.9 534L833.7 520.6L834.4 526.4L835.2 545.1L836 564.6L836.8 570.9L837.6 563.7L838.4 545.7L839.2 521.3L840 504.1L840.9 497L841.6 504.6L842.4 522.6L843.2 545.1L843.9 552.4L844.7 550.6L845.4 546.5L846.1 539.7L846.9 531.6L847.6 527.2L848.3 522.6L849.1 520.2L849.8 522.6L850.6 533.7L851.3 545L852.1 555.4L852.8 565.1L853.6 568.3L854.3 564.5L855.1 557L855.8 545.2L856.6 534L857.3 531.9L858.1 535.3L859 535.6L859.9 537.2L860.7 523.7L861.6 495.1L862.4 480.6L863.2 485.8L863.9 499.2L864.6 518.4L865.4 542.7L866.1 563.9L866.8 576.1L867.6 581.2L868.1 575.1L868.6 567.1L869.1 561.2L869.6 573.8L870.1 594.9L870.6 606.9L871.4 596.5L872.2 568.9L873 529.8L873.8 492.2L874.6 464.1L875.4 453.3L876.2 459L876.9 479.3L877.7 506.2L878.5 532.6L879.3 559.3L880.1 578.6L880.9 584.9L881.6 580L882.4 567.5L883.1 545.7L883.8 521L884.6 502.9L885.3 490L886 484.3L886.8 489.2L887.6 503.2L888.4 520.4L889.2 542.9L890 565.2L890.8 577.2L891.6 581.8L892.3 574.6L893.1 554L893.8 529.9L894.5 512.8L895.3 504.2L896 506.7L896.6 514.4L897.3 519.2L898 509L898.7 489.3L899.4 479.5L899.7 487.2L899.9 498.8L900.2 503.5L900.5 496.9L900.8 484.3L901 480.2L901.9 514L902.8 581.9L903.7 614L904.5 604.6L905.3 579.5L906.2 548.1L907 525.1L907.8 514.9L908.4 520.7L909 533.3L909.7 542.2L910.5 527.1L911.4 490.6L912.3 474L913.1 489.5L914 529.2L914.8 577.5L915.6 617.6L916.4 632.5L917.2 620.7L917.9 592.9L918.6 558L919.4 526.8L920.1 516.1L920.8 518.2L921.5 523.9L922.2 523.7L923 508.7L923.8 484.6L924.6 471.3L925.4 482L926.1 510.3L926.9 546.1L927.6 573.9L928.3 585.3L929.2 572.9L930.1 537.2L931 504.6L931.8 491.9L932.6 516.7L933.3 564.3L934.1 590L934.9 574.6L935.7 538.2L936.6 502.6L937.4 486.1L938.1 498.8L938.9 535.8L939.7 569L940.5 582.2L941.3 572.6L942.1 546.5L942.9 515.1L943.7 491.6L944.6 480.6L945.4 506.6L946.3 565.1L947.2 592.5L948 576.5L948.8 539.3L949.5 500.2L950.3 484.7L951.2 499.3L952.1 534.9L952.9 565.9L953.8 580.8L954.6 565.9L955.3 528.6L956.1 491.7L956.9 476.5L957.8 504.8L958.7 559.4L959.5 589.8L960.3 572.5L961.1 525.1L961.9 478.1L962.6 460L963.4 483.7L964.2 540.4L964.9 599.2L965.7 622.3L966.5 611.1L967.4 582.8L968.2 552.2L969 524.6L969.8 513.4L970.5 532.7L971.2 571.2L971.9 590.4L972.6 579.1L973.3 552.3L974.1 514.6L974.8 483.6L975.6 473.8L976.4 504.8L977.2 563.9L978 594.1L978.9 578.2L979.8 539.2L980.6 504.8L981.5 487.8L982.3 501.2L983.1 538.3L983.8 574.3L984.6 588.8L985.3 580.5L986.1 556.4L986.8 525.3L987.6 504L988.3 494.9L989.2 519.5L990.1 570.5L991 597L991.7 582L992.5 545.3L993.3 509.3L994 493.9L994.9 505L995.8 534.4L996.7 559L997.5 570.9L998.3 562L999.1 538.6L999.8 511.6L1000.6 502.5L1001.5 522.8L1002.4 560.4L1003.3 579.1L1004 568.3L1004.7 542.2L1005.4 515.6L1006.2 505.2L1006.9 513.1L1007.6 529.9L1008.4 550.9L1009.1 571.3L1009.9 578.1L1010.6 566.6L1011.4 536.5L1012.2 510.5L1012.9 499.1L1013.8 509.9L1014.7 532.7L1015.6 543.2L1016.5 530.2L1017.4 510.5L1018.3 497.6L1019 502.1L1019.8 517.2L1020.5 538.2L1021.3 557.4L1022 573.2L1022.8 578.1L1023.4 567.1L1024 544.8L1024.5 536.5L1025.1 539.2L1025.7 542.2L1026.3 543.2L1027.1 538.9L1027.9 525.3L1028.6 504.6L1029.4 488.8L1030.2 476.6L1031 470.7L1031.8 474.9L1032.5 487.3L1033.3 503.5L1034.1 526L1034.9 550L1035.6 566.3L1036.4 577.3L1037.2 582.2L1037.9 575.6L1038.7 561.4L1039.4 555.2L1040.2 560.8L1040.9 566.8L1041.7 572L1042.6 558.3L1043.4 523.6L1044.3 486.2L1045.2 472.4L1046 478.5L1046.7 494.3L1047.5 517.5L1048.3 540.6L1049.1 555.2L1049.9 561.7L1050.6 557.7L1051.3 550.3L1052 543.6L1052.8 555.5L1053.7 585.6L1054.6 599.1L1055.5 579.7L1056.4 534.4L1057.2 488.7L1058.1 469.9L1058.9 479.9L1059.6 504L1060.3 531.1L1061.1 556.3L1061.8 566.2L1062.7 563L1063.6 552.9L1064.4 547.1L1065.3 543.2L1066 545.9L1066.7 552.3L1067.4 554.5L1068.2 537.9L1069.1 503.2L1070 463.4L1070.8 447.7L1071.6 457.2L1072.4 482.1L1073.2 514.6L1074 549L1074.8 572.7L1075.6 582.2L1076.4 579.5L1077.1 568.4L1077.9 551.2L1078.7 539L1079.5 529.4L1080.3 524.7L1080.9 526.4L1081.5 530.9L1082.1 532.5L1082.8 519.3L1083.4 496.5L1084 484.7L1084.7 489.6L1085.5 499.7L1086.3 518L1087 540.5L1087.8 557.6L1088.6 568.9L1089.3 573.6L1090.1 566.5L1091 548.4L1091.8 533.2L1092.6 525.7L1093.3 532.1L1094 543L1094.7 551.4L1095.5 544L1096.3 525.8L1097.1 516.5L1097.9 521.3L1098.7 531.5L1099.4 541.6L1100.2 547.3L1101 544.9L1101.7 532.8L1102.5 521.3L1103.3 518.6L1104 526.7L1104.7 541.1L1105.3 549L1106.2 543.9L1107 526.4L1107.8 511.8L1108.6 506.9L1109.3 512.5L1110.1 525.5L1110.8 545.4L1111.5 563.9L1112.2 577.1L1112.9 583.2L1113.7 575.8L1114.5 551.3L1115.2 528.8L1116 520.6L1116.8 522.4L1117.5 527.8L1118.2 535.7L1119 538.9L1119.7 541.1L1120.6 537.9L1121.5 528.3L1122.3 516.4L1123.2 513L1124.1 531.3L1125 569.7L1125.9 588.4L1126.6 573.9L1127.2 544.9L1127.9 533.2L1128.6 536.5L1129.3 537.2L1130 538.1L1130.9 528.4L1131.8 510.1L1132.6 499.7L1133.4 504.4L1134.2 517.6L1135 535.7L1135.8 558L1136.6 577.9L1137.4 589.5L1138.2 594.5L1139.1 580.6L1139.9 545L1140.8 505.7L1141.7 492.3L1142.4 498.3L1143.2 510.3L1143.9 523.7L1144.6 537.1L1145.4 542.2L1146.1 541.3L1146.9 539.9L1147.7 538.5L1148.5 537L1149.3 544.9L1150.1 565.8L1150.9 573L1151.7 565L1152.4 548L1153.1 527.9L1153.9 509.3L1154.6 502.5L1155.4 507.9L1156.2 517.1L1156.9 529.4L1157.7 535L1158.6 530.6L1159.5 520.2L1160.4 516.5L1161.2 526.1L1162.1 553.3L1163 578L1163.9 587.4L1164.7 578L1165.5 554.8L1166.3 524.2L1167.1 501.3L1168 491.3L1168.7 496.6L1169.5 515.3L1170.3 534.4L1171 540.1L1171.8 539.8L1172.6 540.5L1173.4 539.4L1174.1 540.1L1174.9 551L1175.8 570.1L1176.6 578.1L1177.4 562.8L1178.2 529.9L1179.1 494.5L1179.9 480L1180.6 486L1181.3 501.2L1182 521.9L1182.7 547.7L1183.4 572.8L1184.1 587.9L1184.8 592.5L1185.6 588.8L1186.3 581.3L1187.1 569L1187.8 552L1188.6 535.5L1189.3 519.7L1190.1 505.5L1190.8 497.5L1191.6 494.9L1192.4 498.6L1193.1 505.4L1193.9 519.1L1194.7 537.3L1195.4 551.7L1196.2 564.1L1197 573.5L1197.7 576.5L1198.5 570.8L1199.2 559.1L1200 541.1L1200.7 525L1201.4 521.2L1202.3 527.9L1203.1 535.8L1203.9 541.1L1204.8 534.8L1205.7 521.7L1206.6 515.9L1207.4 520.7L1208.1 531.3L1208.9 550.1L1209.7 563.1L1210.5 566.8L1211.2 564.2L1212 558.7L1212.7 548.7L1213.4 538.1L1214.2 527.7L1214.9 516.5L1215.7 510.2L1216.4 508.7L1217.2 511.6L1217.9 515.9L1218.6 524.1L1219.3 537.6L1220.1 550.2L1220.8 559.8L1221.5 568.8L1222.3 575.1L1223 577.1L1223.7 574L1224.4 566.6L1225.2 554.2L1225.9 535.6L1226.6 516.1L1227.3 500.5L1228 485.8L1228.7 471.2L1229.5 462L1230.2 459.6L1230.9 462.6L1231.7 470.4L1232.5 483.3L1233.2 500.4L1234 516.4L1234.7 532L1235.5 550L1236.3 564.1L1237 570.9L1237.8 573.6L1238.5 569.7L1239.2 558.6L1240 542L1240.7 526.8L1241.4 511.8L1242.2 498.8L1242.9 495.4L1243.6 497L1244.3 501.6L1245 508.2L1245.8 518.8L1246.5 529.1L1247.2 536.9L1247.9 547.6L1248.6 559.2L1249.3 565.8L1250 569.7L1250.7 571.3L1251.5 565.6L1252.2 548.2L1253 529.4L1253.7 509.8L1254.5 492.3L1255.2 486.7L1256 495.3L1256.8 514.7L1257.5 535.7L1258.3 544.2L1259.1 540.8L1259.9 530L1260.6 524L1261.4 520.6L1262.2 528.1L1262.9 545.6L1263.7 564.6L1264.5 572L1265.2 562.8L1266 543.2L1266.8 520.8L1267.6 511.4L1268.2 519.2L1268.9 539.9L1269.6 547.3L1270.4 540.1L1271.1 524.3L1271.9 511.8L1272.7 504.8L1273.5 508.9L1274.3 520.8L1275.2 536.3L1276 547.7L1276.8 552.4L1277.6 548.4L1278.3 535.5L1279.1 524.4L1279.9 520.6L1280.6 528L1281.4 540.2L1282.2 556.5L1283 563.7L1283.8 549.3L1284.7 518.8L1285.6 505.2L1286.4 514L1287.2 536.1L1287.9 558.5L1288.7 566.4L1289.5 554L1290.2 530.4L1291 502.8L1291.8 490.8L1292.5 496L1293.3 511.1L1294 530.6L1294.8 552.3L1295.6 566.5L1296.3 571.3L1297 553L1297.7 521.3L1298.4 502.8L1299.2 513.9L1300 542.8L1300.8 569.9L1301.6 582.2L1302.5 560.1L1303.3 511L1304.1 486.3L1304.9 495.3L1305.7 520.1L1306.6 548.9L1307.4 573.7L1308.2 582.2L1309 564.2L1309.8 524.9L1310.5 487.8L1311.3 469.9L1312.1 483.4L1312.8 518L1313.6 553.3L1314.4 567.4L1315.1 557.4L1315.9 535.4L1316.7 510.1L1317.5 499.7L1318.3 523L1319.1 574L1319.9 596.6L1320.6 587.4L1321.4 563.6L1322.1 530.9L1322.8 497L1323.5 473.8L1324.2 465.2L1325 470.8L1325.8 483.7L1326.5 506.8L1327.3 535.5L1328.1 560.6L1328.9 582.4L1329.6 597.7L1330.4 602.8L1331.2 594.3L1332 574.2L1332.8 541.2L1333.6 502.6L1334.4 472.3L1335.1 450.6L1335.9 442.2L1336.7 446.8L1337.4 459L1338.1 476.2L1338.9 501.3L1339.6 528.5L1340.3 549.4L1341 567.3L1341.8 581.1L1342.5 585.3L1343.2 582.4L1343.9 575L1344.7 562.8L1345.4 546.8L1346.1 534.3L1346.8 524.3L1347.5 514.7L1348.3 511.8L1349 516.4L1349.8 529.6L1350.6 539L1351.3 543.8L1352.2 539.5L1353 527.4L1353.8 513.3L1354.6 502.2L1355.4 497L1356.2 499.7L1356.9 511.7L1357.7 525.6L1358.4 533.3L1359.1 537.5L1359.9 524L1360.7 493.1L1361.4 458.2L1362.2 444.6L1363 456L1363.7 487.7L1364.5 529.6L1365.2 572.9L1366 604.1L1366.7 615.1L1367.5 610.7L1368.2 602.4L1368.9 588.8L1369.7 569.7L1370.4 554.3L1371.1 545.9L1371.9 542.2L1372.4 549.8L1373 565.3L1373.5 573L1374.4 562.1L1375.3 534.4L1376.1 511.7L1377 500.1L1377.8 513.6L1378.6 543.2L1379.5 557.6L1380.4 543.6L1381.2 519.9L1382.1 504.6L1383 523.5L1383.8 565.9L1384.6 585.9L1385.4 577.8L1386.2 556.9L1387 523.3L1387.7 491.6L1388.5 471.2L1389.3 462.5L1390.1 469.5L1390.9 490.2L1391.7 517.1L1392.5 547.1L1393.3 578.4L1394.1 598.3L1394.9 604.4L1395.6 598.6L1396.3 583.5L1397 559.5L1397.7 531.8L1398.5 506.2L1399.2 482.7L1399.9 465.3L1400.6 460.5L1401.3 467L1402.1 486L1402.8 511.1L1403.5 541L1404.2 573.5L1404.9 600.7L1405.6 618L1406.4 624.3L1407.1 606.6L1407.9 568.1L1408.6 549.9L1409.4 553.7L1410.1 562.3L1410.9 563.7L1411.6 553.1L1412.4 530.6L1413.1 503L1413.8 477.1L1414.6 467.8L1415.4 475.6L1416.2 495.9L1417 520.4L1417.9 541.3L1418.7 548.3L1419.5 538.8L1420.3 525.3L1421.1 515.5L1421.9 518.1L1422.7 529.5L1423.5 541.1L1424.2 544.2L1425.1 539L1426 528.2L1426.9 523.3L1427.6 535.2L1428.3 560.6L1429.1 583.4L1429.8 595.6L1430.5 589.2L1431.3 569L1432 544L1432.7 525.2L1433.5 517.5L1434.3 521.3L1435.1 532.5L1435.9 535L1436.7 528.1L1437.4 515.3L1438.2 499.8L1438.9 484.4L1439.6 478.9L1440.5 496.1L1441.4 535.3L1442.2 577.1L1443.1 594.1L1443.9 582.7L1444.7 552.8L1445.4 527.3L1446.2 516.1L1447.1 526L1448 545.6L1448.9 555.5L1449.6 546.8L1450.4 528.3L1451.2 511.9L1452 502.8L1452.7 513.5L1453.5 541.9L1454.3 572.9L1455 584.3L1455.9 575L1456.8 553.9L1457.6 530.3L1458.5 521.6L1459.4 528.3L1460.3 539.1L1461.2 543.2L1462.1 538.2L1463 528.3L1463.9 523.7L1464.7 530.2L1465.6 539.9L1466.5 550.8L1467.4 557.2L1468.1 548.6L1468.9 526.5L1469.7 505.7L1470.4 496L1471 498.9L1471.7 510.6L1472.3 515.2L1472.9 511.5L1473.5 501.1L1474.1 498L1474.9 507.5L1475.7 531.3L1476.5 563.2L1477.2 587.7L1478 596.2L1478.8 589.7L1479.5 575.6L1480.2 551.6L1481 523.4L1481.7 500.7L1482.4 484.9L1483.2 478.9L1483.8 486.4L1484.4 501.8L1485 507.8L1485.6 501L1486.2 490.7L1486.9 486.7L1487.6 504.6L1488.4 541.4L1489.2 580.9L1489.9 598.6L1490.7 594.8L1491.4 580.9L1492.1 561.1L1492.8 539.9L1493.5 517.5L1494.3 497.7L1495 485.2L1495.7 480.6L1496.4 485.8L1497.2 501.1L1497.9 524.6L1498.7 545.7L1499.5 559.2L1500.2 565.8L1501 564.6L1501.7 559.2L1502.5 550.7L1503.3 549.4L1504 556L1504.7 567.6L1505.3 573L1506.1 562L1506.8 532.1L1507.6 493.6L1508.3 465.5L1509 454.3L1509.8 457.3L1510.5 464.6L1511.2 478.9L1511.9 497.5L1512.6 517.1L1513.3 539.9L1514.1 562.5L1514.8 580.5L1515.5 598L1516.2 613.6L1516.9 621.9L1517.7 624.3L1518.5 608L1519.3 564.4L1520.1 510.1L1520.9 469.7L1521.8 452.2L1522.5 454.4L1523.2 461.6L1523.9 473.9L1524.6 488.6L1525.3 507.3L1526 529.5L1526.7 549L1527.5 566.2L1528.2 585.2L1528.9 602.5L1529.6 613.9L1530.3 620.7L1531 623.3L1531.8 608L1532.6 565.3L1533.5 516.8L1534.3 478.1L1535.1 461.1L1535.9 476.5L1536.7 517.9L1537.4 559.2L1538.2 575.4L1538.9 571.7L1539.7 562.6L1540.4 548.6L1541.1 537.5L1541.9 535L1542.5 549.4L1543.1 573.7L1543.7 584.7L1544.6 574.5L1545.4 552.5L1546.2 522.9L1547 498.1L1547.8 489.2L1548.6 500.7L1549.4 528.2L1550.2 558.9L1550.9 569.9L1551.7 566.3L1552.4 558.1L1553.1 552.3L1553.9 544.8L1554.6 541.1L1555.3 543.3L1556 549L1556.7 551.4L1557.4 540.2L1558.2 513.8L1559 483.4L1559.8 472.8L1560.5 491.1L1561.3 531.9L1562.1 570.9L1562.8 589L1563.7 581.5L1564.5 561.3L1565.3 538.2L1566.1 516.4L1566.9 509.3L1567.8 517.4L1568.6 529.4L1569.4 535L1570.3 526.7L1571.2 510.1L1572.1 501.1L1572.9 511.8L1573.7 537.4L1574.5 570.3L1575.4 599.4L1576.2 608.5L1577 595.1L1577.7 567L1578.5 540.9L1579.3 527.8L1580.1 527.2L1580.9 528.5L1581.7 528.8L1582.5 525.6L1583.4 519.5L1584.2 510.6L1585 500.8L1585.8 499.1L1586.6 505L1587.3 519.9L1588 536.8L1588.7 555.2L1589.4 570.3L1590.1 575.4L1590.9 570.8L1591.6 560.3L1592.4 545.1L1593.2 526.4L1593.9 514.5L1594.7 511.4L1595 520.2L1595.3 535.1L1595.7 541.1L1596.4 531L1597.1 512.2L1597.7 502.1L1598.5 505.5L1599.3 518.5L1600.1 537.5L1600.9 551.7L1601.7 563.2L1602.5 568.3L1603.2 565L1603.9 556.6L1604.6 547.2L1605.3 533.6L1606 519L1606.7 511.6L1607.4 509.3L1608.1 511.7L1608.8 518.7L1609.5 530.6L1610.2 542.1L1610.9 553.6L1611.6 568.6L1612.3 580.9L1613.1 586.6L1613.8 588.8L1614.6 579.3L1615.4 553.3L1616.2 522.6L1617 499.3L1617.9 488.4L1618.7 493L1619.5 509.1L1620.3 515.5L1621 510.8L1621.7 500.9L1622.4 497.4L1623.2 506.6L1624 530L1624.8 560.5L1625.7 583.6L1626.5 592.5L1627.2 590.1L1628 584.9L1628.7 573.6L1629.5 557.7L1630.2 543.6L1631 530.7L1631.7 514.2L1632.5 498.5L1633.2 488.9L1634 483.2L1634.7 480.6L1635.6 502L1636.5 546.2L1637.4 567.8L1638 563.2L1638.5 556.3L1639.1 551.2L1639.7 554.6L1640.3 560.2L1640.9 565.8L1641.6 561.5L1642.3 546.6L1643.1 522.7L1643.8 499.9L1644.5 479.7L1645.3 464.2L1646 459L1646.8 483.2L1647.5 537.4L1648.3 594.9L1649.1 619.2L1649.8 616.4L1650.5 606.5L1651.2 593.1L1651.9 575.5L1652.6 554.1L1653.3 534.4L1654 514.8L1654.8 494.3L1655.5 479.9L1656.2 472.5L1656.9 469.3L1657.6 473.2L1658.3 484.9L1659.1 502.5L1659.8 521.9L1660.5 545.3L1661.3 569.6L1662 586.4L1662.7 596.3L1663.4 600.7L1664.2 591.4L1665 565L1665.7 529.7L1666.5 495.9L1667.2 468.9L1668 459L1668.7 460.8L1669.4 468.7L1670.1 479.9L1670.8 492.3L1671.5 508L1672.2 526.1L1672.9 543L1673.6 558.3L1674.3 573.4L1675 585.1L1675.7 590.9L1676.4 592.9L1677.3 576.5L1678.1 541.4L1679 502.5L1679.9 486.7L1680.6 489.9L1681.4 497.6L1682.2 510.3L1683 528.2L1683.7 543L1684.5 553.2L1685.3 562.6L1686 566.2L1686.8 563.4L1687.5 554.5L1688.2 542.1L1689 524.9L1689.7 506.7L1690.4 493.3L1691.1 480.6L1691.9 470.1L1692.6 467.6L1693.5 496L1694.4 549.7L1695.3 577.1L1696 572.5L1696.8 559.3L1697.6 550.4L1698.4 545.3L1699.2 552.3L1700.1 569.9L1701 579.1L1701.8 568.3L1702.6 540.3L1703.4 505.4L1704.3 476.6L1705.1 466.6L1705.9 484.9L1706.6 523.2L1707.4 565L1708.2 583.2L1708.9 573L1709.7 543.7L1710.5 517.9L1711.2 507.3L1712 513.4L1712.8 527.6L1713.6 542.6L1714.3 548.3L1715.1 539.3L1715.9 521.2L1716.6 501.4L1717.4 491.9L1718.2 501L1719 530.9L1719.9 564.7L1720.7 589.4L1721.5 600.7L1722.3 593.1L1723.1 570.8L1723.9 540.6L1724.7 511.4L1725.4 488.3L1726.2 480.6L1727.1 492.6L1727.9 515.5L1728.7 524.7L1729.6 521.9L1730.5 519.1L1731.4 516.5L1732.2 527.2L1733.1 549.6L1734 570.8L1734.9 582.2L1735.6 578.1L1736.4 564.4L1737.2 552.8L1737.9 547.2L1738.7 547.4L1739.5 553.7L1740.2 559.4L1741 559.6L1741.8 551.4L1742.5 531.5L1743.2 504.6L1744 485L1744.7 477.5L1745.6 491.7L1746.5 523.6L1747.3 559.2L1748.2 573L1749 568.3L1749.7 558.4L1750.5 544.6L1751.3 540.1L1751.8 554.5L1752.4 586.4L1752.9 600.1L1753.7 592.7L1754.4 572.9L1755.2 546.9L1755.9 519.4L1756.7 500.2L1757.4 493.3L1758.2 502.1L1759 518.9L1759.8 539.2L1760.5 548.3L1761.3 544.8L1762.1 531L1762.8 520.3L1763.6 516.5L1764.5 529.1L1765.4 553.3L1766.3 565.8L1767.1 555.2L1768 531.8L1768.9 509.3L1769.8 498L1770.7 511L1771.5 543.7L1772.4 556.6L1773.3 552.2L1774.2 547.3L1775.1 540.5L1775.9 537L1776.7 540L1777.5 545.6L1778.2 552.1L1779 555.5L1779.8 552.2L1780.5 539L1781.3 525.9L1782 513.6L1782.8 501.3L1783.5 497.4L1784.4 513.5L1785.3 544.4L1786.2 561.3L1787 557.8L1787.7 544.4L1788.5 535.7L1789.3 531.9L1789.8 542.9L1790.4 562.2L1790.9 573L1791.6 570.2L1792.3 561.2L1793 549.7L1793.7 539.3L1794.4 527L1795.1 516.9L1795.8 514.9L1796.7 527.2L1797.6 548.8L1798.5 559.6L1799.3 553L1800.1 534.8L1800.8 518L1801.6 512L1802.4 518.7L1803.1 528.8L1803.9 541.1L1804.7 547.7L1805.5 546.8L1806.3 542.1L1807.1 537.9L1808 533.6L1808.8 531.9L1809.6 539.9L1810.4 559.1L1811.2 565.4L1812 551.6L1812.8 522.4L1813.6 493.4L1814.3 480.6L1815.1 487.7L1815.8 506.9L1816.5 527.2L1817.3 544.1L1818 552.4L1818.8 551.8L1819.6 545.3L1820.3 539.7L1821.1 538.1L1821.9 549.3L1822.7 574.8L1823.6 587.4L1824.4 570.5L1825.2 529.1L1826 491.4L1826.9 474.4L1827.6 478.6L1828.4 490.9L1829.2 504.9L1830 523.2L1830.8 542.8L1831.6 552.8L1832.4 556.6L1833.1 551.3L1833.8 541.2L1834.4 536L1835.3 538.2L1836.2 539.5L1837 540.2L1837.9 530L1838.7 508.9L1839.6 496.4L1840.3 498L1841 504.1L1841.7 512.6L1842.5 523.6L1843.2 537.5L1843.9 551L1844.6 563.9L1845.3 578.5L1846 591.3L1846.8 598.7L1847.5 603.3L1848.2 605.8L1848.9 593.5L1849.7 557.2L1850.4 510L1851.2 475.1L1851.9 462.1L1852.7 474L1853.5 502.8L1854.4 540.6L1855.2 570.8L1856 582.2L1856.8 577.9L1857.5 566.1L1858.3 552.1L1859.1 548.3L1859.4 557.1L1859.8 575.3L1860.1 582.2L1860.9 575.4L1861.7 554.8L1862.5 531.3L1863.3 506.4L1864.1 486.7L1864.8 480L1865.6 484.3L1866.4 494.9L1867.2 514.4L1868 535.7L1868.8 550.3L1869.6 562.5L1870.4 567.4L1870.7 561.2L1871.1 548.1L1871.4 542.2L1872.1 548L1872.8 558.4L1873.5 561.7L1874.3 539.9L1875.1 502.3L1875.9 481.2L1876.7 495.2L1877.5 523.7L1878.3 536.5L1879.1 533.6L1879.9 533.7L1880.6 530.9L1881.3 541.9L1882 565.5L1882.7 577.1L1883.4 572.1L1884.1 559.8L1884.9 543.7L1885.6 521.2L1886.3 496.5L1887 478.3L1887.7 467.1L1888.5 462.5L1889.2 468.1L1890 485.3L1890.8 507.6L1891.6 530.8L1892.4 555.5L1893.2 573.1L1894 577.7L1894.7 572.4L1895.4 564.8L1896 561.7L1896.6 570.4L1897.1 586.6L1897.7 595.2L1898.4 588.5L1899.1 568.4L1899.8 537.6L1900.5 506.2L1901.2 479.9L1901.9 459.5L1902.6 451.4L1903.3 454.1L1904 464.9L1904.7 481.4L1905.5 500.1L1906.2 522.4L1906.9 546.9L1907.6 568.9L1908.3 588.8L1909 605.7L1909.7 615.2L1910.4 618.2L1911.2 602.2L1911.9 565.8L1912.6 516.9L1913.4 475.8L1914.1 461.7L1914.9 468.4L1915.7 486.2L1916.5 514.1L1917.3 542.3L1918.1 566.9L1918.9 587.4L1919.7 593.5L1920.4 588.8L1921.1 576.2L1921.8 559.8L1922.5 538.1L1923.3 516.5L1924 499.2L1924.7 486.2L1925.4 482.2L1926.2 495.5L1927.1 520.3L1927.9 530.9L1928.6 527.8L1929.2 526.4L1929.9 523.7L1930.8 538.2L1931.7 568.7L1932.6 583.2L1933.3 581.6L1934 578.6L1934.8 572.8L1935.5 562.2L1936.2 551.1L1936.9 543.1L1937.6 534.4L1938.3 523L1939.1 513.6L1939.8 507.8L1940.5 504L1941.2 502.5L1942 507.2L1942.9 520.4L1943.7 532.7L1944.5 543.4L1945.3 549.4" fill="none" stroke="#228b22" stroke-width="3.6" stroke-linejoin="round" stroke-linecap="round"/>
<path d="M104.0 448.9H1948.0M104.0 622.2H1948.0" fill="none" stroke="#ff0000" stroke-width="1.7"/>
<text x="93.3" y="416.9" text-anchor="end">-30</text>
<text x="93.3" y="460.2" text-anchor="end">-20</text>
<text x="93.3" y="503.6" text-anchor="end">-10</text>
<text x="93.3" y="546.9" text-anchor="end">0</text>
<text x="93.3" y="590.3" text-anchor="end">10</text>
<text x="93.3" y="633.6" text-anchor="end">20</text>
<text x="93.3" y="677" text-anchor="end">30</text>
<text x="303.9" y="706.8" text-anchor="middle">08/08</text>
<text x="548.8" y="706.8" text-anchor="middle">08/28</text>
<text x="793.7" y="706.8" text-anchor="middle">09/17</text>
<text x="1038.6" y="706.8" text-anchor="middle">10/07</text>
<text x="1283.5" y="706.8" text-anchor="middle">10/27</text>
<text x="1528.4" y="706.8" text-anchor="middle">11/16</text>
<text x="1773.3" y="706.8" text-anchor="middle">12/06</text>
<text class="L" x="1026" y="748" text-anchor="middle">(b)</text>
<text class="L" transform="translate(34.6 535.8) rotate(-90)" text-anchor="middle">Amplitude (m)</text>
</g>
<g id="panel-c">
<rect x="105.0" y="795.2" width="1842.0" height="260" fill="none" stroke="#262626" stroke-width="2"/>
<path d="M304.8 1055.2v-19.5M304.8 795.2v19.5M549.7 1055.2v-19.5M549.7 795.2v19.5M794.6 1055.2v-19.5M794.6 795.2v19.5M1039.5 1055.2v-19.5M1039.5 795.2v19.5M1284.4 1055.2v-19.5M1284.4 795.2v19.5M1529.3 1055.2v-19.5M1529.3 795.2v19.5M1774.2 1055.2v-19.5M1774.2 795.2v19.5M105.0 795.2h19.5M1947.0 795.2h-19.5M105.0 827.7h19.5M1947.0 827.7h-19.5M105.0 860.2h19.5M1947.0 860.2h-19.5M105.0 892.7h19.5M1947.0 892.7h-19.5M105.0 925.2h19.5M1947.0 925.2h-19.5M105.0 957.7h19.5M1947.0 957.7h-19.5M105.0 990.2h19.5M1947.0 990.2h-19.5M105.0 1022.7h19.5M1947.0 1022.7h-19.5M105.0 1055.2h19.5M1947.0 1055.2h-19.5" stroke="#262626" stroke-width="2" fill="none"/>
<path d="M105 910.2L105.9 869.4L106.6 905.7L107.4 877.3L108.1 904.6L108.8 879.4L109.6 905.2L110.3 875.8L111.1 907L112 879.9L112.6 911.1L113.4 877.8L114.3 916.4L115 876.7L115.8 908.6L116.6 881.5L117.3 907.4L118.2 880.3L119 908.5L119.7 882.6L120.4 910.7L121.1 882.9L121.8 905.3L122.5 881.5L123.4 905.2L124.2 883L124.9 908.6L125.7 883.2L126.4 908.2L127.3 878.6L128 905.1L128.9 882L129.9 903.4L130.8 883.7L131.6 903.3L132.5 881.4L133.4 907.6L134.4 882.9L135.3 907.2L136.1 876.8L136.8 904.1L137.5 883.6L138.2 911L139.2 884.4L139.8 905.7L140.5 883.5L141.4 904.8L142.2 878.8L143 905.2L143.9 879.8L144.8 908L145.6 881.1L146.5 907.7L147.2 883.2L148 909.8L148.8 881.7L149.7 905.7L150.6 882.4L151.4 910.7L152.1 874.1L152.8 906.7L153.6 882L154.4 905.8L155.2 878.2L155.8 905.1L156.7 881.4L157.6 904.4L158.5 881.1L159.3 904.6L159.9 877.2L160.7 906.4L161.5 878.7L162.4 903.7L163.3 880.4L164.2 908L165 875.1L165.9 904.5L166.6 879.9L167.3 902.8L168.3 879.8L169.1 903.1L170 879L170.8 902.7L171.5 880L172.2 902.7L173.1 878.7L173.8 903.2L174.5 878L175.3 907L176 872.6L176.7 909.3L177.5 879.3L178.4 902.7L179.2 878.6L180.1 902.5L181 877.2L181.8 902.7L182.5 866.4L183.4 903.2L184.3 865.3L185 904L185.8 876L186.7 905.7L187.6 872.7L188.5 911L189.3 872.1L190 906.5L190.7 865.4L191.4 908L192.2 872.1L193 915L193.8 875.2L194.6 913.6L195.5 875.6L196.5 921.5L197.4 876.2L198.2 916.6L199.1 876.4L199.8 915.8L200.7 874.6L201.4 911.7L202.1 876.4L202.9 918.1L203.7 875.9L204.4 911.2L205.3 875.5L206 918.1L206.8 862.8L207.6 914L208.4 873.3L209.3 923.2L210.2 875.2L210.8 918.6L211.6 875.4L212.3 910.8L213 861.5L213.9 915.5L214.7 875.6L215.4 913.6L216.1 872.8L216.9 912.5L217.6 875.6L218.4 910.3L219.2 875.1L220.1 915.2L220.9 873.2L221.6 910.2L222.6 874.9L223.3 910.8L224.1 867.2L224.8 919.7L225.5 867L226.3 917.4L227 869.6L227.9 912L228.6 861.5L229.6 908.3L230.5 874.5L231.1 913.6L232 859.2L232.8 909.2L233.6 871.2L234.5 910.4L235.4 873.9L236.3 911.5L237 864.8L237.7 907.4L238.3 870.4L239 916.9L239.7 867.5L240.6 908.9L241.4 869.3L242.2 906.9L243.1 877.2L243.9 908.1L244.9 877.9L245.8 906.5L246.5 876.3L247.4 912.1L248.1 874.7L249 906.3L249.6 878.3L250.6 908.4L251.4 879L252.3 907.4L253.1 878L254 910.8L254.9 880L255.8 911L256.6 869.8L257.6 905.6L258.4 879.5L259.1 906.6L260 874.7L260.7 905.5L261.5 871.6L262.2 905.3L263.1 879.6L263.7 907L264.7 874.2L265.6 905.3L266.4 876.7L267.3 906.4L267.9 869.8L268.6 909.7L269.4 873.9L270.2 906.1L270.9 878.2L271.8 907.1L272.7 878.8L273.6 906.8L274.5 868.7L275.1 913.6L276 875.7L276.7 911.4L277.6 877.1L278.5 916.8L279.4 870.8L280.1 907.9L280.9 878.9L281.8 910.4L282.7 878.2L283.6 908.3L284.5 878.8L285.2 908L285.9 881.3L286.7 907.9L287.4 880.4L288.1 916.2L289 879L289.9 907.9L290.6 880L291.3 918L292.1 875.6L292.8 907.6L293.6 879.6L294.4 915.8L295.3 880L296.3 916.8L296.9 879.5L297.8 910.6L298.6 881.6L299.4 912.4L300.1 882.6L300.8 910.8L301.5 883L302.2 905.8L302.9 877.3L303.7 905.4L304.5 882.9L305.4 908.8L306.1 879.8L307 910.8L307.9 876.8L308.7 905.5L309.5 879.4L310.4 909L311.3 878.5L312.2 907.9L312.8 882.5L313.7 912.7L314.6 882.8L315.3 912.3L316.2 883.4L316.8 912.6L317.6 883.3L318.6 908.5L319.5 878.6L320.2 908.4L320.9 881.2L321.7 912.5L322.4 882.9L323.1 907.7L323.9 874.6L324.8 908.2L325.7 882.6L326.4 911.5L327.2 882.5L327.8 908.9L328.5 875.3L329.2 910.7L329.9 879L330.5 909.3L331.4 882.3L332.2 909L333 879.8L333.6 916L334.4 877.4L335.1 908.4L335.8 881.6L336.5 908.3L337.1 875L337.9 909.6L338.8 875.5L339.4 908.1L340.3 880.9L341.1 910.7L342 880.6L342.7 908.2L343.6 880.3L344.4 917.3L345.3 876.8L346.2 914.2L347.1 878.2L347.7 913.4L348.7 874.1L349.4 918.6L350.2 877.1L351.1 908.7L351.8 865.2L352.5 916.5L353.3 872.8L354.1 917.9L354.8 874.5L355.6 909.6L356.4 873.5L357.1 912L357.7 872.5L358.5 910L359.4 861L360.1 917L360.7 868.5L361.4 915.9L362.3 875.5L363 911.3L364 869.9L364.6 920.5L365.5 865.4L366.5 910.9L367.3 878.6L368 912.8L368.8 878L369.5 912.1L370.4 875.1L371.3 915.7L372 869.9L372.9 917.9L373.6 874.6L374.3 912.1L375.1 863.1L376.1 911.3L377 866L377.9 915L378.6 864.6L379.3 913.2L380.1 863.5L380.9 910.9L381.6 874.4L382.5 917.1L383.3 873.8L384.1 910.9L384.9 872.5L385.6 915.1L386.3 871.8L387.2 921.8L387.8 871.1L388.6 911.2L389.4 859.8L390.1 915.6L390.8 866.5L391.6 913.5L392.3 864.6L393.1 916.9L393.9 866.2L394.9 910.7L395.5 865.7L396.4 910.5L397.3 863.7L398 913.6L398.7 863.6L399.6 915.4L400.4 853L401.2 917.2L402 872.1L402.8 916L403.7 877L404.5 910.7L405.2 876.8L406.1 910.3L406.8 876L407.7 913.3L408.3 861L409.3 915.4L410.2 868.5L410.8 910.3L411.6 873.4L412.4 912.5L413.2 865.1L413.9 910.1L414.5 871.7L415.5 911.2L416.3 858.8L417.2 910.2L418.1 871.6L418.9 917.9L419.8 871L420.7 914.7L421.5 871.4L422.4 912.7L423.3 869.4L424.3 913.6L425 868.4L425.7 911.9L426.4 852.3L427.2 914.8L428.1 871.1L428.9 909L429.7 870.6L430.5 910.3L431.2 867.1L432 910.3L432.8 859.7L433.6 911.9L434.4 871.1L435.2 912L436 872.6L436.7 908.3L437.4 872.4L438.1 909.3L438.8 873.5L439.6 908.4L440.3 872.4L441.2 908L441.9 873.5L442.8 910.7L443.6 860.4L444.4 914L445.3 876.1L446 913.1L446.8 865.7L447.5 916.4L448.3 876.3L449.2 908.6L450 877.5L450.9 906.6L451.6 877.8L452.3 906.5L452.9 876.7L453.7 905.9L454.4 877.9L455.2 906.9L455.9 878.3L456.8 913.2L457.6 874.9L458.4 904.7L459.2 878.5L459.9 905L460.6 878.7L461.5 907.5L462.3 866.2L463 908.9L463.8 870.2L464.6 909.5L465.2 878.7L466 908.1L466.9 879.5L467.7 904.3L468.3 879.7L469 904.6L469.8 871L470.6 908.2L471.4 879.6L472.1 904.7L472.8 879.8L473.7 904.7L474.5 879.9L475.4 904.8L476.2 875.8L477 904.9L477.9 880.1L478.9 909.9L479.8 872.7L480.6 907.3L481.3 878.1L482.1 910.7L482.8 878.4L483.5 905.1L484.4 879.9L485.2 913.7L486.1 880.3L486.9 906.1L487.7 880.2L488.4 912.7L489.3 878.7L490.1 908.9L490.8 875.5L491.6 905.1L492.4 870.7L493.3 911.7L494.1 879.5L494.8 908.6L495.6 882.1L496.6 906.2L497.3 878.3L497.9 905.3L498.7 883.5L499.5 905.8L500.3 881.8L501.2 905.3L501.9 883.4L502.6 906.5L503.5 882.8L504.4 906L505.3 876.3L506.3 908.3L506.9 881.4L507.7 909.8L508.7 873.8L509.3 907L510.2 880.4L511 908.8L511.8 880.6L512.7 908L513.5 881.6L514.2 908.1L515.1 882.1L515.8 914.5L516.7 882.4L517.6 915.2L518.4 881.4L519.3 909.8L520 883.8L520.8 911.4L521.6 882.6L522.2 910.1L523 880.8L523.8 916.7L524.6 875.4L525.4 909.8L526.3 869.9L526.9 909.9L527.8 868.7L528.5 910.1L529.3 869.7L530.2 909.2L530.9 855.6L531.6 909L532.5 868.1L533.3 909.8L534 868.9L534.7 909.5L535.6 872.6L536.4 908.8L537.1 871.9L538 908.1L538.6 875.7L539.3 910.2L540 875.8L540.8 917.7L541.5 877.6L542.3 910.7L543 876.8L543.9 909.2L544.5 867L545.2 907.9L546 874L546.9 907.7L547.8 874.3L548.5 911.3L549.3 873.5L550 907.7L550.8 872.7L551.8 907.6L552.6 861.7L553.4 913.5L554.1 861.7L554.9 914.3L555.8 861.4L556.7 907.8L557.4 872.1L558.3 909.1L559.1 871.9L559.7 916.2L560.5 871.6L561.3 915.1L562.1 873.8L563 907.9L563.9 874.2L564.7 908.2L565.5 878.4L566.1 914.8L567 871.2L567.9 909.5L568.8 879.9L569.5 910.2L570.4 879.4L571 919L571.7 873.8L572.5 920.3L573.4 876.9L574.2 914L574.9 877.5L575.9 912.1L576.8 874.6L577.4 910.4L578.2 862.1L579.1 911L579.8 860.7L580.6 911.2L581.5 874.7L582.3 910.7L583.1 874.8L583.7 916.2L584.5 875.3L585.3 919.6L586.1 875.6L586.9 919.7L587.7 874.9L588.5 910.9L589.5 876.7L590.2 911.8L591.1 871.2L591.9 910.2L592.8 867.7L593.5 910.3L594.2 878.5L594.9 911.9L595.8 877.9L596.6 914.5L597.5 866.8L598.3 912L599 877.8L599.7 921.9L600.6 877.4L601.3 911.5L602.2 862.6L602.9 915.1L603.7 864.4L604.5 916.6L605.3 869.4L606.2 911.6L607 870.7L607.8 913.4L608.6 872.6L609.4 911.3L610.1 874.3L610.8 910.5L611.5 873.5L612.4 911.1L613.4 868.8L614.3 913.6L615.2 865.2L615.9 910L616.9 873.4L617.7 920.5L618.7 872.1L619.4 912.2L620.3 874.7L621.2 909.5L621.9 865.5L622.9 917L623.8 874.3L624.5 910.5L625.4 875.9L626.1 910.3L626.8 873.8L627.4 910.9L628.1 876.6L628.9 913.7L629.8 870.9L630.7 909.3L631.5 875.5L632.5 914.9L633.1 873.7L634 915.6L634.9 876.9L635.7 907.7L636.4 867.5L637.3 913.4L638 870.3L638.7 908.4L639.4 876L640.4 906.9L641.3 871.3L642.3 907.3L643.2 872.7L644 908.9L644.7 871.3L645.4 907L646.3 874.9L647.2 907.8L648.2 875.3L649.1 908.8L649.9 876.4L650.6 909.2L651.6 866.5L652.3 920.4L653.3 877.8L654.1 910.4L654.9 878.2L655.6 913.5L656.3 878.7L657 911.7L657.9 879.5L658.8 911.1L659.5 879.6L660.3 911.2L661 874.7L661.9 910.7L662.8 878.9L663.6 910.8L664.5 877L665.3 909.9L666 878.9L666.9 919.3L667.7 878.9L668.4 919.1L669 878L669.7 910.5L670.5 866.1L671.4 910L672.3 875.4L673.1 913L673.8 879.3L674.7 908.9L675.5 877.3L676.4 906.9L677.1 879.8L678 907.5L678.9 875.4L679.7 909.4L680.6 879.5L681.4 906L682.2 881L683 909.8L683.7 880.8L684.5 904.1L685.4 877.5L686.1 905.7L686.8 880.2L687.5 907.3L688.3 876.4L688.9 907.5L689.7 876.1L690.4 912L691.2 878.3L691.9 913.7L692.5 875.2L693.3 909.1L694.2 876.9L694.9 909.6L695.7 876.2L696.3 914.4L697.3 875.3L698.1 922.6L698.8 874.6L699.6 910.9L700.4 864L701.3 911L702.2 872.2L702.9 911.1L703.8 874.3L704.6 911.1L705.3 864.2L706 912L706.8 873.2L707.5 918.5L708.4 874.6L709.2 911.5L710 873.1L710.8 914.4L711.6 873.4L712.4 914.7L713.2 860.4L713.9 913.2L714.7 875.1L715.5 911.6L716.3 868.9L717 912.8L717.7 872.8L718.7 921L719.4 872.5L720.1 920.8L721.1 872.3L721.9 912.3L722.6 866.2L723.5 912.1L724.4 867.7L725.1 915.8L725.8 870.8L726.7 911.5L727.3 871.3L728.2 911.6L729 868.4L729.7 912.2L730.6 863.6L731.5 914.8L732.1 872.6L732.9 911.4L733.6 869.1L734.5 914.5L735.3 862.7L736 911.8L736.7 872.6L737.7 912.7L738.6 869.9L739.4 914.6L740 869L740.8 913L741.5 864.3L742.4 911.4L743.2 867.8L743.9 911.5L744.8 868L745.6 911.9L746.5 864.8L747.2 911.6L747.9 852.9L748.6 911.6L749.4 865.7L750.3 919.5L751 858.8L751.9 920.8L752.8 862.9L753.7 916.2L754.6 867L755.4 912.4L756.4 857.4L757.1 913.6L758.1 862L758.8 913L759.4 869.8L760.3 911.5L761.2 860.7L762.1 912.5L762.8 867.9L763.6 917.4L764.5 868.8L765.3 916.7L766 856.7L767 911.9L767.8 868L768.7 923.2L769.6 866.5L770.5 911.4L771.3 866.2L772.1 911.7L772.8 848.6L773.7 913.5L774.4 861.6L775.1 913.7L775.9 841.2L776.7 911.7L777.4 843.5L778.3 912L779 854.2L779.9 914.2L780.6 864.7L781.3 911.5L782.2 854.6L783 915.3L783.8 871.9L784.6 917.3L785.5 874.4L786.3 911.3L787.2 866.7L788.2 913.1L789 878L789.6 908.9L790.5 876.9L791.1 916L792 876.6L792.7 907.9L793.5 881L794.3 909.8L795.2 882.2L796.1 906.4L797 880L797.6 906.2L798.5 868.7L799.2 905.3L800.1 874.9L800.9 904.8L801.7 865.3L802.6 904.5L803.5 875L804.2 906.5L804.9 869.5L805.8 903.2L806.7 883L807.4 903.5L808.2 886L808.9 905.9L809.6 876.6L810.4 904.9L811.1 879L812 903.2L812.8 869.7L813.6 903.3L814.3 860.5L815.2 903.7L816.1 846.1L816.8 904.6L817.7 863.3L818.5 907.8L819.2 872.1L820 904.3L820.8 875.3L821.7 906.5L822.5 875.6L823.4 905.2L824.1 882.2L824.8 912.4L825.7 879.6L826.5 905.5L827.3 880.9L828.2 905.7L828.8 869.7L829.7 905.2L830.4 878.4L831.2 905.4L831.9 873.9L832.8 906L833.7 876.5L834.3 905.9L835 866.9L835.8 913.3L836.6 868.1L837.6 909L838.4 870.3L839.3 907.3L840.1 879.2L841 906.8L842 877.8L842.9 909.8L843.7 881.5L844.5 907.3L845.4 884.1L846.1 907.9L847 885.2L847.7 908.7L848.4 887L849.3 905.1L850.2 887.1L851.1 901.7L852 886.3L852.7 901.7L853.5 879.4L854.2 902.2L855.1 884.8L856 899.9L856.9 884L857.7 901.9L858.6 883.2L859.3 901.2L860.2 882.5L861 903.6L861.7 875.4L862.5 903.1L863.4 881.4L864.2 905.2L865 879.8L865.8 909.5L866.7 880.3L867.5 904.3L868.2 880.1L869 907.9L869.6 879.5L870.6 905.2L871.3 880L872.1 913.1L872.8 879.5L873.6 910.8L874.6 872.2L875.3 906.1L875.9 880.5L876.7 906.8L877.5 870.8L878.2 914.9L879.1 880.4L879.9 906.4L880.6 877.4L881.3 909.5L882 877.2L882.8 909L883.5 871.7L884.3 907.4L885.2 878.3L886 907.3L887 877.2L887.6 914.8L888.5 872.8L889.2 908.4L890 875.2L890.9 910.2L891.6 872.9L892.4 914.3L893.2 865.4L894.1 910.6L894.8 858.4L895.5 912.8L896.4 874.6L897.1 916.6L898 874.6L898.7 914.1L899.5 864.3L900.3 911.5L901.2 874.1L901.9 911.5L902.6 875.7L903.3 913.3L904 876.3L904.9 911.5L905.8 877.2L906.5 911.5L907.3 876.5L908.2 912.6L909.1 878.7L909.9 911.4L910.7 869L911.4 911.4L912.4 876.4L913.2 911.5L914 864.6L914.7 922L915.6 872L916.3 912.3L917.1 856.2L917.8 920.4L918.7 867.8L919.5 911.7L920.3 854.1L921 911.5L921.7 860.5L922.5 911.7L923.4 846.2L924.2 911.5L924.8 863.3L925.7 918.8L926.4 856.3L927.3 911.8L928.2 849.2L928.9 911.5L929.9 861.4L930.5 911.4L931.4 852.9L932.1 921.6L932.8 860.8L933.5 915.2L934.4 843L935.1 914.9L935.8 862.4L936.7 911.5L937.3 838.7L938 913L938.8 864.8L939.7 911.5L940.4 865.6L941.2 913.8L942.1 863.7L942.9 924.3L943.5 867L944.3 924.2L945.1 868L946 924.6L946.8 871.8L947.5 911.5L948.2 871L949.1 912.4L950 868.4L950.7 924.4L951.4 851.6L952 912.9L952.8 861L953.6 911.5L954.6 865L955.3 911.4L956 860.6L956.8 923.3L957.7 864.5L958.4 913.2L959.1 864.6L960 911.6L960.9 848.7L961.8 916.5L962.8 863.8L963.5 915.1L964.4 864.7L965.1 924.7L966 859.8L966.7 912.2L967.5 851.5L968.2 911.2L969.1 852.7L969.9 915.9L970.7 867.1L971.3 911.1L972.2 855.3L973.1 913.1L973.9 854.8L974.5 911L975.2 842.1L976 915.5L976.8 851.7L977.6 911.6L978.6 839.5L979.5 911.2L980.4 843.3L981.3 911.2L982.1 866.6L982.8 910.9L983.5 865.9L984.3 920.8L985.2 867.6L986 916.9L986.8 869.1L987.6 915.6L988.4 870.8L989.1 910.4L989.8 865.8L990.7 912.6L991.3 872.8L992 910.2L992.9 863.9L993.8 916.5L994.5 869.4L995.2 910L996.1 876.5L997 909.5L997.8 877.4L998.5 919.2L999.3 878.1L1000.1 916.2L1000.9 876.2L1001.8 915.6L1002.6 876.8L1003.3 907.7L1004.2 879.1L1005 907.3L1005.7 879.4L1006.5 907L1007.4 879.7L1008.4 909.3L1009.3 879.3L1009.9 906.1L1010.6 880.6L1011.3 905.8L1012.1 877.8L1012.8 905.9L1013.6 881.1L1014.5 904.9L1015.1 876.7L1016 906.3L1016.7 881.7L1017.5 904.3L1018.5 877.1L1019.4 903.6L1020.2 881.9L1020.8 904L1021.7 882.4L1022.4 902.8L1023.1 881.9L1024 905L1024.8 882.8L1025.5 906.8L1026.1 876.3L1027 902.1L1027.8 883.2L1028.7 901.7L1029.6 882.9L1030.5 907.1L1031.4 878.9L1032.2 901.5L1033 880.2L1033.8 905.8L1034.6 877.2L1035.3 901.4L1036.1 883.8L1036.9 901.1L1037.7 884L1038.5 900.5L1039.2 884.2L1040 901.6L1040.7 878.8L1041.4 899.7L1042 880.5L1042.7 899.5L1043.6 884.5L1044.3 900.4L1045.1 879.2L1045.8 901.1L1046.7 883L1047.6 900.3L1048.3 883.3L1049.2 901.1L1050 877.8L1050.9 905.9L1051.7 881L1052.5 901.2L1053.4 880.9L1054.4 901.6L1055.3 882.9L1056.2 902.6L1057.1 880.8L1057.8 907.5L1058.5 879.2L1059.4 908.4L1060.3 882.6L1061.2 910.6L1062.1 874L1062.9 913.1L1063.7 874.4L1064.5 911.1L1065.2 881.8L1065.9 910.4L1066.7 882.3L1067.3 921.5L1068 882L1068.9 909L1069.8 880.5L1070.5 908L1071.2 877.8L1072 907.2L1072.7 875.8L1073.4 906.9L1074.2 877.2L1075.1 909.3L1076.1 878.1L1076.9 906.5L1077.8 876.6L1078.7 905.8L1079.6 875.1L1080.5 905.7L1081.2 874.4L1082.1 907.6L1083 867.7L1083.8 907.1L1084.5 877.3L1085.4 908.1L1086.3 872.6L1087.1 916.6L1087.8 876.9L1088.8 909.6L1089.6 878.5L1090.3 911.7L1091.3 870.5L1092.2 911.1L1093 879L1093.7 916.9L1094.6 877L1095.4 912L1096.1 876.7L1097 916.6L1097.8 875.1L1098.7 911.6L1099.5 873.9L1100.5 917.4L1101.3 871.7L1102 911.5L1102.8 869.5L1103.6 913.6L1104.3 858.3L1105.1 911.5L1105.9 869.1L1106.7 912.7L1107.4 847.6L1108.2 912.2L1109.1 863.3L1109.7 913.3L1110.6 868.2L1111.3 915.2L1112.2 852.2L1112.9 912.1L1113.8 868.3L1114.5 911.5L1115.2 868.1L1115.9 913L1116.7 864L1117.5 911.9L1118.2 845.4L1119 911.5L1119.7 858.8L1120.4 922.7L1121.3 867L1122.2 923.7L1123.2 851.7L1124 922.1L1124.9 864.5L1125.6 911.4L1126.3 864.3L1127 911.4L1127.8 864.9L1128.7 911.5L1129.5 861.5L1130.3 918L1131.2 849.4L1131.9 911.9L1132.7 844.6L1133.5 911.9L1134.4 840.2L1135.1 923.6L1135.7 864.8L1136.4 919.8L1137.1 848.1L1138 911.1L1138.9 865.4L1139.9 920.5L1140.7 866.7L1141.3 911.2L1142 858.1L1142.8 912.1L1143.4 855.2L1144.2 911L1145 862.4L1145.8 916.7L1146.6 858L1147.5 912.3L1148.4 868.9L1149.2 914L1149.8 865.1L1150.7 923.2L1151.7 868.2L1152.5 910.7L1153.5 869.6L1154.3 911.9L1155.2 852.5L1156.2 922.6L1157.1 869.8L1157.8 912L1158.6 856.8L1159.5 915.9L1160.3 869.8L1161 915.9L1161.8 870.1L1162.6 912.8L1163.5 868.2L1164.2 922L1165 866.7L1165.9 910.2L1166.6 869.7L1167.5 910.2L1168.4 866.3L1169.2 915.4L1170.1 861L1170.8 918.5L1171.5 858.6L1172.3 918.5L1173 868.5L1173.9 910.8L1174.8 870.8L1175.6 910.4L1176.5 870.9L1177.4 910.5L1178.1 869.2L1178.8 910.9L1179.7 870.5L1180.5 910.6L1181.4 872.8L1182.2 910.6L1183.2 875.6L1184 911.6L1184.7 876.6L1185.4 917.7L1186.1 876.8L1187 911.1L1187.9 878.8L1188.7 911.2L1189.4 879.7L1190.2 910.9L1190.8 880L1191.5 910.6L1192.4 879.7L1193.3 916.5L1194.1 880L1195.1 909.1L1195.8 881.3L1196.6 919.7L1197.6 881.4L1198.4 908.2L1199.2 877.5L1199.9 918.2L1200.8 878.6L1201.5 906.7L1202.5 874.3L1203.3 906L1204 877.7L1204.7 906.2L1205.4 883.4L1206.3 910.2L1207.2 883.5L1207.9 903.5L1208.6 883.7L1209.2 902.9L1209.9 881.2L1210.8 907.9L1211.5 878.2L1212.4 905.9L1213.2 877.9L1214.1 902.5L1215 876.3L1216 905.7L1216.7 881.3L1217.6 905.2L1218.3 875.4L1219.2 906.5L1220.1 880.9L1220.9 907.9L1221.7 869.2L1222.4 907.8L1223.4 875.2L1224.1 913.2L1225 877.1L1225.8 910L1226.6 878.5L1227.5 910.5L1228.4 879.5L1229 909.3L1230 879.6L1230.8 909.2L1231.5 880.3L1232.4 909.7L1233.2 880L1234 914.2L1234.6 881.4L1235.3 913.9L1236 877.8L1236.7 910.7L1237.4 882.1L1238.1 907.5L1239 875.5L1239.9 908.6L1240.8 881.6L1241.6 906.2L1242.4 876.1L1243 908L1243.9 879.9L1244.6 915L1245.5 880.1L1246.2 908.3L1247 876L1247.8 907.5L1248.5 878.1L1249.4 909.3L1250.1 876.9L1250.8 908L1251.6 867.8L1252.5 917.6L1253.4 876.7L1254.1 916.8L1255 877.3L1255.7 909.1L1256.6 877.4L1257.3 919.7L1258 870.8L1258.9 910.3L1259.7 878.3L1260.4 915L1261.2 878.6L1262 915.8L1262.7 874.7L1263.5 910.8L1264.3 879.2L1265.2 913L1266.1 870.6L1266.9 910.2L1267.6 880L1268.3 910.4L1269.1 877.6L1269.9 921.1L1270.5 878.5L1271.5 920.5L1272.4 874.6L1273.3 918.9L1273.9 876.2L1274.7 920.9L1275.7 863.9L1276.5 911.3L1277.3 872.5L1277.9 911.3L1278.8 873.6L1279.6 923.1L1280.3 866.1L1281.2 916.2L1282.1 861.3L1282.9 911.6L1283.9 870.6L1284.7 922.4L1285.6 869.6L1286.3 911.5L1287.2 856.4L1288.1 912.1L1289 867.2L1289.8 911.5L1290.7 868.6L1291.6 911.7L1292.5 868.4L1293.4 922.1L1294.2 851.2L1295 913L1296 867.4L1296.6 918.3L1297.3 854.2L1298.2 919.8L1299.1 868.7L1299.9 916.4L1300.8 872.8L1301.5 912.2L1302.3 870.9L1303.1 913.3L1303.8 870.6L1304.4 911.6L1305.3 866.9L1306 911.2L1306.8 859.7L1307.7 917.6L1308.3 867.5L1309 915.3L1309.8 865.3L1310.5 911.1L1311.2 869.7L1311.9 921.6L1312.8 871.8L1313.7 914.8L1314.5 871.9L1315.2 917.8L1315.9 870.3L1316.6 911L1317.3 864.3L1317.9 919.2L1318.9 864.2L1319.6 914L1320.5 857.6L1321.3 914L1322.1 844.8L1322.7 920.6L1323.4 853.3L1324.2 914.2L1324.8 867.4L1325.6 911.1L1326.4 870.5L1327.3 916.4L1328.1 865.9L1328.9 913L1329.8 871L1330.5 910.4L1331.2 867.3L1331.9 911.5L1332.7 876.5L1333.4 913.6L1334.4 877L1335.3 911.1L1336 866.4L1336.7 917.5L1337.4 876.2L1338.2 919.8L1338.9 881.2L1339.7 910.6L1340.4 882.3L1341.3 910.9L1342.1 879.7L1343 912.9L1343.7 879.3L1344.5 923.8L1345.1 872.7L1345.9 918.9L1346.8 868.8L1347.4 911.9L1348.3 878.9L1349.2 915.4L1350.1 866.8L1350.7 908.8L1351.7 872.2L1352.5 906.5L1353.4 871.8L1354.2 911.1L1354.9 875.5L1355.8 902.8L1356.7 875L1357.6 901.4L1358.5 857.6L1359.4 900.7L1360.3 875L1361.2 901.3L1361.9 865.3L1362.8 904.3L1363.5 867L1364.4 905L1365.2 879.2L1366 904.2L1366.8 874.4L1367.6 905.3L1368.5 881.4L1369.3 904.2L1370.2 880.8L1371.1 904.8L1371.8 876L1372.6 906.4L1373.4 879.8L1374.1 906.3L1374.9 878.7L1375.7 904.9L1376.4 876.1L1377.2 911.6L1378 875.2L1378.8 904.3L1379.5 878.4L1380.2 904.6L1380.8 872.6L1381.7 905.7L1382.4 874.8L1383.2 903.7L1384 876.4L1384.9 902.4L1385.6 871.5L1386.4 901.9L1387.4 872.5L1388.1 901.6L1389 878.7L1389.7 903.5L1390.4 875.4L1391.2 900.8L1391.9 882.4L1392.7 898.7L1393.5 878.4L1394.2 897.8L1394.9 884.1L1395.7 901L1396.3 885.5L1397.2 900.9L1398 886.1L1398.9 901.4L1399.7 888.7L1400.6 904.1L1401.5 886.7L1402.3 904.7L1403 882.3L1403.8 905L1404.5 884.4L1405.5 910.3L1406.2 874.3L1407.1 906.3L1408 879.2L1408.7 905.5L1409.4 881.8L1410.3 913.7L1411.2 880.5L1412.1 911.8L1413.1 882.2L1413.9 905.4L1414.8 882.4L1415.6 905.2L1416.4 882.6L1417.3 906.2L1418.1 882.7L1418.8 905.1L1419.5 882.5L1420.2 907L1421.2 880.1L1422 907.1L1422.9 876.9L1423.8 907.3L1424.7 879.6L1425.4 909.9L1426.2 878.7L1427 916.1L1427.8 871.3L1428.7 909.2L1429.6 876.5L1430.5 920.4L1431.4 870.2L1432.1 910.2L1433 876.4L1433.7 911L1434.5 877.7L1435.3 913.4L1436.1 871.8L1436.8 912.2L1437.5 878.2L1438.4 921.7L1439.3 877.2L1440 910.4L1440.9 875.8L1441.7 914.2L1442.6 875.3L1443.4 910.6L1444.1 878.2L1444.9 910.5L1445.8 870.3L1446.5 910.6L1447.3 878.6L1448.2 912.6L1449 878.4L1449.7 910.9L1450.6 878L1451.3 914.8L1452.2 877.8L1453.1 922.8L1453.8 876.6L1454.7 910.8L1455.4 876.9L1456.2 914.8L1457.1 869.3L1458 910.9L1458.7 875.5L1459.4 910.9L1460.2 872.4L1460.9 924.1L1461.7 861.7L1462.6 911L1463.5 874.5L1464.1 911.9L1465 875L1465.9 916.2L1466.7 874.6L1467.6 914.1L1468.3 874.8L1469 911.3L1469.8 875.4L1470.8 913.4L1471.6 871.9L1472.3 915.5L1473.1 872.7L1473.7 913L1474.6 875.3L1475.4 920.8L1476.1 875L1476.9 911.3L1477.7 863.5L1478.5 911.9L1479.2 877L1480 911.9L1480.8 875.1L1481.7 918.7L1482.4 878.8L1483.2 912.5L1483.9 878.2L1484.6 914.4L1485.4 878.9L1486 911.5L1486.8 878.6L1487.8 911.5L1488.8 870.2L1489.5 912.7L1490.3 876.1L1491 912.1L1491.8 868L1492.7 921.3L1493.6 875.3L1494.4 912.1L1495.1 866.9L1495.8 911.8L1496.7 860.1L1497.5 922.4L1498.3 863.4L1499.1 917.7L1500 871.2L1500.9 911.6L1501.7 874.4L1502.4 912.9L1503.3 861.1L1504.1 914.5L1505 866L1505.7 911.5L1506.6 873.7L1507.3 916.6L1508.1 868.9L1508.8 912.5L1509.5 867.6L1510.2 924.3L1511 862L1511.8 923.5L1512.7 859.1L1513.5 919.1L1514.3 870.4L1515 911.6L1515.7 862.5L1516.6 911.5L1517.5 874.4L1518.3 912.1L1519 871.1L1519.9 911.5L1520.8 877L1521.6 911.5L1522.3 873L1523.1 915.7L1523.8 872L1524.6 918.6L1525.5 880.2L1526.3 913.3L1527.2 875.1L1528 923L1528.7 860L1529.5 911.5L1530.2 865.8L1530.9 911.7L1531.6 858.6L1532.5 911.7L1533.2 856.1L1534.1 911.5L1534.7 865.7L1535.4 915.3L1536.2 856L1537 920.1L1537.9 873.6L1538.6 914.3L1539.6 861L1540.4 914.5L1541.1 874.7L1541.9 916.9L1542.5 872.6L1543.4 911.7L1544.1 875.2L1545.1 921.2L1546 873.9L1546.8 910.5L1547.6 862.7L1548.3 912.1L1549.1 872.1L1549.9 907.7L1550.6 871.3L1551.4 916L1552.2 870L1552.9 914.8L1553.6 865.6L1554.4 906L1555.3 858.4L1556 904.8L1556.9 853.9L1557.8 905.5L1558.5 873.2L1559.4 907.9L1560.3 876.1L1561.1 905L1561.9 878.6L1562.7 905.4L1563.7 881.3L1564.4 906.9L1565.2 883.8L1565.9 907.8L1566.8 883.7L1567.7 911.6L1568.5 883.1L1569.3 905.7L1570 883.2L1570.7 905.3L1571.7 882.9L1572.5 905L1573.2 882.6L1573.9 909.9L1574.7 882.4L1575.4 908.8L1576.1 875.8L1576.9 910.8L1577.5 881L1578.2 909.3L1578.9 880.1L1579.7 904.7L1580.5 883.2L1581.2 906.2L1582.1 878.5L1582.9 909.1L1583.6 884.8L1584.6 904L1585.5 885.1L1586.3 904.3L1587.1 886.2L1587.8 903.7L1588.7 881.9L1589.5 903.3L1590.2 882L1590.8 903.7L1591.7 884.2L1592.7 906.1L1593.4 883.4L1594.3 909.5L1595 882.5L1596 904.3L1596.8 881.9L1597.4 903.8L1598.2 874.3L1598.9 910.5L1599.7 880.4L1600.6 908.9L1601.5 878.9L1602.5 905.5L1603.1 879.6L1603.9 905.8L1604.7 878.5L1605.5 904.5L1606.3 878.2L1607 911L1607.9 868.4L1608.5 906.2L1609.3 875.1L1610.2 908.9L1611 877.6L1611.8 909.6L1612.5 877.1L1613.2 908.5L1613.9 876.8L1614.7 915.1L1615.5 876.9L1616.4 914.6L1617.2 868.8L1618.1 923.8L1619 868.8L1619.6 913.9L1620.6 878.7L1621.5 914.8L1622.4 870.3L1623.3 909.4L1624.2 870.4L1625 907.6L1625.8 879.2L1626.6 908.8L1627.3 877.2L1628 910.6L1628.9 879.3L1629.9 911.8L1630.5 877.9L1631.5 911.4L1632.2 877.5L1632.9 911.8L1633.8 875.2L1634.7 912.5L1635.6 871.5L1636.5 912.9L1637.2 876.4L1638.1 921.2L1638.8 869.7L1639.7 915.6L1640.5 862.2L1641.2 912.3L1642 874.9L1642.8 911.5L1643.6 870.2L1644.5 914.6L1645.4 860.5L1646.1 911.7L1646.9 870.7L1647.8 917.3L1648.5 864.3L1649.3 917.2L1650 867.8L1650.7 911.5L1651.6 865.8L1652.5 922.7L1653.2 864.2L1653.9 913.8L1654.7 866.1L1655.6 911.4L1656.6 847.3L1657.4 919.4L1658.2 863.5L1658.9 915.1L1659.8 845.9L1660.6 913.9L1661.5 850.8L1662.3 912.5L1663.1 853.3L1663.9 922.2L1664.6 854.8L1665.3 911.4L1666 844.4L1666.9 915.2L1667.8 863.7L1668.5 923.8L1669.2 868.3L1670 911.6L1670.7 868.2L1671.6 922.5L1672.3 872.6L1673 915.1L1674 861.2L1674.7 920L1675.6 857.8L1676.3 918.3L1677 856.2L1677.8 913.9L1678.4 859L1679.3 911.9L1680.1 852.2L1681 919L1681.7 846.4L1682.5 914L1683.2 856L1683.9 911.6L1684.7 845.1L1685.4 913.4L1686.2 841.5L1686.9 914.2L1687.8 861.1L1688.6 911.7L1689.4 843.6L1690.2 922.2L1691.1 864.5L1692 912.3L1692.7 866.2L1693.7 918.1L1694.5 871.7L1695.2 911.4L1696 869.6L1696.7 913.3L1697.3 866.5L1698 911.6L1698.9 866.5L1699.7 913.7L1700.3 864.6L1701.1 912.9L1701.8 858.5L1702.6 911.7L1703.3 846.4L1704.1 911.6L1704.9 845.1L1705.6 916.2L1706.3 859.5L1707.2 917.6L1708 862.6L1708.9 913.4L1709.8 861.9L1710.6 911.8L1711.6 866.1L1712.3 912.1L1713.2 869L1714 919.3L1714.7 870.2L1715.6 915.7L1716.3 871.5L1717.3 912.2L1718 869.4L1718.7 923.8L1719.4 870.6L1720.3 911.5L1721.1 858.8L1721.8 913.4L1722.7 871.5L1723.5 914.2L1724.3 868.9L1725.2 914.8L1726.2 875.5L1726.8 918.1L1727.5 868.7L1728.4 924.7L1729.3 877.3L1730.2 910.1L1731.1 875.7L1732 910.1L1732.6 872.4L1733.4 904.9L1734.2 852.5L1735.1 904.6L1735.8 865.7L1736.7 905.1L1737.5 859.5L1738.4 906.1L1739.3 865.9L1740.1 908L1741 861.9L1741.8 904.5L1742.6 876.5L1743.4 908L1744.1 877.8L1744.8 909.2L1745.6 879.7L1746.5 904.8L1747.2 877.5L1747.9 906L1748.5 876.7L1749.4 908.5L1750.1 870L1750.8 907.9L1751.6 873.4L1752.4 910.7L1753.1 864.3L1753.8 907.7L1754.5 869.9L1755.2 908.4L1755.9 870.2L1756.8 910.9L1757.8 877.7L1758.6 908.5L1759.4 870.6L1760.3 909.5L1761.2 878.6L1762 909.2L1762.8 872.9L1763.7 909.3L1764.4 876.4L1765.1 913.1L1765.8 870.4L1766.6 911.6L1767.3 876.2L1768.1 919.9L1768.8 878.3L1769.6 921.9L1770.4 876.6L1771.1 911.3L1772 879.2L1772.8 911.1L1773.6 880.2L1774.4 911.8L1775 878.4L1775.7 910.1L1776.4 880L1777.3 909.1L1778.1 880.1L1778.8 906.5L1779.6 878.4L1780.4 912.8L1781.2 879.6L1782.1 903.9L1783.1 877.5L1784 907.7L1784.8 879L1785.7 913.3L1786.4 872.3L1787.1 914.4L1787.8 878L1788.6 911.5L1789.5 867.2L1790.4 911.5L1791.2 862.4L1792 912.6L1792.8 873.4L1793.5 911.7L1794.4 861L1795.1 913.3L1795.8 872.1L1796.6 918.2L1797.4 867.8L1798 920.5L1798.8 871L1799.6 912.4L1800.3 870.6L1801 912.2L1801.9 866.7L1802.8 914L1803.6 876.5L1804.5 918L1805.5 877.3L1806.3 921.5L1807 879.2L1807.7 911.7L1808.6 868.4L1809.3 920.7L1809.9 868L1810.9 911.7L1811.6 876.1L1812.5 919.9L1813.3 877.4L1814.2 913.3L1814.8 874L1815.5 913.3L1816.2 876.7L1816.9 911.4L1817.6 864.8L1818.4 916.2L1819.1 869.3L1820.1 911.5L1821 876.6L1821.8 921.9L1822.7 876.3L1823.5 911.5L1824.3 876.1L1825.1 922.3L1826 869.6L1826.9 911.5L1827.6 876.6L1828.3 922L1829.3 877.2L1830.2 912.8L1831.1 871.3L1831.9 911.6L1832.6 876.6L1833.5 915.3L1834.4 877L1835 912.1L1835.8 877.6L1836.7 914.9L1837.5 875.8L1838.1 919.6L1838.9 857.6L1839.8 916.9L1840.4 872.3L1841.3 911.6L1842.2 870.3L1842.8 911.7L1843.6 867.9L1844.3 911.5L1845.2 866.8L1846.1 912.9L1847 853.4L1847.8 911.5L1848.6 858.6L1849.3 911.4L1850 863.3L1850.7 911.5L1851.5 859.8L1852.4 914.7L1853.2 867.1L1854.1 911.5L1854.9 872.9L1855.7 913.1L1856.5 867.1L1857.4 921.7L1858.1 861.7L1858.8 911.4L1859.5 847.8L1860.1 911.5L1860.9 856.8L1861.6 911.5L1862.3 867.6L1863.2 914.8L1863.9 867.6L1864.8 915.6L1865.6 876.3L1866.5 913L1867.4 875.4L1868.2 911.5L1869.1 872.3L1869.8 911.5L1870.6 867.7L1871.3 911.4L1872.2 854.9L1873.1 911.4L1873.9 869.9L1874.6 918.6L1875.5 867.4L1876.2 912.4L1876.9 871.2L1877.8 915.6L1878.5 865.1L1879.3 914.8L1880 872.3L1881 910.3L1881.8 859.2L1882.5 912L1883.4 872.4L1884.3 913.7L1885.2 871.4L1886 904.6L1886.7 873.9L1887.6 904.5L1888.5 860.6L1889.2 902.7L1890.1 872.1L1891 903.7L1891.8 865.1L1892.6 906.3L1893.3 868.1L1894.1 905.3L1894.9 874L1895.5 907.1L1896.5 871.1L1897.4 910.3L1898.1 863.5L1898.9 906.7L1899.8 876.1L1900.8 907.2L1901.7 879.5L1902.4 908.2L1903.3 871.3L1904 911.6L1904.9 880.2L1905.8 908.7L1906.5 874.1L1907.3 914.7L1908 870.7L1908.8 908.8L1909.7 855.1L1910.5 908.1L1911.4 863.3L1912.1 907L1912.9 867.4L1913.6 908.9L1914.6 872.9L1915.3 904.4L1915.9 877.6L1916.7 905.6L1917.6 882.6L1918.5 910.7L1919.4 878.8L1920.3 909.4L1921 876.9L1921.9 914.6L1922.8 874.5L1923.6 911.9L1924.4 872.9L1925.2 918.4L1926.1 875.1L1927 914.1L1927.8 872.6L1928.7 924.1L1929.6 876.2L1930.5 907.9L1931.4 879.6L1932.1 906.1L1933 879.6L1933.8 905.5L1934.5 880.6L1935.2 904.9L1936.1 880.8L1936.8 908.5L1937.6 881.5L1938.4 908L1939 881.8L1940 904.2L1940.8 882.4L1941.6 903.3L1942.5 878.1L1943.4 902.9L1944.3 882.9L1945.2 903.5L1945.9 878.8L1946.6 902.6" fill="none" stroke="#b22222" stroke-width="2.6" stroke-linejoin="round"/>
<path d="M106.2 892.7V869.8M120.5 892.7V877M141.1 892.7V880.1M161.6 892.7V872.9M176 892.7V871.9M188.3 892.7V863.7M202.7 892.7V866.7M217 892.7V864.7M236.6 892.7V861.6M247.8 892.7V872.9M274.5 892.7V870.8M295.1 892.7V877M315.6 892.7V878M332 892.7V876M346.4 892.7V871.9M357.7 892.7V859.6M366.9 892.7V869.8M383.4 892.7V861.6M392.6 892.7V853.4M397.7 892.7V843.1M403.9 892.7V867.8M415.2 892.7V857.5M434.7 892.7V858.5M449.1 892.7V867.8M469.6 892.7V871.9M490.1 892.7V872.9M500 892.7V879.1M510.3 892.7V872.9M520.5 892.7V879.1M530.4 892.7V856.5M541.1 892.7V868.8M555 892.7V855.4M567.8 892.7V872.9M582.1 892.7V862.6M596.5 892.7V870.8M606.8 892.7V862.6M617 892.7V861.6M633.5 892.7V868.8M645.4 892.7V862.6M658.1 892.7V871.9M670.4 892.7V869.8M684.8 892.7V875M700.2 892.7V861.6M713.6 892.7V864.7M722.8 892.7V857.5M736.1 892.7V860.6M749.1 892.7V847.2M758.7 892.7V855.4M768 892.7V851.3M776.2 892.7V844.2M787.5 892.7V866.7M795.7 892.7V877M801.4 892.7V858.9M808 892.7V883.2M816.4 892.7V848.9M824.4 892.7V877M835.7 892.7V863.7M865.5 892.7V872.9M881.9 892.7V872.9M890.1 892.7V863.7M900 892.7V862.6M910.3 892.7V870.8M921.1 892.7V845.2M933.9 892.7V839M947.2 892.7V858.5M953 892.7V846.2M959.5 892.7V847.2M971.9 892.7V851.3M978 892.7V845.2M989.3 892.7V858.5M998.6 892.7V868.8M1009.9 892.7V872.9M1023.2 892.7V877M1043.7 892.7V880.1M1056.1 892.7V877M1068.4 892.7V876M1080.1 892.7V865.7M1093 892.7V870.8M1105.3 892.7V853.4M1117.7 892.7V851.3M1131 892.7V845.2M1138.2 892.7V846.2M1144.4 892.7V853.4M1156.7 892.7V854.4M1176.2 892.7V856.5M1189.5 892.7V871.9M1208 892.7V879.1M1226.5 892.7V870.8M1238.8 892.7V877M1253.2 892.7V866.7M1269.6 892.7V872.9M1283 892.7V856.5M1296.3 892.7V850.3M1300 892.7V860.6M1308.2 892.7V850.3M1314.4 892.7V860.6M1320.1 892.7V844.2M1330.8 892.7V863.7M1341.1 892.7V877M1359.1 892.7V861.6M1367.8 892.7V875M1378.6 892.7V868.8M1392.4 892.7V877M1406.8 892.7V875M1419.1 892.7V877M1429.4 892.7V866.7M1443.7 892.7V870.8M1454 892.7V867.8M1465.9 892.7V864.7M1475.2 892.7V864.7M1484.8 892.7V871.9M1491.4 892.7V865.1M1505.3 892.7V861.6M1511.5 892.7V860.6M1517 892.7V865.7M1525.9 892.7V872.9M1531.4 892.7V856.9M1543.3 892.7V864.7M1555.6 892.7V852M1564.9 892.7V879.1M1576.2 892.7V876M1587.5 892.7V883.2M1595.7 892.7V876M1613.6 892.7V866.7M1624.8 892.7V872.9M1625 892.7V877M1632.2 892.7V867.8M1643.5 892.7V863.7M1650.7 892.7V850.3M1656.4 892.7V848.3M1665.5 892.7V828.8M1671.2 892.7V866.7M1677 892.7V830.8M1683.5 892.7V853.4M1688.7 892.7V837M1695.8 892.7V862.6M1701 892.7V843.1M1708.8 892.7V847.2M1716.4 892.7V857.5M1722.5 892.7V857.5M1728.7 892.7V870.8M1736.9 892.7V850.3M1745.1 892.7V872.9M1752.3 892.7V859.6M1759.5 892.7V870.8M1765.2 892.7V866.7M1773.9 892.7V872.9M1786.2 892.7V870.8M1797.5 892.7V856.5M1806.7 892.7V870.8M1823.2 892.7V865.7M1835.5 892.7V868.8M1848.4 892.7V843.1M1854 892.7V864.7M1859.1 892.7V837M1866.3 892.7V868.8M1873.5 892.7V854.4M1884.8 892.7V862.6M1897.1 892.7V861.6M1904.3 892.7V877M1911 892.7V842.1M1917.6 892.7V877M1923.8 892.7V866.7M1932 892.7V871.9M1944.3 892.7V878M1925.4 892.7V931.9" fill="none" stroke="#b22222" stroke-width="2.6" stroke-linecap="round"/>
<path d="M124 892.7V938.3M136.1 892.7V933.6M178.6 892.7V971.8M183.2 892.7V927.5M191.6 892.7V1017.4M202.9 892.7V990.3M206.4 892.7V929.7M211.9 892.7V928.1M215.8 892.7V940M217 892.7V929.1M227.7 892.7V959.9M228.7 892.7V930.1M230.6 892.7V943.1M236.6 892.7V926.2M240.9 892.7V1001.6M254 892.7V933.6M266.7 892.7V929.7M336.6 892.7V940.2M343.7 892.7V925M348.5 892.7V942.4M357.7 892.7V937.3M361.2 892.7V946.6M366.3 892.7V928.1M369 892.7V951.7M370.6 892.7V948.6M374.5 892.7V955.2M376.2 892.7V945.5M378.2 892.7V940.4M379.3 892.7V933.2M383 892.7V962.4M383.4 892.7V927.5M384 892.7V956.2M384.4 892.7V946.6M385.8 892.7V925.4M387.1 892.7V947.6M388.3 892.7V934.2M392.4 892.7V941M395.9 892.7V982.9M396.7 892.7V961.5M399.8 892.7V952.7M401.2 892.7V932.6M401.4 892.7V927.9M405.3 892.7V940M408.8 892.7V927.5M409 892.7V947.6M409.7 892.7V934.2M410.1 892.7V937.3M412.5 892.7V949.6M421.4 892.7V958.7M422 892.7V929.5M423 892.7V934.6M426.7 892.7V944.9M427.5 892.7V924.4M434.1 892.7V934.6M434.7 892.7V926M435.7 892.7V924.4M535.3 892.7V939.4M538.4 892.7V925.4M547.2 892.7V952.1M550.9 892.7V934.4M559.5 892.7V943.9M562.6 892.7V945.9M564.1 892.7V926.6M564.3 892.7V930.1M567.8 892.7V936.5M593.4 892.7V927M594 892.7V928.1M601 892.7V938.5M605.7 892.7V927M606.2 892.7V978.4M607.2 892.7V929.7M611.9 892.7V925.6M612.3 892.7V938.7M619.1 892.7V929.1M624.6 892.7V925.4M656.9 892.7V929.1M700.4 892.7V934.4M700.4 892.7V959.9M709.9 892.7V927.9M712.5 892.7V962M712.7 892.7V966.5M713.6 892.7V934.4M722 892.7V926.2M722.8 892.7V959.9M723.8 892.7V1001.4M725.5 892.7V1006.1M726.5 892.7V955.8M728.3 892.7V944.5M731 892.7V991.7M733.1 892.7V946.6M733.7 892.7V960.9M734.1 892.7V950.7M735.1 892.7V935.3M737.2 892.7V936.3M737.6 892.7V999.3M739.6 892.7V957.8M740.2 892.7V944.5M742.9 892.7V925.6M743.7 892.7V926.4M745 892.7V940M745.8 892.7V964.4M747 892.7V965M748.5 892.7V941.4M749.7 892.7V981.9M751.5 892.7V940.8M752.6 892.7V954.1M754 892.7V925.6M755.6 892.7V940.6M757.7 892.7V927M758.1 892.7V991.7M759.1 892.7V925.6M759.8 892.7V931.1M762.8 892.7V980.8M765.5 892.7V960.9M766.3 892.7V931.1M767.6 892.7V925.6M768.4 892.7V1014.3M771 892.7V963M772.1 892.7V927.7M775.8 892.7V968.1M777.6 892.7V928.5M779.5 892.7V942.9M784.4 892.7V935.3M814.8 892.7V971.8M814.8 892.7V999.3M815.6 892.7V936.7M815.6 892.7V954.4M815.6 892.7V962.4M865.7 892.7V929.1M865.7 892.7V949.6M877.8 892.7V937.7M882.3 892.7V993.8M883.6 892.7V936.7M889.1 892.7V962.4M891.2 892.7V933.6M895.3 892.7V970.6M899.4 892.7V929.1M899.4 892.7V960.9M899.4 892.7V988.2M907.6 892.7V1047.2M907.8 892.7V925.4M908.2 892.7V945.5M914 892.7V962M914.8 892.7V926.4M919.5 892.7V1020.9M920.1 892.7V950.7M920.5 892.7V992.8M921.6 892.7V948.6M927.1 892.7V1009.6M928.1 892.7V936.7M932.4 892.7V965.4M932.9 892.7V998.5M933.5 892.7V939M938.2 892.7V1037.5M940 892.7V925.6M940.5 892.7V937.3M945.2 892.7V1044.1M945.6 892.7V944.9M946.2 892.7V927.5M946.8 892.7V928.1M951.3 892.7V1008.8M952 892.7V953.1M957.9 892.7V995.8M958.5 892.7V925.6M959.5 892.7V929.1M960.6 892.7V933.2M961.6 892.7V925M962.2 892.7V928.5M962.6 892.7V944.9M964.1 892.7V964M964.7 892.7V937.3M970.4 892.7V979.4M971.3 892.7V951.1M971.9 892.7V954.8M973.9 892.7V928.1M975.6 892.7V933.2M976.4 892.7V968.1M976.8 892.7V926.6M983.6 892.7V946.6M988.3 892.7V929.7M989.7 892.7V929.5M989.7 892.7V943.1M1002.3 892.7V927M1008.8 892.7V933.6M1080.1 892.7V959.9M1093 892.7V929.1M1094.5 892.7V928.5M1097.7 892.7V935.3M1099.8 892.7V946.6M1106.2 892.7V926.2M1116.2 892.7V928.1M1118.3 892.7V931.8M1119.9 892.7V941M1123.8 892.7V926M1124.8 892.7V952.1M1130.6 892.7V928.5M1132 892.7V934.4M1137.2 892.7V932.8M1149.5 892.7V927.5M1150.1 892.7V927.9M1276 892.7V934.4M1283.6 892.7V989.7M1284.4 892.7V949M1289.1 892.7V939.4M1294.7 892.7V943.5M1299.4 892.7V950M1299.8 892.7V932.2M1301 892.7V949.6M1303.1 892.7V931.1M1305.1 892.7V933.2M1307.6 892.7V942.4M1307.8 892.7V969.8M1313.3 892.7V950.7M1315.4 892.7V928.1M1316.8 892.7V924.6M1319.5 892.7V941M1319.9 892.7V953.3M1324.2 892.7V967.5M1328.1 892.7V925.6M1332.9 892.7V951.3M1333.5 892.7V925.6M1336.6 892.7V957M1364.3 892.7V927.5M1377.2 892.7V928.3M1433.7 892.7V927.5M1441.3 892.7V929.1M1445.8 892.7V963.4M1454.2 892.7V932.2M1458.7 892.7V971M1466.3 892.7V927.5M1471 892.7V971M1475.8 892.7V925.4M1478.2 892.7V947.6M1483.2 892.7V956.2M1487.3 892.7V945.5M1490.3 892.7V972.8M1496.3 892.7V966.5M1498.8 892.7V951.3M1503.7 892.7V990.7M1504.7 892.7V957M1508.8 892.7V966.5M1511.1 892.7V945.7M1516.4 892.7V976.3M1522 892.7V960.9M1529.4 892.7V926M1529.4 892.7V932.2M1529.6 892.7V957.4M1529.6 892.7V967.3M1535.9 892.7V948.6M1549.1 892.7V933.6M1549.1 892.7V947.6M1630.8 892.7V948.6M1633.2 892.7V926M1634.7 892.7V926.6M1638.3 892.7V972.2M1639.4 892.7V931.1M1642.9 892.7V962.4M1646.2 892.7V925M1646.6 892.7V998.9M1647 892.7V945.9M1650.3 892.7V975.3M1650.7 892.7V933.2M1651.3 892.7V925.4M1651.7 892.7V935.3M1655.2 892.7V995.8M1655.8 892.7V959.5M1656.2 892.7V943.1M1658.9 892.7V933.2M1659.9 892.7V939.8M1663.4 892.7V944.5M1663.6 892.7V928.7M1668.1 892.7V973.9M1673.7 892.7V925.4M1676.3 892.7V962.4M1683.1 892.7V933.2M1685.2 892.7V925M1685.6 892.7V954.1M1688.2 892.7V1047.2M1689.3 892.7V968.1M1689.7 892.7V939.8M1690.7 892.7V933.2M1691.7 892.7V927M1693.4 892.7V925M1694.2 892.7V944.5M1698.9 892.7V931.1M1700.4 892.7V1020.1M1707.1 892.7V960.5M1709.2 892.7V932.4M1709.8 892.7V928.7M1711.7 892.7V942.4M1712.3 892.7V926.6M1714.3 892.7V991.3M1714.7 892.7V925M1719.9 892.7V949.6M1724.2 892.7V925M1725.8 892.7V932.2M1726.2 892.7V926.6M1726.4 892.7V960.9M1738.3 892.7V926.2M1785.8 892.7V939.4M1789.5 892.7V950.7M1796.9 892.7V980.8M1797.9 892.7V927.5M1801.6 892.7V938.3M1809 892.7V957.8M1809.8 892.7V925.4M1814.5 892.7V949M1821.1 892.7V975.3M1821.3 892.7V930.1M1823.2 892.7V941M1827.7 892.7V956.2M1833.4 892.7V1004M1834 892.7V951.3M1839.8 892.7V949.6M1846.4 892.7V939.4M1846.4 892.7V990.7M1851.9 892.7V949.6M1854.4 892.7V932.2M1859.1 892.7V1003.4M1859.5 892.7V944.5M1859.7 892.7V926.4M1864.8 892.7V978.4M1872 892.7V998.5M1872.2 892.7V939.4M1897.5 892.7V961.5" fill="none" stroke="#b22222" stroke-width="3.3" stroke-linecap="round"/>
<g fill="none" stroke="#000" stroke-width="1.6"><circle cx="124" cy="938.3" r="4.1"/><circle cx="136.1" cy="933.6" r="4.1"/><circle cx="178.6" cy="971.8" r="4.1"/><circle cx="183.2" cy="927.5" r="4.1"/><circle cx="191.6" cy="1017.4" r="4.1"/><circle cx="202.9" cy="990.3" r="4.1"/><circle cx="206.4" cy="929.7" r="4.1"/><circle cx="211.9" cy="928.1" r="4.1"/><circle cx="215.8" cy="940" r="4.1"/><circle cx="217" cy="929.1" r="4.1"/><circle cx="227.7" cy="959.9" r="4.1"/><circle cx="228.7" cy="930.1" r="4.1"/><circle cx="230.6" cy="943.1" r="4.1"/><circle cx="236.6" cy="926.2" r="4.1"/><circle cx="240.9" cy="1001.6" r="4.1"/><circle cx="254" cy="933.6" r="4.1"/><circle cx="266.7" cy="929.7" r="4.1"/><circle cx="336.6" cy="940.2" r="4.1"/><circle cx="343.7" cy="925" r="4.1"/><circle cx="348.5" cy="942.4" r="4.1"/><circle cx="357.7" cy="937.3" r="4.1"/><circle cx="361.2" cy="946.6" r="4.1"/><circle cx="366.3" cy="928.1" r="4.1"/><circle cx="369" cy="951.7" r="4.1"/><circle cx="370.6" cy="948.6" r="4.1"/><circle cx="374.5" cy="955.2" r="4.1"/><circle cx="376.2" cy="945.5" r="4.1"/><circle cx="378.2" cy="940.4" r="4.1"/><circle cx="379.3" cy="933.2" r="4.1"/><circle cx="383" cy="962.4" r="4.1"/><circle cx="383.4" cy="927.5" r="4.1"/><circle cx="384" cy="956.2" r="4.1"/><circle cx="384.4" cy="946.6" r="4.1"/><circle cx="385.8" cy="925.4" r="4.1"/><circle cx="387.1" cy="947.6" r="4.1"/><circle cx="388.3" cy="934.2" r="4.1"/><circle cx="392.4" cy="941" r="4.1"/><circle cx="395.9" cy="982.9" r="4.1"/><circle cx="396.7" cy="961.5" r="4.1"/><circle cx="399.8" cy="952.7" r="4.1"/><circle cx="401.2" cy="932.6" r="4.1"/><circle cx="401.4" cy="927.9" r="4.1"/><circle cx="405.3" cy="940" r="4.1"/><circle cx="408.8" cy="927.5" r="4.1"/><circle cx="409" cy="947.6" r="4.1"/><circle cx="409.7" cy="934.2" r="4.1"/><circle cx="410.1" cy="937.3" r="4.1"/><circle cx="412.5" cy="949.6" r="4.1"/><circle cx="421.4" cy="958.7" r="4.1"/><circle cx="422" cy="929.5" r="4.1"/><circle cx="423" cy="934.6" r="4.1"/><circle cx="426.7" cy="944.9" r="4.1"/><circle cx="427.5" cy="924.4" r="4.1"/><circle cx="434.1" cy="934.6" r="4.1"/><circle cx="434.7" cy="926" r="4.1"/><circle cx="435.7" cy="924.4" r="4.1"/><circle cx="535.3" cy="939.4" r="4.1"/><circle cx="538.4" cy="925.4" r="4.1"/><circle cx="547.2" cy="952.1" r="4.1"/><circle cx="550.9" cy="934.4" r="4.1"/><circle cx="559.5" cy="943.9" r="4.1"/><circle cx="562.6" cy="945.9" r="4.1"/><circle cx="564.1" cy="926.6" r="4.1"/><circle cx="564.3" cy="930.1" r="4.1"/><circle cx="567.8" cy="936.5" r="4.1"/><circle cx="593.4" cy="927" r="4.1"/><circle cx="594" cy="928.1" r="4.1"/><circle cx="601" cy="938.5" r="4.1"/><circle cx="605.7" cy="927" r="4.1"/><circle cx="606.2" cy="978.4" r="4.1"/><circle cx="607.2" cy="929.7" r="4.1"/><circle cx="611.9" cy="925.6" r="4.1"/><circle cx="612.3" cy="938.7" r="4.1"/><circle cx="619.1" cy="929.1" r="4.1"/><circle cx="624.6" cy="925.4" r="4.1"/><circle cx="656.9" cy="929.1" r="4.1"/><circle cx="700.4" cy="934.4" r="4.1"/><circle cx="700.4" cy="959.9" r="4.1"/><circle cx="709.9" cy="927.9" r="4.1"/><circle cx="712.5" cy="962" r="4.1"/><circle cx="712.7" cy="966.5" r="4.1"/><circle cx="713.6" cy="934.4" r="4.1"/><circle cx="722" cy="926.2" r="4.1"/><circle cx="722.8" cy="959.9" r="4.1"/><circle cx="723.8" cy="1001.4" r="4.1"/><circle cx="725.5" cy="1006.1" r="4.1"/><circle cx="726.5" cy="955.8" r="4.1"/><circle cx="728.3" cy="944.5" r="4.1"/><circle cx="731" cy="991.7" r="4.1"/><circle cx="733.1" cy="946.6" r="4.1"/><circle cx="733.7" cy="960.9" r="4.1"/><circle cx="734.1" cy="950.7" r="4.1"/><circle cx="735.1" cy="935.3" r="4.1"/><circle cx="737.2" cy="936.3" r="4.1"/><circle cx="737.6" cy="999.3" r="4.1"/><circle cx="739.6" cy="957.8" r="4.1"/><circle cx="740.2" cy="944.5" r="4.1"/><circle cx="742.9" cy="925.6" r="4.1"/><circle cx="743.7" cy="926.4" r="4.1"/><circle cx="745" cy="940" r="4.1"/><circle cx="745.8" cy="964.4" r="4.1"/><circle cx="747" cy="965" r="4.1"/><circle cx="748.5" cy="941.4" r="4.1"/><circle cx="749.7" cy="981.9" r="4.1"/><circle cx="751.5" cy="940.8" r="4.1"/><circle cx="752.6" cy="954.1" r="4.1"/><circle cx="754" cy="925.6" r="4.1"/><circle cx="755.6" cy="940.6" r="4.1"/><circle cx="757.7" cy="927" r="4.1"/><circle cx="758.1" cy="991.7" r="4.1"/><circle cx="759.1" cy="925.6" r="4.1"/><circle cx="759.8" cy="931.1" r="4.1"/><circle cx="762.8" cy="980.8" r="4.1"/><circle cx="765.5" cy="960.9" r="4.1"/><circle cx="766.3" cy="931.1" r="4.1"/><circle cx="767.6" cy="925.6" r="4.1"/><circle cx="768.4" cy="1014.3" r="4.1"/><circle cx="771" cy="963" r="4.1"/><circle cx="772.1" cy="927.7" r="4.1"/><circle cx="775.8" cy="968.1" r="4.1"/><circle cx="777.6" cy="928.5" r="4.1"/><circle cx="779.5" cy="942.9" r="4.1"/><circle cx="784.4" cy="935.3" r="4.1"/><circle cx="814.8" cy="971.8" r="4.1"/><circle cx="814.8" cy="999.3" r="4.1"/><circle cx="815.6" cy="936.7" r="4.1"/><circle cx="815.6" cy="954.4" r="4.1"/><circle cx="815.6" cy="962.4" r="4.1"/><circle cx="865.7" cy="929.1" r="4.1"/><circle cx="865.7" cy="949.6" r="4.1"/><circle cx="877.8" cy="937.7" r="4.1"/><circle cx="882.3" cy="993.8" r="4.1"/><circle cx="883.6" cy="936.7" r="4.1"/><circle cx="889.1" cy="962.4" r="4.1"/><circle cx="891.2" cy="933.6" r="4.1"/><circle cx="895.3" cy="970.6" r="4.1"/><circle cx="899.4" cy="929.1" r="4.1"/><circle cx="899.4" cy="960.9" r="4.1"/><circle cx="899.4" cy="988.2" r="4.1"/><circle cx="907.6" cy="1047.2" r="4.1"/><circle cx="907.8" cy="925.4" r="4.1"/><circle cx="908.2" cy="945.5" r="4.1"/><circle cx="914" cy="962" r="4.1"/><circle cx="914.8" cy="926.4" r="4.1"/><circle cx="919.5" cy="1020.9" r="4.1"/><circle cx="920.1" cy="950.7" r="4.1"/><circle cx="920.5" cy="992.8" r="4.1"/><circle cx="921.6" cy="948.6" r="4.1"/><circle cx="927.1" cy="1009.6" r="4.1"/><circle cx="928.1" cy="936.7" r="4.1"/><circle cx="932.4" cy="965.4" r="4.1"/><circle cx="932.9" cy="998.5" r="4.1"/><circle cx="933.5" cy="939" r="4.1"/><circle cx="938.2" cy="1037.5" r="4.1"/><circle cx="940" cy="925.6" r="4.1"/><circle cx="940.5" cy="937.3" r="4.1"/><circle cx="945.2" cy="1044.1" r="4.1"/><circle cx="945.6" cy="944.9" r="4.1"/><circle cx="946.2" cy="927.5" r="4.1"/><circle cx="946.8" cy="928.1" r="4.1"/><circle cx="951.3" cy="1008.8" r="4.1"/><circle cx="952" cy="953.1" r="4.1"/><circle cx="957.9" cy="995.8" r="4.1"/><circle cx="958.5" cy="925.6" r="4.1"/><circle cx="959.5" cy="929.1" r="4.1"/><circle cx="960.6" cy="933.2" r="4.1"/><circle cx="961.6" cy="925" r="4.1"/><circle cx="962.2" cy="928.5" r="4.1"/><circle cx="962.6" cy="944.9" r="4.1"/><circle cx="964.1" cy="964" r="4.1"/><circle cx="964.7" cy="937.3" r="4.1"/><circle cx="970.4" cy="979.4" r="4.1"/><circle cx="971.3" cy="951.1" r="4.1"/><circle cx="971.9" cy="954.8" r="4.1"/><circle cx="973.9" cy="928.1" r="4.1"/><circle cx="975.6" cy="933.2" r="4.1"/><circle cx="976.4" cy="968.1" r="4.1"/><circle cx="976.8" cy="926.6" r="4.1"/><circle cx="983.6" cy="946.6" r="4.1"/><circle cx="988.3" cy="929.7" r="4.1"/><circle cx="989.7" cy="929.5" r="4.1"/><circle cx="989.7" cy="943.1" r="4.1"/><circle cx="1002.3" cy="927" r="4.1"/><circle cx="1008.8" cy="933.6" r="4.1"/><circle cx="1080.1" cy="959.9" r="4.1"/><circle cx="1093" cy="929.1" r="4.1"/><circle cx="1094.5" cy="928.5" r="4.1"/><circle cx="1097.7" cy="935.3" r="4.1"/><circle cx="1099.8" cy="946.6" r="4.1"/><circle cx="1106.2" cy="926.2" r="4.1"/><circle cx="1116.2" cy="928.1" r="4.1"/><circle cx="1118.3" cy="931.8" r="4.1"/><circle cx="1119.9" cy="941" r="4.1"/><circle cx="1123.8" cy="926" r="4.1"/><circle cx="1124.8" cy="952.1" r="4.1"/><circle cx="1130.6" cy="928.5" r="4.1"/><circle cx="1132" cy="934.4" r="4.1"/><circle cx="1137.2" cy="932.8" r="4.1"/><circle cx="1149.5" cy="927.5" r="4.1"/><circle cx="1150.1" cy="927.9" r="4.1"/><circle cx="1276" cy="934.4" r="4.1"/><circle cx="1283.6" cy="989.7" r="4.1"/><circle cx="1284.4" cy="949" r="4.1"/><circle cx="1289.1" cy="939.4" r="4.1"/><circle cx="1294.7" cy="943.5" r="4.1"/><circle cx="1299.4" cy="950" r="4.1"/><circle cx="1299.8" cy="932.2" r="4.1"/><circle cx="1301" cy="949.6" r="4.1"/><circle cx="1303.1" cy="931.1" r="4.1"/><circle cx="1305.1" cy="933.2" r="4.1"/><circle cx="1307.6" cy="942.4" r="4.1"/><circle cx="1307.8" cy="969.8" r="4.1"/><circle cx="1313.3" cy="950.7" r="4.1"/><circle cx="1315.4" cy="928.1" r="4.1"/><circle cx="1316.8" cy="924.6" r="4.1"/><circle cx="1319.5" cy="941" r="4.1"/><circle cx="1319.9" cy="953.3" r="4.1"/><circle cx="1324.2" cy="967.5" r="4.1"/><circle cx="1328.1" cy="925.6" r="4.1"/><circle cx="1332.9" cy="951.3" r="4.1"/><circle cx="1333.5" cy="925.6" r="4.1"/><circle cx="1336.6" cy="957" r="4.1"/><circle cx="1364.3" cy="927.5" r="4.1"/><circle cx="1377.2" cy="928.3" r="4.1"/><circle cx="1433.7" cy="927.5" r="4.1"/><circle cx="1441.3" cy="929.1" r="4.1"/><circle cx="1445.8" cy="963.4" r="4.1"/><circle cx="1454.2" cy="932.2" r="4.1"/><circle cx="1458.7" cy="971" r="4.1"/><circle cx="1466.3" cy="927.5" r="4.1"/><circle cx="1471" cy="971" r="4.1"/><circle cx="1475.8" cy="925.4" r="4.1"/><circle cx="1478.2" cy="947.6" r="4.1"/><circle cx="1483.2" cy="956.2" r="4.1"/><circle cx="1487.3" cy="945.5" r="4.1"/><circle cx="1490.3" cy="972.8" r="4.1"/><circle cx="1496.3" cy="966.5" r="4.1"/><circle cx="1498.8" cy="951.3" r="4.1"/><circle cx="1503.7" cy="990.7" r="4.1"/><circle cx="1504.7" cy="957" r="4.1"/><circle cx="1508.8" cy="966.5" r="4.1"/><circle cx="1511.1" cy="945.7" r="4.1"/><circle cx="1516.4" cy="976.3" r="4.1"/><circle cx="1522" cy="960.9" r="4.1"/><circle cx="1529.4" cy="926" r="4.1"/><circle cx="1529.4" cy="932.2" r="4.1"/><circle cx="1529.6" cy="957.4" r="4.1"/><circle cx="1529.6" cy="967.3" r="4.1"/><circle cx="1535.9" cy="948.6" r="4.1"/><circle cx="1549.1" cy="933.6" r="4.1"/><circle cx="1549.1" cy="947.6" r="4.1"/><circle cx="1630.8" cy="948.6" r="4.1"/><circle cx="1633.2" cy="926" r="4.1"/><circle cx="1634.7" cy="926.6" r="4.1"/><circle cx="1638.3" cy="972.2" r="4.1"/><circle cx="1639.4" cy="931.1" r="4.1"/><circle cx="1642.9" cy="962.4" r="4.1"/><circle cx="1646.2" cy="925" r="4.1"/><circle cx="1646.6" cy="998.9" r="4.1"/><circle cx="1647" cy="945.9" r="4.1"/><circle cx="1650.3" cy="975.3" r="4.1"/><circle cx="1650.7" cy="933.2" r="4.1"/><circle cx="1651.3" cy="925.4" r="4.1"/><circle cx="1651.7" cy="935.3" r="4.1"/><circle cx="1655.2" cy="995.8" r="4.1"/><circle cx="1655.8" cy="959.5" r="4.1"/><circle cx="1656.2" cy="943.1" r="4.1"/><circle cx="1658.9" cy="933.2" r="4.1"/><circle cx="1659.9" cy="939.8" r="4.1"/><circle cx="1663.4" cy="944.5" r="4.1"/><circle cx="1663.6" cy="928.7" r="4.1"/><circle cx="1668.1" cy="973.9" r="4.1"/><circle cx="1673.7" cy="925.4" r="4.1"/><circle cx="1676.3" cy="962.4" r="4.1"/><circle cx="1683.1" cy="933.2" r="4.1"/><circle cx="1685.2" cy="925" r="4.1"/><circle cx="1685.6" cy="954.1" r="4.1"/><circle cx="1688.2" cy="1047.2" r="4.1"/><circle cx="1689.3" cy="968.1" r="4.1"/><circle cx="1689.7" cy="939.8" r="4.1"/><circle cx="1690.7" cy="933.2" r="4.1"/><circle cx="1691.7" cy="927" r="4.1"/><circle cx="1693.4" cy="925" r="4.1"/><circle cx="1694.2" cy="944.5" r="4.1"/><circle cx="1698.9" cy="931.1" r="4.1"/><circle cx="1700.4" cy="1020.1" r="4.1"/><circle cx="1707.1" cy="960.5" r="4.1"/><circle cx="1709.2" cy="932.4" r="4.1"/><circle cx="1709.8" cy="928.7" r="4.1"/><circle cx="1711.7" cy="942.4" r="4.1"/><circle cx="1712.3" cy="926.6" r="4.1"/><circle cx="1714.3" cy="991.3" r="4.1"/><circle cx="1714.7" cy="925" r="4.1"/><circle cx="1719.9" cy="949.6" r="4.1"/><circle cx="1724.2" cy="925" r="4.1"/><circle cx="1725.8" cy="932.2" r="4.1"/><circle cx="1726.2" cy="926.6" r="4.1"/><circle cx="1726.4" cy="960.9" r="4.1"/><circle cx="1738.3" cy="926.2" r="4.1"/><circle cx="1785.8" cy="939.4" r="4.1"/><circle cx="1789.5" cy="950.7" r="4.1"/><circle cx="1796.9" cy="980.8" r="4.1"/><circle cx="1797.9" cy="927.5" r="4.1"/><circle cx="1801.6" cy="938.3" r="4.1"/><circle cx="1809" cy="957.8" r="4.1"/><circle cx="1809.8" cy="925.4" r="4.1"/><circle cx="1814.5" cy="949" r="4.1"/><circle cx="1821.1" cy="975.3" r="4.1"/><circle cx="1821.3" cy="930.1" r="4.1"/><circle cx="1823.2" cy="941" r="4.1"/><circle cx="1827.7" cy="956.2" r="4.1"/><circle cx="1833.4" cy="1004" r="4.1"/><circle cx="1834" cy="951.3" r="4.1"/><circle cx="1839.8" cy="949.6" r="4.1"/><circle cx="1846.4" cy="939.4" r="4.1"/><circle cx="1846.4" cy="990.7" r="4.1"/><circle cx="1851.9" cy="949.6" r="4.1"/><circle cx="1854.4" cy="932.2" r="4.1"/><circle cx="1859.1" cy="1003.4" r="4.1"/><circle cx="1859.5" cy="944.5" r="4.1"/><circle cx="1859.7" cy="926.4" r="4.1"/><circle cx="1864.8" cy="978.4" r="4.1"/><circle cx="1872" cy="998.5" r="4.1"/><circle cx="1872.2" cy="939.4" r="4.1"/><circle cx="1897.5" cy="961.5" r="4.1"/></g>
<text x="93.3" y="806.6" text-anchor="end">-60</text>
<text x="93.3" y="839.1" text-anchor="end">-40</text>
<text x="93.3" y="871.6" text-anchor="end">-20</text>
<text x="93.3" y="904.1" text-anchor="end">0</text>
<text x="93.3" y="936.6" text-anchor="end">20</text>
<text x="93.3" y="969.1" text-anchor="end">40</text>
<text x="93.3" y="1001.6" text-anchor="end">60</text>
<text x="93.3" y="1034.1" text-anchor="end">80</text>
<text x="93.3" y="1066.6" text-anchor="end">100</text>
<text x="303.9" y="1096" text-anchor="middle">08/08</text>
<text x="548.8" y="1096" text-anchor="middle">08/28</text>
<text x="793.7" y="1096" text-anchor="middle">09/17</text>
<text x="1038.6" y="1096" text-anchor="middle">10/07</text>
<text x="1283.5" y="1096" text-anchor="middle">10/27</text>
<text x="1528.4" y="1096" text-anchor="middle">11/16</text>
<text x="1773.3" y="1096" text-anchor="middle">12/06</text>
<text class="L" x="1026" y="1137.6" text-anchor="middle">(c)</text>
<text class="L" transform="translate(29.6 925.5) rotate(-90)" text-anchor="middle">Amplitude (m)</text>
</g>
<text class="L" x="1026" y="1179.2" text-anchor="middle">Date (mm/dd)</text>
</svg>
</body>
</html>
